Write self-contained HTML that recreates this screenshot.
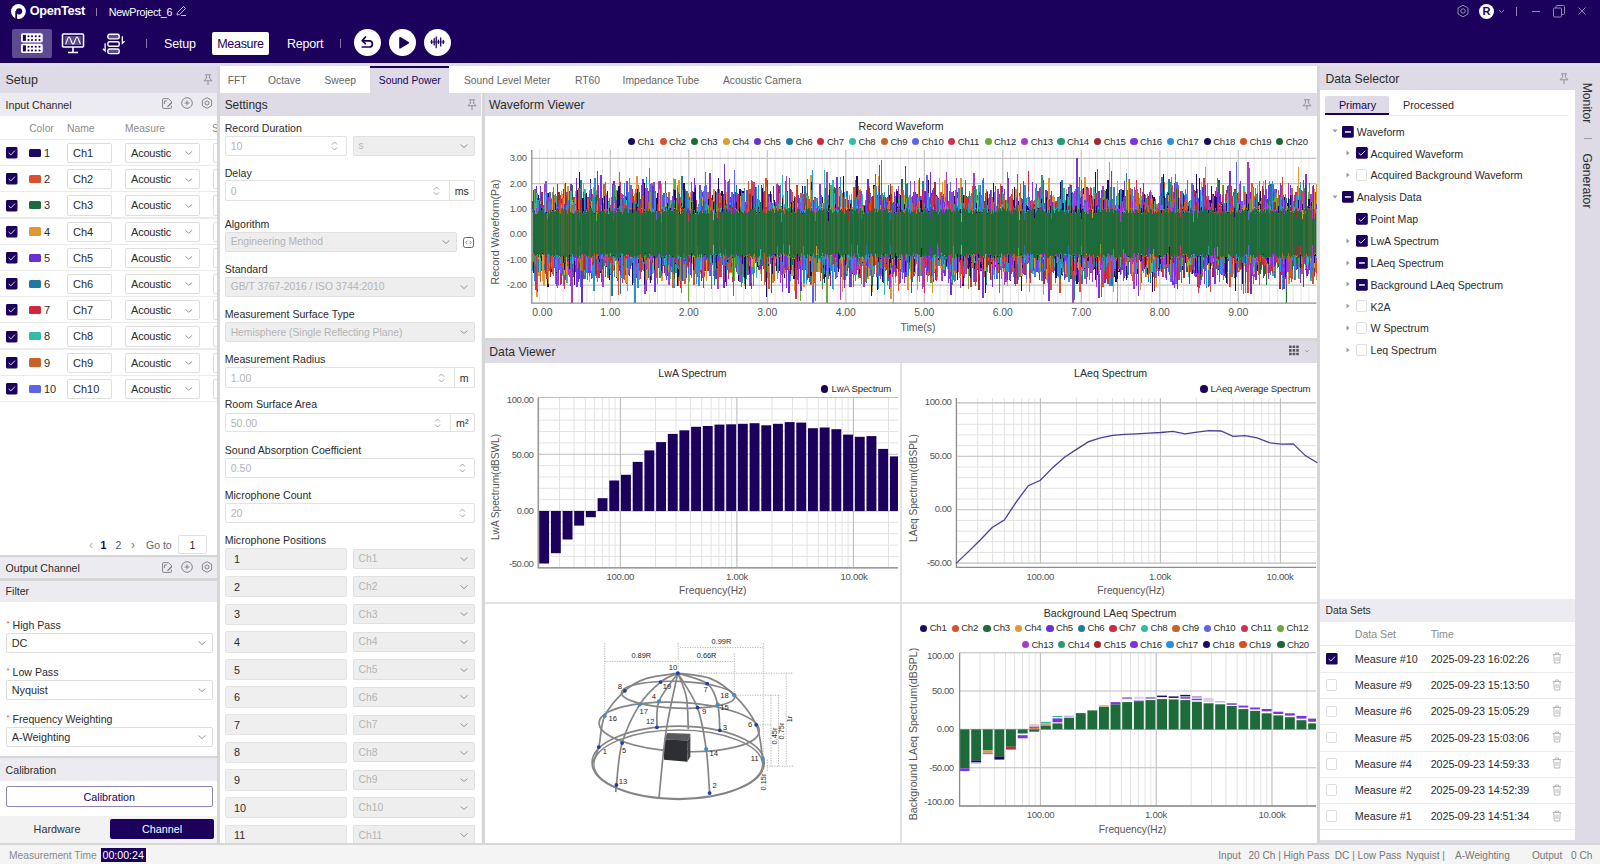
<!DOCTYPE html>
<html><head><meta charset="utf-8"><title>OpenTest</title>
<style>
html,body{margin:0;padding:0;}
body{width:1600px;height:864px;overflow:hidden;position:relative;background:#f4f4f4;font-family:"Liberation Sans",sans-serif;}
body div, body svg{position:absolute;box-sizing:border-box;white-space:nowrap;}
svg{overflow:visible;}
</style></head><body>
<div style="left:0px;top:0px;width:1600px;height:63px;background:#1b015c"></div>
<div style="left:0px;top:63px;width:1600px;height:3px;background:#e0dfdd"></div>
<svg style="left:0px;top:0px" width="30" height="24" viewBox="0 0 30 24">
<circle cx="18.4" cy="11.5" r="7.4" fill="#fff"/>
<circle cx="19.1" cy="11.3" r="3.1" fill="#1b015c"/>
<rect x="15.3" y="11" width="1.8" height="8.8" fill="#1b015c"/>
</svg>
<div style="left:29.7px;top:3.0px;font-size:12.7px;line-height:17px;color:#fff;font-weight:bold;letter-spacing:-0.3px">OpenTest</div>
<div style="left:96px;top:8px;width:1px;height:8px;background:#8f86a8"></div>
<div style="left:108.7px;top:4.8px;font-size:10.7px;line-height:14px;color:#fff;font-weight:normal;letter-spacing:-0.25px">NewProject_6</div>
<svg style="left:175px;top:5px" width="12" height="12" viewBox="0 0 12 12" fill="none" stroke="#c9c3dc" stroke-width="1">
<path d="M2 10 L2.5 7.5 L8.5 1.5 L10.5 3.5 L4.5 9.5 Z"/><path d="M6 10.5 H11"/></svg>
<div style="left:12px;top:28.5px;width:40px;height:29px;background:#5c4b90;border-radius:2px"></div>
<svg style="left:20px;top:32px" width="24" height="22" viewBox="0 0 24 22"><rect x="1" y="1.25" width="21.75" height="9.25" rx="1.8" fill="#fff"/><rect x="2.9" y="2.85" width="3" height="6.05" fill="#1b015c"/><circle cx="8.5" cy="4.25" r="1.05" fill="#1b015c"/><circle cx="8.5" cy="8.0" r="1.05" fill="#1b015c"/><circle cx="12" cy="4.25" r="1.05" fill="#1b015c"/><circle cx="12" cy="8.0" r="1.05" fill="#1b015c"/><circle cx="15.75" cy="4.25" r="1.05" fill="#1b015c"/><circle cx="15.75" cy="8.0" r="1.05" fill="#1b015c"/><circle cx="19.5" cy="4.25" r="1.05" fill="#1b015c"/><circle cx="19.5" cy="8.0" r="1.05" fill="#1b015c"/><rect x="1" y="11.75" width="21.75" height="9.25" rx="1.8" fill="#fff"/><rect x="2.9" y="13.35" width="3" height="6.05" fill="#1b015c"/><circle cx="8.5" cy="14.75" r="1.05" fill="#1b015c"/><circle cx="8.5" cy="18.5" r="1.05" fill="#1b015c"/><circle cx="12" cy="14.75" r="1.05" fill="#1b015c"/><circle cx="12" cy="18.5" r="1.05" fill="#1b015c"/><circle cx="15.75" cy="14.75" r="1.05" fill="#1b015c"/><circle cx="15.75" cy="18.5" r="1.05" fill="#1b015c"/><circle cx="19.5" cy="14.75" r="1.05" fill="#1b015c"/><circle cx="19.5" cy="18.5" r="1.05" fill="#1b015c"/></svg>
<svg style="left:61px;top:33px" width="24" height="21" viewBox="0 0 24 21" fill="none" stroke="#fff" stroke-width="1.6">
<rect x="1.5" y="1" width="21" height="13" rx="1"/><rect x="3.5" y="3" width="17" height="9" fill="#5c4b90" stroke="none"/>
<path d="M4.3 11 C5.8 11 6.3 4 8 4 C9.7 4 10.3 11 12 11 C13.7 11 14.3 4 16 4 C17.7 4 18.3 11 19.8 10.5" stroke-width="1.1"/>
<path d="M12 14 V19 M7 19.5 H17"/></svg>
<svg style="left:102px;top:32px" width="24" height="23" viewBox="0 0 24 23" fill="none" stroke="#fff" stroke-width="1.6">
<rect x="5.9" y="2.3" width="11.3" height="4.6" rx="1.6" fill="#5c4b90" stroke-width="1.4"/><rect x="5.9" y="9.7" width="11.3" height="4.6" rx="1.6" stroke-width="1.4"/><rect x="5.9" y="17" width="11.3" height="4.6" rx="1.6" fill="#5c4b90" stroke-width="1.4"/>
<path d="M20.3 4.3 V11.3 L22.6 9.3" stroke-width="1.3"/>
<path d="M3.1 11.3 V18.9 L0.9 16.8" stroke-width="1.3"/></svg>
<div style="left:146px;top:39px;width:1px;height:9px;background:#7f77a0"></div>
<div style="left:164.0px;top:35.5px;font-size:12.5px;line-height:16px;color:#fff;font-weight:normal;letter-spacing:-0.2px">Setup</div>
<div style="left:212px;top:31.5px;width:57px;height:23.5px;background:#fff;border-radius:2px"></div>
<div style="left:210.5px;top:35.5px;font-size:12.5px;line-height:16px;color:#1b015c;font-weight:normal;width:60px;text-align:center;letter-spacing:-0.3px">Measure</div>
<div style="left:287.0px;top:35.5px;font-size:12.5px;line-height:16px;color:#fff;font-weight:normal;letter-spacing:-0.2px">Report</div>
<div style="left:340px;top:39px;width:1px;height:9px;background:#7f77a0"></div>
<div style="left:353.9px;top:29px;width:26.8px;height:26.8px;border-radius:50%;background:#fff"></div>
<div style="left:389.3px;top:29px;width:26.8px;height:26.8px;border-radius:50%;background:#fff"></div>
<div style="left:424.2px;top:29px;width:26.8px;height:26.8px;border-radius:50%;background:#fff"></div>
<svg style="left:357px;top:32px" width="20" height="20" viewBox="0 0 20 20" fill="none" stroke="#1b015c" stroke-width="1.7">
<path d="M8.5 5 L5.3 8.6 L8.3 11.6" stroke-linecap="round" stroke-linejoin="round"/><path d="M5.5 8.9 H12.3 A3.05 3.05 0 0 1 12.3 15 H5.3" stroke-linecap="round"/></svg>
<svg style="left:393px;top:33px" width="20" height="20" viewBox="0 0 20 20"><path d="M7 4.8 L15.3 9.8 L7 14.8 Z" fill="#1b015c" stroke="#1b015c" stroke-width="1.6" stroke-linejoin="round"/></svg>
<svg style="left:428px;top:33px" width="20" height="20" viewBox="0 0 20 20" stroke="#1b015c" stroke-width="1.5" stroke-linecap="round">
<path d="M3.7 7.5V10.4 M6.2 5.7V11.9 M8.2 4V14.7 M10.4 7.2V10.4 M12.7 5V12.9 M15.2 7.5V10.4" stroke-width="1.3"/><path d="M2.5 9 H16.5" stroke-width="0.8"/></svg>
<svg style="left:1456px;top:4px" width="14" height="14" viewBox="0 0 14 14" fill="none" stroke="#8f89ab" stroke-width="1">
<path d="M7 1.2 L12 4 V10 L7 12.8 L2 10 V4 Z"/><circle cx="7" cy="7" r="2.2"/></svg>
<div style="left:1479px;top:4px;width:15px;height:15px;border-radius:50%;background:#fff;color:#1b015c;font-size:11px;line-height:15px;text-align:center;font-weight:bold">R</div>
<svg style="left:1498px;top:9px" width="7" height="5" viewBox="0 0 7 5" fill="none" stroke="#8f89ab" stroke-width="1"><path d="M1 1 L3.5 3.5 L6 1"/></svg>
<div style="left:1515.5px;top:7px;width:1.5px;height:9px;background:#8f89ab"></div>
<div style="left:1532px;top:11px;width:8px;height:1px;background:#8f89ab"></div>
<svg style="left:1552px;top:4px" width="14" height="14" viewBox="0 0 14 14" fill="none" stroke="#8f89ab" stroke-width="1">
<rect x="1.5" y="4" width="8" height="9" rx="1"/><path d="M4 4 V2.5 A1 1 0 0 1 5 1.5 H11.5 A1 1 0 0 1 12.5 2.5 V9.5 A1 1 0 0 1 11.5 10.5 H9.5"/></svg>
<svg style="left:1577px;top:6px" width="10" height="10" viewBox="0 0 10 10" fill="none" stroke="#8f89ab" stroke-width="1"><path d="M1.5 1.5 L8.5 8.5 M8.5 1.5 L1.5 8.5"/></svg>
<div style="left:0px;top:66px;width:217px;height:26.5px;background:#dedbe7"></div>
<div style="left:0px;top:92.5px;width:217px;height:23.5px;background:#ecebf1"></div>
<div style="left:0px;top:116px;width:217px;height:439px;background:#fff"></div>
<div style="left:0px;top:555px;width:217px;height:2.3px;background:#d6d6d6"></div>
<div style="left:0px;top:557.3px;width:217px;height:20.8px;background:#ecebf1"></div>
<div style="left:0px;top:578.1px;width:217px;height:2.6px;background:#d6d6d6"></div>
<div style="left:0px;top:580.7px;width:217px;height:21.5px;background:#ecebf1"></div>
<div style="left:0px;top:602.2px;width:217px;height:153.8px;background:#fff"></div>
<div style="left:0px;top:756px;width:217px;height:2.2px;background:#d6d6d6"></div>
<div style="left:0px;top:758.2px;width:217px;height:22.5px;background:#ecebf1"></div>
<div style="left:0px;top:780.7px;width:217px;height:35px;background:#fff"></div>
<div style="left:0px;top:815.7px;width:217px;height:27px;background:#f2f2f2"></div>
<div style="left:217px;top:66px;width:3px;height:777px;background:#d6d6d6"></div>
<div style="left:220px;top:66px;width:1097px;height:27px;background:#fff"></div>
<div style="left:370.4px;top:66px;width:78.4px;height:27px;background:#dedbe7"></div>
<div style="left:370.4px;top:66px;width:78.4px;height:2px;background:#1b015c"></div>
<div style="left:220px;top:93px;width:261px;height:23px;background:#dedbe7"></div>
<div style="left:220px;top:116px;width:261px;height:727px;background:#fff"></div>
<div style="left:481.6px;top:93px;width:3px;height:750px;background:#d6d6d6"></div>
<div style="left:484.5px;top:93px;width:832.5px;height:23px;background:#dedbe7"></div>
<div style="left:484.5px;top:116px;width:832.5px;height:222px;background:#fff"></div>
<div style="left:484.5px;top:338px;width:832.5px;height:3px;background:#d6d6d6"></div>
<div style="left:484.5px;top:341px;width:832.5px;height:22px;background:#dedbe7"></div>
<div style="left:484.5px;top:363px;width:832.5px;height:480px;background:#fff"></div>
<div style="left:900.3px;top:363px;width:1.8px;height:480px;background:#e2e2e2"></div>
<div style="left:484.5px;top:602px;width:832.5px;height:1.5px;background:#e2e2e2"></div>
<div style="left:1317px;top:66px;width:3px;height:777px;background:#d6d6d6"></div>
<div style="left:1320px;top:66px;width:280px;height:777px;background:#dedbe7"></div>
<div style="left:1320px;top:90px;width:255px;height:508.7px;background:#fff"></div>
<div style="left:1320px;top:598.7px;width:255px;height:23px;background:#ecebf1"></div>
<div style="left:1320px;top:621.7px;width:255px;height:218px;background:#fff"></div>
<div style="left:0px;top:842.5px;width:1600px;height:2.5px;background:#d6d6d6"></div>
<div style="left:0px;top:845px;width:1600px;height:19px;background:#f4f4f4"></div>
<div style="left:0px;top:66px;width:217px;height:777px;overflow:hidden"><div style="left:0px;top:-66px;width:1600px;height:864px">
<div style="left:5.6px;top:71.5px;font-size:12.5px;line-height:16px;color:#2b2b2b;font-weight:normal;letter-spacing:-0.1px">Setup</div>
<svg style="left:202.5px;top:73.5px" width="10" height="12" viewBox="0 0 10 12" fill="none" stroke="#8a8a8a" stroke-width="0.9" stroke-linejoin="round"><path d="M2.2 0.8 H7.8 M3.2 0.8 L3.6 4 L1 6.8 H9 L6.4 4 L6.8 0.8 M5 6.8 V11"/></svg>
<div style="left:5.6px;top:98.0px;font-size:10.6px;line-height:14px;color:#2b2b2b;font-weight:normal;">Input Channel</div>
<svg style="left:161.5px;top:97.5px" width="11" height="11" viewBox="0 0 11 11" fill="none" stroke="#7a7a7a" stroke-width="0.9"><path d="M6.5 0.6 H1.5 A0.9 0.9 0 0 0 0.6 1.5 V9.5 A0.9 0.9 0 0 0 1.5 10.4 H8.5 A0.9 0.9 0 0 0 9.4 9.5 V7.5"/><path d="M6.5 0.6 L9.4 3.5 V5"/><path d="M2.5 3 H5 M2.5 3 V6"/><path d="M5.5 8.8 L9.8 4.5" stroke-width="1.2"/></svg>
<svg style="left:180.6px;top:97px" width="12" height="12" viewBox="0 0 12 12" fill="none" stroke="#7a7a7a" stroke-width="0.9"><circle cx="6" cy="6" r="5.3"/><path d="M6 3.5 V8.5 M3.5 6 H8.5"/></svg>
<svg style="left:201px;top:97px" width="12" height="12" viewBox="0 0 12 12" fill="none" stroke="#7a7a7a" stroke-width="0.9"><path d="M6 0.7 L10.6 3.3 V8.7 L6 11.3 L1.4 8.7 V3.3 Z"/><circle cx="6" cy="6" r="2"/></svg>
<div style="left:29.2px;top:121.5px;font-size:10.3px;line-height:13px;color:#8c8c8c;font-weight:normal;">Color</div>
<div style="left:67.0px;top:121.5px;font-size:10.3px;line-height:13px;color:#8c8c8c;font-weight:normal;">Name</div>
<div style="left:125.0px;top:121.5px;font-size:10.3px;line-height:13px;color:#8c8c8c;font-weight:normal;">Measure</div>
<div style="left:212.0px;top:121.5px;font-size:10.3px;line-height:13px;color:#8c8c8c;font-weight:normal;">S</div>
<div style="left:0px;top:138.70000000000002px;width:217px;height:1.4px;background:#ebebeb"></div>
<div style="left:0px;top:164.9px;width:217px;height:1.4px;background:#ebebeb"></div>
<div style="left:0px;top:191.10000000000002px;width:217px;height:1.4px;background:#ebebeb"></div>
<div style="left:0px;top:217.3px;width:217px;height:1.4px;background:#ebebeb"></div>
<div style="left:0px;top:243.5px;width:217px;height:1.4px;background:#ebebeb"></div>
<div style="left:0px;top:269.7px;width:217px;height:1.4px;background:#ebebeb"></div>
<div style="left:0px;top:295.90000000000003px;width:217px;height:1.4px;background:#ebebeb"></div>
<div style="left:0px;top:322.1px;width:217px;height:1.4px;background:#ebebeb"></div>
<div style="left:0px;top:348.3px;width:217px;height:1.4px;background:#ebebeb"></div>
<div style="left:0px;top:374.5px;width:217px;height:1.4px;background:#ebebeb"></div>
<div style="left:0px;top:400.7px;width:217px;height:1.4px;background:#ebebeb"></div>
<svg style="left:6px;top:147.2px" width="11.5" height="11.5" viewBox="0 0 12 12"><rect x="0" y="0" width="12" height="12" rx="1.5" fill="#1b015c"/><path d="M2.8 6.2 L5 8.3 L9.3 3.8" fill="none" stroke="#fff" stroke-width="0.9"/></svg>
<div style="left:29.25px;top:148.8px;width:11.5px;height:8.3px;background:#1b0a60;border-radius:1.5px"></div>
<div style="left:44.0px;top:146.0px;font-size:11px;line-height:14px;color:#2b2b2b;font-weight:normal;">1</div>
<div style="left:67.3px;top:143.0px;width:45.2px;height:20.2px;border:1px solid #dedede;border-radius:2px;background:#fff"></div>
<div style="left:73.0px;top:146.0px;font-size:11px;line-height:14px;color:#2b2b2b;font-weight:normal;">Ch1</div>
<div style="left:125.2px;top:143.0px;width:74.5px;height:20.2px;border:1px solid #dedede;border-radius:2px;background:#fff"></div>
<div style="left:131.0px;top:146.0px;font-size:11px;line-height:14px;color:#2b2b2b;font-weight:normal;letter-spacing:-0.2px">Acoustic</div>
<svg style="left:185.05px;top:151.425px" width="7.5" height="3.75" viewBox="0 0 7.5 3.75" fill="none" stroke="#8a8a8a" stroke-width="0.9"><path d="M0.5 0.5 L3.75 3.25 L7.0 0.5"/></svg>
<div style="left:212.5px;top:143.0px;width:10px;height:20.2px;border:1px solid #dedede;border-radius:2px;background:#fff"></div>
<svg style="left:6px;top:173.39999999999998px" width="11.5" height="11.5" viewBox="0 0 12 12"><rect x="0" y="0" width="12" height="12" rx="1.5" fill="#1b015c"/><path d="M2.8 6.2 L5 8.3 L9.3 3.8" fill="none" stroke="#fff" stroke-width="0.9"/></svg>
<div style="left:29.25px;top:175.0px;width:11.5px;height:8.3px;background:#d8502e;border-radius:1.5px"></div>
<div style="left:44.0px;top:172.2px;font-size:11px;line-height:14px;color:#2b2b2b;font-weight:normal;">2</div>
<div style="left:67.3px;top:169.2px;width:45.2px;height:20.2px;border:1px solid #dedede;border-radius:2px;background:#fff"></div>
<div style="left:73.0px;top:172.2px;font-size:11px;line-height:14px;color:#2b2b2b;font-weight:normal;">Ch2</div>
<div style="left:125.2px;top:169.2px;width:74.5px;height:20.2px;border:1px solid #dedede;border-radius:2px;background:#fff"></div>
<div style="left:131.0px;top:172.2px;font-size:11px;line-height:14px;color:#2b2b2b;font-weight:normal;letter-spacing:-0.2px">Acoustic</div>
<svg style="left:185.05px;top:177.625px" width="7.5" height="3.75" viewBox="0 0 7.5 3.75" fill="none" stroke="#8a8a8a" stroke-width="0.9"><path d="M0.5 0.5 L3.75 3.25 L7.0 0.5"/></svg>
<div style="left:212.5px;top:169.2px;width:10px;height:20.2px;border:1px solid #dedede;border-radius:2px;background:#fff"></div>
<svg style="left:6px;top:199.6px" width="11.5" height="11.5" viewBox="0 0 12 12"><rect x="0" y="0" width="12" height="12" rx="1.5" fill="#1b015c"/><path d="M2.8 6.2 L5 8.3 L9.3 3.8" fill="none" stroke="#fff" stroke-width="0.9"/></svg>
<div style="left:29.25px;top:201.20000000000002px;width:11.5px;height:8.3px;background:#1e6b3a;border-radius:1.5px"></div>
<div style="left:44.0px;top:198.4px;font-size:11px;line-height:14px;color:#2b2b2b;font-weight:normal;">3</div>
<div style="left:67.3px;top:195.4px;width:45.2px;height:20.2px;border:1px solid #dedede;border-radius:2px;background:#fff"></div>
<div style="left:73.0px;top:198.4px;font-size:11px;line-height:14px;color:#2b2b2b;font-weight:normal;">Ch3</div>
<div style="left:125.2px;top:195.4px;width:74.5px;height:20.2px;border:1px solid #dedede;border-radius:2px;background:#fff"></div>
<div style="left:131.0px;top:198.4px;font-size:11px;line-height:14px;color:#2b2b2b;font-weight:normal;letter-spacing:-0.2px">Acoustic</div>
<svg style="left:185.05px;top:203.82500000000002px" width="7.5" height="3.75" viewBox="0 0 7.5 3.75" fill="none" stroke="#8a8a8a" stroke-width="0.9"><path d="M0.5 0.5 L3.75 3.25 L7.0 0.5"/></svg>
<div style="left:212.5px;top:195.4px;width:10px;height:20.2px;border:1px solid #dedede;border-radius:2px;background:#fff"></div>
<svg style="left:6px;top:225.79999999999998px" width="11.5" height="11.5" viewBox="0 0 12 12"><rect x="0" y="0" width="12" height="12" rx="1.5" fill="#1b015c"/><path d="M2.8 6.2 L5 8.3 L9.3 3.8" fill="none" stroke="#fff" stroke-width="0.9"/></svg>
<div style="left:29.25px;top:227.4px;width:11.5px;height:8.3px;background:#e0992e;border-radius:1.5px"></div>
<div style="left:44.0px;top:224.6px;font-size:11px;line-height:14px;color:#2b2b2b;font-weight:normal;">4</div>
<div style="left:67.3px;top:221.6px;width:45.2px;height:20.2px;border:1px solid #dedede;border-radius:2px;background:#fff"></div>
<div style="left:73.0px;top:224.6px;font-size:11px;line-height:14px;color:#2b2b2b;font-weight:normal;">Ch4</div>
<div style="left:125.2px;top:221.6px;width:74.5px;height:20.2px;border:1px solid #dedede;border-radius:2px;background:#fff"></div>
<div style="left:131.0px;top:224.6px;font-size:11px;line-height:14px;color:#2b2b2b;font-weight:normal;letter-spacing:-0.2px">Acoustic</div>
<svg style="left:185.05px;top:230.025px" width="7.5" height="3.75" viewBox="0 0 7.5 3.75" fill="none" stroke="#8a8a8a" stroke-width="0.9"><path d="M0.5 0.5 L3.75 3.25 L7.0 0.5"/></svg>
<div style="left:212.5px;top:221.6px;width:10px;height:20.2px;border:1px solid #dedede;border-radius:2px;background:#fff"></div>
<svg style="left:6px;top:252.0px" width="11.5" height="11.5" viewBox="0 0 12 12"><rect x="0" y="0" width="12" height="12" rx="1.5" fill="#1b015c"/><path d="M2.8 6.2 L5 8.3 L9.3 3.8" fill="none" stroke="#fff" stroke-width="0.9"/></svg>
<div style="left:29.25px;top:253.60000000000002px;width:11.5px;height:8.3px;background:#6b30d0;border-radius:1.5px"></div>
<div style="left:44.0px;top:250.8px;font-size:11px;line-height:14px;color:#2b2b2b;font-weight:normal;">5</div>
<div style="left:67.3px;top:247.8px;width:45.2px;height:20.2px;border:1px solid #dedede;border-radius:2px;background:#fff"></div>
<div style="left:73.0px;top:250.8px;font-size:11px;line-height:14px;color:#2b2b2b;font-weight:normal;">Ch5</div>
<div style="left:125.2px;top:247.8px;width:74.5px;height:20.2px;border:1px solid #dedede;border-radius:2px;background:#fff"></div>
<div style="left:131.0px;top:250.8px;font-size:11px;line-height:14px;color:#2b2b2b;font-weight:normal;letter-spacing:-0.2px">Acoustic</div>
<svg style="left:185.05px;top:256.225px" width="7.5" height="3.75" viewBox="0 0 7.5 3.75" fill="none" stroke="#8a8a8a" stroke-width="0.9"><path d="M0.5 0.5 L3.75 3.25 L7.0 0.5"/></svg>
<div style="left:212.5px;top:247.8px;width:10px;height:20.2px;border:1px solid #dedede;border-radius:2px;background:#fff"></div>
<svg style="left:6px;top:278.2px" width="11.5" height="11.5" viewBox="0 0 12 12"><rect x="0" y="0" width="12" height="12" rx="1.5" fill="#1b015c"/><path d="M2.8 6.2 L5 8.3 L9.3 3.8" fill="none" stroke="#fff" stroke-width="0.9"/></svg>
<div style="left:29.25px;top:279.8px;width:11.5px;height:8.3px;background:#1f7aa0;border-radius:1.5px"></div>
<div style="left:44.0px;top:277.0px;font-size:11px;line-height:14px;color:#2b2b2b;font-weight:normal;">6</div>
<div style="left:67.3px;top:274.0px;width:45.2px;height:20.2px;border:1px solid #dedede;border-radius:2px;background:#fff"></div>
<div style="left:73.0px;top:277.0px;font-size:11px;line-height:14px;color:#2b2b2b;font-weight:normal;">Ch6</div>
<div style="left:125.2px;top:274.0px;width:74.5px;height:20.2px;border:1px solid #dedede;border-radius:2px;background:#fff"></div>
<div style="left:131.0px;top:277.0px;font-size:11px;line-height:14px;color:#2b2b2b;font-weight:normal;letter-spacing:-0.2px">Acoustic</div>
<svg style="left:185.05px;top:282.425px" width="7.5" height="3.75" viewBox="0 0 7.5 3.75" fill="none" stroke="#8a8a8a" stroke-width="0.9"><path d="M0.5 0.5 L3.75 3.25 L7.0 0.5"/></svg>
<div style="left:212.5px;top:274.0px;width:10px;height:20.2px;border:1px solid #dedede;border-radius:2px;background:#fff"></div>
<svg style="left:6px;top:304.4px" width="11.5" height="11.5" viewBox="0 0 12 12"><rect x="0" y="0" width="12" height="12" rx="1.5" fill="#1b015c"/><path d="M2.8 6.2 L5 8.3 L9.3 3.8" fill="none" stroke="#fff" stroke-width="0.9"/></svg>
<div style="left:29.25px;top:306.0px;width:11.5px;height:8.3px;background:#d0283c;border-radius:1.5px"></div>
<div style="left:44.0px;top:303.2px;font-size:11px;line-height:14px;color:#2b2b2b;font-weight:normal;">7</div>
<div style="left:67.3px;top:300.2px;width:45.2px;height:20.2px;border:1px solid #dedede;border-radius:2px;background:#fff"></div>
<div style="left:73.0px;top:303.2px;font-size:11px;line-height:14px;color:#2b2b2b;font-weight:normal;">Ch7</div>
<div style="left:125.2px;top:300.2px;width:74.5px;height:20.2px;border:1px solid #dedede;border-radius:2px;background:#fff"></div>
<div style="left:131.0px;top:303.2px;font-size:11px;line-height:14px;color:#2b2b2b;font-weight:normal;letter-spacing:-0.2px">Acoustic</div>
<svg style="left:185.05px;top:308.625px" width="7.5" height="3.75" viewBox="0 0 7.5 3.75" fill="none" stroke="#8a8a8a" stroke-width="0.9"><path d="M0.5 0.5 L3.75 3.25 L7.0 0.5"/></svg>
<div style="left:212.5px;top:300.2px;width:10px;height:20.2px;border:1px solid #dedede;border-radius:2px;background:#fff"></div>
<svg style="left:6px;top:330.59999999999997px" width="11.5" height="11.5" viewBox="0 0 12 12"><rect x="0" y="0" width="12" height="12" rx="1.5" fill="#1b015c"/><path d="M2.8 6.2 L5 8.3 L9.3 3.8" fill="none" stroke="#fff" stroke-width="0.9"/></svg>
<div style="left:29.25px;top:332.2px;width:11.5px;height:8.3px;background:#30bca8;border-radius:1.5px"></div>
<div style="left:44.0px;top:329.4px;font-size:11px;line-height:14px;color:#2b2b2b;font-weight:normal;">8</div>
<div style="left:67.3px;top:326.4px;width:45.2px;height:20.2px;border:1px solid #dedede;border-radius:2px;background:#fff"></div>
<div style="left:73.0px;top:329.4px;font-size:11px;line-height:14px;color:#2b2b2b;font-weight:normal;">Ch8</div>
<div style="left:125.2px;top:326.4px;width:74.5px;height:20.2px;border:1px solid #dedede;border-radius:2px;background:#fff"></div>
<div style="left:131.0px;top:329.4px;font-size:11px;line-height:14px;color:#2b2b2b;font-weight:normal;letter-spacing:-0.2px">Acoustic</div>
<svg style="left:185.05px;top:334.825px" width="7.5" height="3.75" viewBox="0 0 7.5 3.75" fill="none" stroke="#8a8a8a" stroke-width="0.9"><path d="M0.5 0.5 L3.75 3.25 L7.0 0.5"/></svg>
<div style="left:212.5px;top:326.4px;width:10px;height:20.2px;border:1px solid #dedede;border-radius:2px;background:#fff"></div>
<svg style="left:6px;top:356.8px" width="11.5" height="11.5" viewBox="0 0 12 12"><rect x="0" y="0" width="12" height="12" rx="1.5" fill="#1b015c"/><path d="M2.8 6.2 L5 8.3 L9.3 3.8" fill="none" stroke="#fff" stroke-width="0.9"/></svg>
<div style="left:29.25px;top:358.40000000000003px;width:11.5px;height:8.3px;background:#c8622a;border-radius:1.5px"></div>
<div style="left:44.0px;top:355.6px;font-size:11px;line-height:14px;color:#2b2b2b;font-weight:normal;">9</div>
<div style="left:67.3px;top:352.6px;width:45.2px;height:20.2px;border:1px solid #dedede;border-radius:2px;background:#fff"></div>
<div style="left:73.0px;top:355.6px;font-size:11px;line-height:14px;color:#2b2b2b;font-weight:normal;">Ch9</div>
<div style="left:125.2px;top:352.6px;width:74.5px;height:20.2px;border:1px solid #dedede;border-radius:2px;background:#fff"></div>
<div style="left:131.0px;top:355.6px;font-size:11px;line-height:14px;color:#2b2b2b;font-weight:normal;letter-spacing:-0.2px">Acoustic</div>
<svg style="left:185.05px;top:361.02500000000003px" width="7.5" height="3.75" viewBox="0 0 7.5 3.75" fill="none" stroke="#8a8a8a" stroke-width="0.9"><path d="M0.5 0.5 L3.75 3.25 L7.0 0.5"/></svg>
<div style="left:212.5px;top:352.6px;width:10px;height:20.2px;border:1px solid #dedede;border-radius:2px;background:#fff"></div>
<svg style="left:6px;top:382.99999999999994px" width="11.5" height="11.5" viewBox="0 0 12 12"><rect x="0" y="0" width="12" height="12" rx="1.5" fill="#1b015c"/><path d="M2.8 6.2 L5 8.3 L9.3 3.8" fill="none" stroke="#fff" stroke-width="0.9"/></svg>
<div style="left:29.25px;top:384.59999999999997px;width:11.5px;height:8.3px;background:#5d65e6;border-radius:1.5px"></div>
<div style="left:44.0px;top:381.8px;font-size:11px;line-height:14px;color:#2b2b2b;font-weight:normal;">10</div>
<div style="left:67.3px;top:378.79999999999995px;width:45.2px;height:20.2px;border:1px solid #dedede;border-radius:2px;background:#fff"></div>
<div style="left:73.0px;top:381.8px;font-size:11px;line-height:14px;color:#2b2b2b;font-weight:normal;">Ch10</div>
<div style="left:125.2px;top:378.79999999999995px;width:74.5px;height:20.2px;border:1px solid #dedede;border-radius:2px;background:#fff"></div>
<div style="left:131.0px;top:381.8px;font-size:11px;line-height:14px;color:#2b2b2b;font-weight:normal;letter-spacing:-0.2px">Acoustic</div>
<svg style="left:185.05px;top:387.22499999999997px" width="7.5" height="3.75" viewBox="0 0 7.5 3.75" fill="none" stroke="#8a8a8a" stroke-width="0.9"><path d="M0.5 0.5 L3.75 3.25 L7.0 0.5"/></svg>
<div style="left:212.5px;top:378.79999999999995px;width:10px;height:20.2px;border:1px solid #dedede;border-radius:2px;background:#fff"></div>
<div style="left:89.0px;top:536.5px;font-size:12px;line-height:16px;color:#b5b5b5;font-weight:normal;">&lsaquo;</div>
<div style="left:100.5px;top:537.5px;font-size:10.5px;line-height:14px;color:#1b015c;font-weight:bold;">1</div>
<div style="left:115.5px;top:537.5px;font-size:10.5px;line-height:14px;color:#555;font-weight:normal;">2</div>
<div style="left:131.0px;top:536.5px;font-size:12px;line-height:16px;color:#777;font-weight:normal;">&rsaquo;</div>
<div style="left:146.0px;top:537.5px;font-size:10.5px;line-height:14px;color:#666;font-weight:normal;">Go to</div>
<div style="left:178px;top:535.3px;width:28.6px;height:18.5px;border:1px solid #e0e0e0;border-radius:2px;background:#fff"></div>
<div style="left:182.3px;top:537.5px;font-size:10.5px;line-height:14px;color:#2b2b2b;font-weight:normal;width:20px;text-align:center;">1</div>
<div style="left:5.6px;top:560.8px;font-size:10.6px;line-height:14px;color:#2b2b2b;font-weight:normal;">Output Channel</div>
<svg style="left:161.5px;top:561.5px" width="11" height="11" viewBox="0 0 11 11" fill="none" stroke="#7a7a7a" stroke-width="0.9"><path d="M6.5 0.6 H1.5 A0.9 0.9 0 0 0 0.6 1.5 V9.5 A0.9 0.9 0 0 0 1.5 10.4 H8.5 A0.9 0.9 0 0 0 9.4 9.5 V7.5"/><path d="M6.5 0.6 L9.4 3.5 V5"/><path d="M2.5 3 H5 M2.5 3 V6"/><path d="M5.5 8.8 L9.8 4.5" stroke-width="1.2"/></svg>
<svg style="left:180.6px;top:561px" width="12" height="12" viewBox="0 0 12 12" fill="none" stroke="#7a7a7a" stroke-width="0.9"><circle cx="6" cy="6" r="5.3"/><path d="M6 3.5 V8.5 M3.5 6 H8.5"/></svg>
<svg style="left:201px;top:561px" width="12" height="12" viewBox="0 0 12 12" fill="none" stroke="#7a7a7a" stroke-width="0.9"><path d="M6 0.7 L10.6 3.3 V8.7 L6 11.3 L1.4 8.7 V3.3 Z"/><circle cx="6" cy="6" r="2"/></svg>
<div style="left:5.6px;top:584.3px;font-size:10.6px;line-height:14px;color:#2b2b2b;font-weight:normal;">Filter</div>
</div></div>
<div style="left:6.5px;top:618.7px;font-size:8px;line-height:10px;color:#e05a3a;font-weight:normal;">*</div>
<div style="left:12.5px;top:618.2px;font-size:10.6px;line-height:14px;color:#2b2b2b;font-weight:normal;">High Pass</div>
<div style="left:6.4px;top:633.3px;width:206.2px;height:19.6px;border:1px solid #dedede;border-radius:2px;background:#fff"></div>
<div style="left:11.7px;top:636.1px;font-size:10.8px;line-height:14px;color:#2b2b2b;font-weight:normal;">DC</div>
<svg style="left:198.1px;top:641.3999999999999px" width="8" height="4.0" viewBox="0 0 8 4.0" fill="none" stroke="#8a8a8a" stroke-width="0.9"><path d="M0.5 0.5 L4.0 3.5 L7.5 0.5"/></svg>
<div style="left:6.5px;top:665.5px;font-size:8px;line-height:10px;color:#e05a3a;font-weight:normal;">*</div>
<div style="left:12.5px;top:665.0px;font-size:10.6px;line-height:14px;color:#2b2b2b;font-weight:normal;">Low Pass</div>
<div style="left:6.4px;top:680.3px;width:206.2px;height:19.6px;border:1px solid #dedede;border-radius:2px;background:#fff"></div>
<div style="left:11.7px;top:683.1px;font-size:10.8px;line-height:14px;color:#2b2b2b;font-weight:normal;">Nyquist</div>
<svg style="left:198.1px;top:688.3999999999999px" width="8" height="4.0" viewBox="0 0 8 4.0" fill="none" stroke="#8a8a8a" stroke-width="0.9"><path d="M0.5 0.5 L4.0 3.5 L7.5 0.5"/></svg>
<div style="left:6.5px;top:712.5px;font-size:8px;line-height:10px;color:#e05a3a;font-weight:normal;">*</div>
<div style="left:12.5px;top:712.0px;font-size:10.6px;line-height:14px;color:#2b2b2b;font-weight:normal;">Frequency Weighting</div>
<div style="left:6.4px;top:727.2px;width:206.2px;height:19.4px;border:1px solid #dedede;border-radius:2px;background:#fff"></div>
<div style="left:11.7px;top:729.9px;font-size:10.8px;line-height:14px;color:#2b2b2b;font-weight:normal;">A-Weighting</div>
<svg style="left:198.1px;top:735.2px" width="8" height="4.0" viewBox="0 0 8 4.0" fill="none" stroke="#8a8a8a" stroke-width="0.9"><path d="M0.5 0.5 L4.0 3.5 L7.5 0.5"/></svg>
<div style="left:5.6px;top:762.5px;font-size:10.6px;line-height:14px;color:#2b2b2b;font-weight:normal;">Calibration</div>
<div style="left:6px;top:786.4px;width:206.6px;height:20.5px;border:1px solid #8d84b8;border-radius:2px;background:#fff"></div>
<div style="left:49.3px;top:789.6px;font-size:10.8px;line-height:14px;color:#1b015c;font-weight:normal;width:120px;text-align:center;">Calibration</div>
<div style="left:7.0px;top:822.2px;font-size:10.8px;line-height:14px;color:#333;font-weight:normal;width:100px;text-align:center;">Hardware</div>
<div style="left:109.7px;top:819.2px;width:104.7px;height:20.2px;background:#1b015c;border-radius:2px"></div>
<div style="left:112.0px;top:822.2px;font-size:10.8px;line-height:14px;color:#fff;font-weight:normal;width:100px;text-align:center;">Channel</div>
<div style="left:9.0px;top:848.5px;font-size:10.25px;line-height:13px;color:#8a8a8a;font-weight:normal;">Measurement Time</div>
<div style="left:100.5px;top:848px;width:45.4px;height:13.8px;background:#1b015c"></div>
<div style="left:93.2px;top:848.0px;font-size:10.6px;line-height:14px;color:#fff;font-weight:normal;width:60px;text-align:center;">00:00:24</div>
<div style="left:227.7px;top:73.8px;font-size:10.3px;line-height:13px;color:#666;font-weight:normal;">FFT</div>
<div style="left:268.0px;top:73.8px;font-size:10.3px;line-height:13px;color:#666;font-weight:normal;">Octave</div>
<div style="left:324.5px;top:73.8px;font-size:10.3px;line-height:13px;color:#666;font-weight:normal;">Sweep</div>
<div style="left:464.0px;top:73.8px;font-size:10.3px;line-height:13px;color:#666;font-weight:normal;">Sound Level Meter</div>
<div style="left:575.0px;top:73.8px;font-size:10.3px;line-height:13px;color:#666;font-weight:normal;">RT60</div>
<div style="left:622.6px;top:73.8px;font-size:10.3px;line-height:13px;color:#666;font-weight:normal;">Impedance Tube</div>
<div style="left:723.0px;top:73.8px;font-size:10.3px;line-height:13px;color:#666;font-weight:normal;">Acoustic Camera</div>
<div style="left:378.8px;top:74.3px;font-size:10.3px;line-height:13px;color:#1b015c;font-weight:normal;">Sound Power</div>
<div style="left:224.7px;top:97.8px;font-size:11.9px;line-height:15px;color:#2b2b2b;font-weight:normal;">Settings</div>
<svg style="left:466.5px;top:98.5px" width="10" height="12" viewBox="0 0 10 12" fill="none" stroke="#8a8a8a" stroke-width="0.9" stroke-linejoin="round"><path d="M2.2 0.8 H7.8 M3.2 0.8 L3.6 4 L1 6.8 H9 L6.4 4 L6.8 0.8 M5 6.8 V11"/></svg>
<div style="left:220px;top:116px;width:261px;height:726.5px;overflow:hidden"><div style="left:-220px;top:-116px;width:1600px;height:864px">
<div style="left:224.7px;top:120.5px;font-size:10.6px;line-height:14px;color:#2b2b2b;font-weight:normal;">Record Duration</div>
<div style="left:224.7px;top:135.6px;width:122px;height:20.4px;border:1px solid #e2e2e2;border-radius:2px;background:#fff"></div>
<div style="left:230.7px;top:138.8px;font-size:10.6px;line-height:14px;color:#b4b4b4;font-weight:normal;">10</div>
<svg style="left:330.5px;top:140.79999999999998px" width="7" height="10" viewBox="0 0 7 10" fill="none" stroke="#9a9a9a" stroke-width="0.9"><path d="M1 3.5 L3.5 1 L6 3.5 M1 6.5 L3.5 9 L6 6.5"/></svg>
<div style="left:352.5px;top:135.6px;width:122.3px;height:20.4px;border:1px solid #e0e0e0;border-radius:2px;background:#eeeeee"></div>
<div style="left:358.5px;top:139.3px;font-size:10.3px;line-height:13px;color:#b4b4b4;font-weight:normal;">s</div>
<svg style="left:459.8px;top:144.1px" width="8" height="4.0" viewBox="0 0 8 4.0" fill="none" stroke="#8a8a8a" stroke-width="0.9"><path d="M0.5 0.5 L4.0 3.5 L7.5 0.5"/></svg>
<div style="left:224.7px;top:165.6px;font-size:10.6px;line-height:14px;color:#2b2b2b;font-weight:normal;">Delay</div>
<div style="left:224.7px;top:180.2px;width:250.1px;height:20.6px;border:1px solid #e2e2e2;border-radius:2px;background:#fff"></div>
<div style="left:230.7px;top:183.5px;font-size:10.6px;line-height:14px;color:#b4b4b4;font-weight:normal;">0</div>
<svg style="left:433.0px;top:185.5px" width="7" height="10" viewBox="0 0 7 10" fill="none" stroke="#9a9a9a" stroke-width="0.9"><path d="M1 3.5 L3.5 1 L6 3.5 M1 6.5 L3.5 9 L6 6.5"/></svg>
<div style="left:448.8px;top:180.2px;width:25.999999999999943px;height:20.6px;border:1px solid #e2e2e2;border-radius:0 2px 2px 0;background:#fff"></div>
<div style="left:441.8px;top:183.5px;font-size:10.6px;line-height:14px;color:#2b2b2b;font-weight:normal;width:40px;text-align:center;">ms</div>
<div style="left:224.7px;top:216.5px;font-size:10.6px;line-height:14px;color:#2b2b2b;font-weight:normal;">Algorithm</div>
<div style="left:224.7px;top:232px;width:232.3px;height:19.5px;border:1px solid #e0e0e0;border-radius:2px;background:#eeeeee"></div>
<div style="left:230.7px;top:235.2px;font-size:10.3px;line-height:13px;color:#b4b4b4;font-weight:normal;">Engineering Method</div>
<svg style="left:442.0px;top:240.05px" width="8" height="4.0" viewBox="0 0 8 4.0" fill="none" stroke="#8a8a8a" stroke-width="0.9"><path d="M0.5 0.5 L4.0 3.5 L7.5 0.5"/></svg>
<svg style="left:463px;top:236.5px" width="11" height="11" viewBox="0 0 11 11" fill="none" stroke="#555" stroke-width="0.9"><rect x="0.5" y="0.5" width="10" height="10" rx="2"/><path d="M4.3 3.8 L2.8 5.5 L4.3 7.2 M6.7 3.8 L8.2 5.5 L6.7 7.2" stroke-width="0.8"/></svg>
<div style="left:224.7px;top:261.9px;font-size:10.6px;line-height:14px;color:#2b2b2b;font-weight:normal;">Standard</div>
<div style="left:224.7px;top:277.1px;width:250.1px;height:19.6px;border:1px solid #e0e0e0;border-radius:2px;background:#eeeeee"></div>
<div style="left:230.7px;top:280.4px;font-size:10.3px;line-height:13px;color:#b4b4b4;font-weight:normal;">GB/T 3767-2016 / ISO 3744:2010</div>
<svg style="left:459.79999999999995px;top:285.20000000000005px" width="8" height="4.0" viewBox="0 0 8 4.0" fill="none" stroke="#8a8a8a" stroke-width="0.9"><path d="M0.5 0.5 L4.0 3.5 L7.5 0.5"/></svg>
<div style="left:224.7px;top:306.8px;font-size:10.6px;line-height:14px;color:#2b2b2b;font-weight:normal;">Measurement Surface Type</div>
<div style="left:224.7px;top:322.2px;width:250.1px;height:19.8px;border:1px solid #e0e0e0;border-radius:2px;background:#eeeeee"></div>
<div style="left:230.7px;top:325.6px;font-size:10.3px;line-height:13px;color:#b4b4b4;font-weight:normal;">Hemisphere (Single Reflecting Plane)</div>
<svg style="left:459.79999999999995px;top:330.4px" width="8" height="4.0" viewBox="0 0 8 4.0" fill="none" stroke="#8a8a8a" stroke-width="0.9"><path d="M0.5 0.5 L4.0 3.5 L7.5 0.5"/></svg>
<div style="left:224.7px;top:352.0px;font-size:10.6px;line-height:14px;color:#2b2b2b;font-weight:normal;">Measurement Radius</div>
<div style="left:224.7px;top:367.3px;width:250.1px;height:20.4px;border:1px solid #e2e2e2;border-radius:2px;background:#fff"></div>
<div style="left:230.7px;top:370.5px;font-size:10.6px;line-height:14px;color:#b4b4b4;font-weight:normal;">1.00</div>
<svg style="left:438.0px;top:372.5px" width="7" height="10" viewBox="0 0 7 10" fill="none" stroke="#9a9a9a" stroke-width="0.9"><path d="M1 3.5 L3.5 1 L6 3.5 M1 6.5 L3.5 9 L6 6.5"/></svg>
<div style="left:453.7px;top:367.3px;width:21.099999999999966px;height:20.4px;border:1px solid #e2e2e2;border-radius:0 2px 2px 0;background:#fff"></div>
<div style="left:444.2px;top:370.5px;font-size:10.6px;line-height:14px;color:#2b2b2b;font-weight:normal;width:40px;text-align:center;">m</div>
<div style="left:224.7px;top:397.2px;font-size:10.6px;line-height:14px;color:#2b2b2b;font-weight:normal;">Room Surface Area</div>
<div style="left:224.7px;top:412.6px;width:250.1px;height:19.9px;border:1px solid #e2e2e2;border-radius:2px;background:#fff"></div>
<div style="left:230.7px;top:415.6px;font-size:10.6px;line-height:14px;color:#b4b4b4;font-weight:normal;">50.00</div>
<svg style="left:434.0px;top:417.55px" width="7" height="10" viewBox="0 0 7 10" fill="none" stroke="#9a9a9a" stroke-width="0.9"><path d="M1 3.5 L3.5 1 L6 3.5 M1 6.5 L3.5 9 L6 6.5"/></svg>
<div style="left:449.8px;top:412.6px;width:24.999999999999943px;height:19.9px;border:1px solid #e2e2e2;border-radius:0 2px 2px 0;background:#fff"></div>
<div style="left:442.3px;top:415.6px;font-size:10.6px;line-height:14px;color:#2b2b2b;font-weight:normal;width:40px;text-align:center;">m&sup2;</div>
<div style="left:224.7px;top:442.6px;font-size:10.6px;line-height:14px;color:#2b2b2b;font-weight:normal;">Sound Absorption Coefficient</div>
<div style="left:224.7px;top:458px;width:250.1px;height:19.6px;border:1px solid #e2e2e2;border-radius:2px;background:#fff"></div>
<div style="left:230.7px;top:460.8px;font-size:10.6px;line-height:14px;color:#b4b4b4;font-weight:normal;">0.50</div>
<svg style="left:458.5px;top:462.8px" width="7" height="10" viewBox="0 0 7 10" fill="none" stroke="#9a9a9a" stroke-width="0.9"><path d="M1 3.5 L3.5 1 L6 3.5 M1 6.5 L3.5 9 L6 6.5"/></svg>
<div style="left:224.7px;top:487.8px;font-size:10.6px;line-height:14px;color:#2b2b2b;font-weight:normal;">Microphone Count</div>
<div style="left:224.7px;top:503.4px;width:250.1px;height:19.4px;border:1px solid #e2e2e2;border-radius:2px;background:#fff"></div>
<div style="left:230.7px;top:506.1px;font-size:10.6px;line-height:14px;color:#b4b4b4;font-weight:normal;">20</div>
<svg style="left:458.5px;top:508.1px" width="7" height="10" viewBox="0 0 7 10" fill="none" stroke="#9a9a9a" stroke-width="0.9"><path d="M1 3.5 L3.5 1 L6 3.5 M1 6.5 L3.5 9 L6 6.5"/></svg>
<div style="left:224.7px;top:533.4px;font-size:10.6px;line-height:14px;color:#2b2b2b;font-weight:normal;">Microphone Positions</div>
<div style="left:224.7px;top:548.3px;width:122px;height:21.4px;border:1px solid #e4e4e4;border-radius:2px;background:#efefef"></div>
<div style="left:234.0px;top:552.0px;font-size:10.8px;line-height:14px;color:#2b2b2b;font-weight:normal;">1</div>
<div style="left:352.5px;top:548.8px;width:122.3px;height:20.3px;border:1px solid #e0e0e0;border-radius:2px;background:#eeeeee"></div>
<div style="left:358.5px;top:552.4px;font-size:10.3px;line-height:13px;color:#b4b4b4;font-weight:normal;">Ch1</div>
<svg style="left:459.8px;top:557.2499999999999px" width="8" height="4.0" viewBox="0 0 8 4.0" fill="none" stroke="#8a8a8a" stroke-width="0.9"><path d="M0.5 0.5 L4.0 3.5 L7.5 0.5"/></svg>
<div style="left:224.7px;top:575.92px;width:122px;height:21.4px;border:1px solid #e4e4e4;border-radius:2px;background:#efefef"></div>
<div style="left:234.0px;top:579.6px;font-size:10.8px;line-height:14px;color:#2b2b2b;font-weight:normal;">2</div>
<div style="left:352.5px;top:576.42px;width:122.3px;height:20.3px;border:1px solid #e0e0e0;border-radius:2px;background:#eeeeee"></div>
<div style="left:358.5px;top:580.1px;font-size:10.3px;line-height:13px;color:#b4b4b4;font-weight:normal;">Ch2</div>
<svg style="left:459.8px;top:584.8699999999999px" width="8" height="4.0" viewBox="0 0 8 4.0" fill="none" stroke="#8a8a8a" stroke-width="0.9"><path d="M0.5 0.5 L4.0 3.5 L7.5 0.5"/></svg>
<div style="left:224.7px;top:603.54px;width:122px;height:21.4px;border:1px solid #e4e4e4;border-radius:2px;background:#efefef"></div>
<div style="left:234.0px;top:607.2px;font-size:10.8px;line-height:14px;color:#2b2b2b;font-weight:normal;">3</div>
<div style="left:352.5px;top:604.04px;width:122.3px;height:20.3px;border:1px solid #e0e0e0;border-radius:2px;background:#eeeeee"></div>
<div style="left:358.5px;top:607.7px;font-size:10.3px;line-height:13px;color:#b4b4b4;font-weight:normal;">Ch3</div>
<svg style="left:459.8px;top:612.4899999999999px" width="8" height="4.0" viewBox="0 0 8 4.0" fill="none" stroke="#8a8a8a" stroke-width="0.9"><path d="M0.5 0.5 L4.0 3.5 L7.5 0.5"/></svg>
<div style="left:224.7px;top:631.16px;width:122px;height:21.4px;border:1px solid #e4e4e4;border-radius:2px;background:#efefef"></div>
<div style="left:234.0px;top:634.9px;font-size:10.8px;line-height:14px;color:#2b2b2b;font-weight:normal;">4</div>
<div style="left:352.5px;top:631.66px;width:122.3px;height:20.3px;border:1px solid #e0e0e0;border-radius:2px;background:#eeeeee"></div>
<div style="left:358.5px;top:635.3px;font-size:10.3px;line-height:13px;color:#b4b4b4;font-weight:normal;">Ch4</div>
<svg style="left:459.8px;top:640.1099999999999px" width="8" height="4.0" viewBox="0 0 8 4.0" fill="none" stroke="#8a8a8a" stroke-width="0.9"><path d="M0.5 0.5 L4.0 3.5 L7.5 0.5"/></svg>
<div style="left:224.7px;top:658.78px;width:122px;height:21.4px;border:1px solid #e4e4e4;border-radius:2px;background:#efefef"></div>
<div style="left:234.0px;top:662.5px;font-size:10.8px;line-height:14px;color:#2b2b2b;font-weight:normal;">5</div>
<div style="left:352.5px;top:659.28px;width:122.3px;height:20.3px;border:1px solid #e0e0e0;border-radius:2px;background:#eeeeee"></div>
<div style="left:358.5px;top:662.9px;font-size:10.3px;line-height:13px;color:#b4b4b4;font-weight:normal;">Ch5</div>
<svg style="left:459.8px;top:667.7299999999999px" width="8" height="4.0" viewBox="0 0 8 4.0" fill="none" stroke="#8a8a8a" stroke-width="0.9"><path d="M0.5 0.5 L4.0 3.5 L7.5 0.5"/></svg>
<div style="left:224.7px;top:686.4px;width:122px;height:21.4px;border:1px solid #e4e4e4;border-radius:2px;background:#efefef"></div>
<div style="left:234.0px;top:690.1px;font-size:10.8px;line-height:14px;color:#2b2b2b;font-weight:normal;">6</div>
<div style="left:352.5px;top:686.9px;width:122.3px;height:20.3px;border:1px solid #e0e0e0;border-radius:2px;background:#eeeeee"></div>
<div style="left:358.5px;top:690.5px;font-size:10.3px;line-height:13px;color:#b4b4b4;font-weight:normal;">Ch6</div>
<svg style="left:459.8px;top:695.3499999999999px" width="8" height="4.0" viewBox="0 0 8 4.0" fill="none" stroke="#8a8a8a" stroke-width="0.9"><path d="M0.5 0.5 L4.0 3.5 L7.5 0.5"/></svg>
<div style="left:224.7px;top:714.02px;width:122px;height:21.4px;border:1px solid #e4e4e4;border-radius:2px;background:#efefef"></div>
<div style="left:234.0px;top:717.7px;font-size:10.8px;line-height:14px;color:#2b2b2b;font-weight:normal;">7</div>
<div style="left:352.5px;top:714.52px;width:122.3px;height:20.3px;border:1px solid #e0e0e0;border-radius:2px;background:#eeeeee"></div>
<div style="left:358.5px;top:718.2px;font-size:10.3px;line-height:13px;color:#b4b4b4;font-weight:normal;">Ch7</div>
<svg style="left:459.8px;top:722.9699999999999px" width="8" height="4.0" viewBox="0 0 8 4.0" fill="none" stroke="#8a8a8a" stroke-width="0.9"><path d="M0.5 0.5 L4.0 3.5 L7.5 0.5"/></svg>
<div style="left:224.7px;top:741.64px;width:122px;height:21.4px;border:1px solid #e4e4e4;border-radius:2px;background:#efefef"></div>
<div style="left:234.0px;top:745.3px;font-size:10.8px;line-height:14px;color:#2b2b2b;font-weight:normal;">8</div>
<div style="left:352.5px;top:742.14px;width:122.3px;height:20.3px;border:1px solid #e0e0e0;border-radius:2px;background:#eeeeee"></div>
<div style="left:358.5px;top:745.8px;font-size:10.3px;line-height:13px;color:#b4b4b4;font-weight:normal;">Ch8</div>
<svg style="left:459.8px;top:750.5899999999999px" width="8" height="4.0" viewBox="0 0 8 4.0" fill="none" stroke="#8a8a8a" stroke-width="0.9"><path d="M0.5 0.5 L4.0 3.5 L7.5 0.5"/></svg>
<div style="left:224.7px;top:769.26px;width:122px;height:21.4px;border:1px solid #e4e4e4;border-radius:2px;background:#efefef"></div>
<div style="left:234.0px;top:773.0px;font-size:10.8px;line-height:14px;color:#2b2b2b;font-weight:normal;">9</div>
<div style="left:352.5px;top:769.76px;width:122.3px;height:20.3px;border:1px solid #e0e0e0;border-radius:2px;background:#eeeeee"></div>
<div style="left:358.5px;top:773.4px;font-size:10.3px;line-height:13px;color:#b4b4b4;font-weight:normal;">Ch9</div>
<svg style="left:459.8px;top:778.2099999999999px" width="8" height="4.0" viewBox="0 0 8 4.0" fill="none" stroke="#8a8a8a" stroke-width="0.9"><path d="M0.5 0.5 L4.0 3.5 L7.5 0.5"/></svg>
<div style="left:224.7px;top:796.88px;width:122px;height:21.4px;border:1px solid #e4e4e4;border-radius:2px;background:#efefef"></div>
<div style="left:234.0px;top:800.6px;font-size:10.8px;line-height:14px;color:#2b2b2b;font-weight:normal;">10</div>
<div style="left:352.5px;top:797.38px;width:122.3px;height:20.3px;border:1px solid #e0e0e0;border-radius:2px;background:#eeeeee"></div>
<div style="left:358.5px;top:801.0px;font-size:10.3px;line-height:13px;color:#b4b4b4;font-weight:normal;">Ch10</div>
<svg style="left:459.8px;top:805.8299999999999px" width="8" height="4.0" viewBox="0 0 8 4.0" fill="none" stroke="#8a8a8a" stroke-width="0.9"><path d="M0.5 0.5 L4.0 3.5 L7.5 0.5"/></svg>
<div style="left:224.7px;top:824.5px;width:122px;height:21.4px;border:1px solid #e4e4e4;border-radius:2px;background:#efefef"></div>
<div style="left:234.0px;top:828.2px;font-size:10.8px;line-height:14px;color:#2b2b2b;font-weight:normal;">11</div>
<div style="left:352.5px;top:825.0px;width:122.3px;height:20.3px;border:1px solid #e0e0e0;border-radius:2px;background:#eeeeee"></div>
<div style="left:358.5px;top:828.6px;font-size:10.3px;line-height:13px;color:#b4b4b4;font-weight:normal;">Ch11</div>
<svg style="left:459.8px;top:833.4499999999999px" width="8" height="4.0" viewBox="0 0 8 4.0" fill="none" stroke="#8a8a8a" stroke-width="0.9"><path d="M0.5 0.5 L4.0 3.5 L7.5 0.5"/></svg>
</div></div>
<div style="left:489.0px;top:96.8px;font-size:12.2px;line-height:16px;color:#2b2b2b;font-weight:normal;">Waveform Viewer</div>
<svg style="left:1302px;top:98.5px" width="10" height="12" viewBox="0 0 10 12" fill="none" stroke="#8a8a8a" stroke-width="0.9" stroke-linejoin="round"><path d="M2.2 0.8 H7.8 M3.2 0.8 L3.6 4 L1 6.8 H9 L6.4 4 L6.8 0.8 M5 6.8 V11"/></svg>
<div style="left:801.0px;top:118.8px;font-size:10.6px;line-height:14px;color:#2b2b2b;font-weight:normal;width:200px;text-align:center;">Record Waveform</div>
<div style="left:628.0px;top:138.1px;width:7.2px;height:7.2px;border-radius:50%;background:#1b0a60"></div>
<div style="left:637.6px;top:135.8px;font-size:9.6px;line-height:12px;color:#2b2b2b;font-weight:normal;letter-spacing:-0.25px">Ch1</div>
<div style="left:659.5px;top:138.1px;width:7.2px;height:7.2px;border-radius:50%;background:#d8502e"></div>
<div style="left:669.1px;top:135.8px;font-size:9.6px;line-height:12px;color:#2b2b2b;font-weight:normal;letter-spacing:-0.25px">Ch2</div>
<div style="left:690.9px;top:138.1px;width:7.2px;height:7.2px;border-radius:50%;background:#1e6b3a"></div>
<div style="left:700.5px;top:135.8px;font-size:9.6px;line-height:12px;color:#2b2b2b;font-weight:normal;letter-spacing:-0.25px">Ch3</div>
<div style="left:722.7px;top:138.1px;width:7.2px;height:7.2px;border-radius:50%;background:#e0992e"></div>
<div style="left:732.3px;top:135.8px;font-size:9.6px;line-height:12px;color:#2b2b2b;font-weight:normal;letter-spacing:-0.25px">Ch4</div>
<div style="left:754.1px;top:138.1px;width:7.2px;height:7.2px;border-radius:50%;background:#6b30d0"></div>
<div style="left:763.7px;top:135.8px;font-size:9.6px;line-height:12px;color:#2b2b2b;font-weight:normal;letter-spacing:-0.25px">Ch5</div>
<div style="left:785.9px;top:138.1px;width:7.2px;height:7.2px;border-radius:50%;background:#1f7aa0"></div>
<div style="left:795.5px;top:135.8px;font-size:9.6px;line-height:12px;color:#2b2b2b;font-weight:normal;letter-spacing:-0.25px">Ch6</div>
<div style="left:817.3px;top:138.1px;width:7.2px;height:7.2px;border-radius:50%;background:#d0283c"></div>
<div style="left:826.9px;top:135.8px;font-size:9.6px;line-height:12px;color:#2b2b2b;font-weight:normal;letter-spacing:-0.25px">Ch7</div>
<div style="left:849.0px;top:138.1px;width:7.2px;height:7.2px;border-radius:50%;background:#30bca8"></div>
<div style="left:858.6px;top:135.8px;font-size:9.6px;line-height:12px;color:#2b2b2b;font-weight:normal;letter-spacing:-0.25px">Ch8</div>
<div style="left:880.8px;top:138.1px;width:7.2px;height:7.2px;border-radius:50%;background:#c8622a"></div>
<div style="left:890.4px;top:135.8px;font-size:9.6px;line-height:12px;color:#2b2b2b;font-weight:normal;letter-spacing:-0.25px">Ch9</div>
<div style="left:912.0px;top:138.1px;width:7.2px;height:7.2px;border-radius:50%;background:#5d65e6"></div>
<div style="left:921.6px;top:135.8px;font-size:9.6px;line-height:12px;color:#2b2b2b;font-weight:normal;letter-spacing:-0.25px">Ch10</div>
<div style="left:948.2px;top:138.1px;width:7.2px;height:7.2px;border-radius:50%;background:#cc3355"></div>
<div style="left:957.8px;top:135.8px;font-size:9.6px;line-height:12px;color:#2b2b2b;font-weight:normal;letter-spacing:-0.25px">Ch11</div>
<div style="left:984.5px;top:138.1px;width:7.2px;height:7.2px;border-radius:50%;background:#6aa838"></div>
<div style="left:994.1px;top:135.8px;font-size:9.6px;line-height:12px;color:#2b2b2b;font-weight:normal;letter-spacing:-0.25px">Ch12</div>
<div style="left:1021.2px;top:138.1px;width:7.2px;height:7.2px;border-radius:50%;background:#a83cc8"></div>
<div style="left:1030.8px;top:135.8px;font-size:9.6px;line-height:12px;color:#2b2b2b;font-weight:normal;letter-spacing:-0.25px">Ch13</div>
<div style="left:1057.4px;top:138.1px;width:7.2px;height:7.2px;border-radius:50%;background:#2a9a72"></div>
<div style="left:1067.0px;top:135.8px;font-size:9.6px;line-height:12px;color:#2b2b2b;font-weight:normal;letter-spacing:-0.25px">Ch14</div>
<div style="left:1094.1px;top:138.1px;width:7.2px;height:7.2px;border-radius:50%;background:#a8282e"></div>
<div style="left:1103.7px;top:135.8px;font-size:9.6px;line-height:12px;color:#2b2b2b;font-weight:normal;letter-spacing:-0.25px">Ch15</div>
<div style="left:1130.4px;top:138.1px;width:7.2px;height:7.2px;border-radius:50%;background:#7a34e0"></div>
<div style="left:1140.0px;top:135.8px;font-size:9.6px;line-height:12px;color:#2b2b2b;font-weight:normal;letter-spacing:-0.25px">Ch16</div>
<div style="left:1167.0px;top:138.1px;width:7.2px;height:7.2px;border-radius:50%;background:#2a90d8"></div>
<div style="left:1176.6px;top:135.8px;font-size:9.6px;line-height:12px;color:#2b2b2b;font-weight:normal;letter-spacing:-0.25px">Ch17</div>
<div style="left:1203.6px;top:138.1px;width:7.2px;height:7.2px;border-radius:50%;background:#1b0a60"></div>
<div style="left:1213.2px;top:135.8px;font-size:9.6px;line-height:12px;color:#2b2b2b;font-weight:normal;letter-spacing:-0.25px">Ch18</div>
<div style="left:1239.9px;top:138.1px;width:7.2px;height:7.2px;border-radius:50%;background:#d8501e"></div>
<div style="left:1249.5px;top:135.8px;font-size:9.6px;line-height:12px;color:#2b2b2b;font-weight:normal;letter-spacing:-0.25px">Ch19</div>
<div style="left:1276.2px;top:138.1px;width:7.2px;height:7.2px;border-radius:50%;background:#1a6a38"></div>
<div style="left:1285.8px;top:135.8px;font-size:9.6px;line-height:12px;color:#2b2b2b;font-weight:normal;letter-spacing:-0.25px">Ch20</div>
<svg style="left:0;top:0" width="1600" height="864"><path d="M539.6 150V303M547.5 150V303M555.3 150V303M563.2 150V303M571.0 150V303M578.9 150V303M586.8 150V303M594.6 150V303M602.4 150V303M618.1 150V303M626.0 150V303M633.8 150V303M641.7 150V303M649.5 150V303M657.4 150V303M665.2 150V303M673.1 150V303M680.9 150V303M696.6 150V303M704.5 150V303M712.3 150V303M720.2 150V303M728.0 150V303M735.9 150V303M743.8 150V303M751.6 150V303M759.4 150V303M775.1 150V303M783.0 150V303M790.8 150V303M798.7 150V303M806.5 150V303M814.4 150V303M822.2 150V303M830.1 150V303M837.9 150V303M853.6 150V303M861.5 150V303M869.3 150V303M877.2 150V303M885.0 150V303M892.9 150V303M900.8 150V303M908.6 150V303M916.4 150V303M932.1 150V303M940.0 150V303M947.8 150V303M955.7 150V303M963.5 150V303M971.4 150V303M979.2 150V303M987.1 150V303M994.9 150V303M1010.6 150V303M1018.5 150V303M1026.3 150V303M1034.2 150V303M1042.0 150V303M1049.9 150V303M1057.8 150V303M1065.6 150V303M1073.4 150V303M1089.2 150V303M1097.0 150V303M1104.8 150V303M1112.7 150V303M1120.5 150V303M1128.4 150V303M1136.2 150V303M1144.1 150V303M1151.9 150V303M1167.7 150V303M1175.5 150V303M1183.3 150V303M1191.2 150V303M1199.0 150V303M1206.9 150V303M1214.8 150V303M1222.6 150V303M1230.4 150V303M1246.2 150V303M1254.0 150V303M1261.8 150V303M1269.7 150V303M1277.5 150V303M1285.4 150V303M1293.2 150V303M1301.1 150V303M1308.9 150V303" stroke="#e6e6e6" stroke-width="1" fill="none"/><path d="M610.3 150V303M688.8 150V303M767.3 150V303M845.8 150V303M924.3 150V303M1002.8 150V303M1081.3 150V303M1159.8 150V303M1238.3 150V303M531.8 158.3H1316.4M531.8 183.7H1316.4M531.8 209.1H1316.4M531.8 234.4H1316.4M531.8 259.8H1316.4M531.8 285.1H1316.4" stroke="#c4c4c4" stroke-width="1.2" fill="none"/><polygon points="532.5,210.8 533.5,208.7 534.5,209.5 535.5,212.5 536.5,212.6 537.5,212.4 538.5,210.2 539.5,212.1 540.5,208.9 541.5,209.2 542.5,206.7 543.5,207.4 544.5,211.9 545.5,210.9 546.5,211.7 547.5,208.8 548.5,209.4 549.5,212.5 550.5,208.5 551.5,210.9 552.5,210.0 553.5,207.8 554.5,211.3 555.5,209.5 556.5,208.2 557.5,206.6 558.5,210.2 559.5,211.9 560.5,212.6 561.5,208.0 562.5,207.3 563.5,208.4 564.5,209.2 565.5,207.5 566.5,209.8 567.5,212.5 568.5,208.8 569.5,207.6 570.5,210.4 571.5,212.7 572.5,211.8 573.5,212.5 574.5,212.0 575.5,210.4 576.5,212.3 577.5,209.4 578.5,207.7 579.5,211.1 580.5,210.6 581.5,206.8 582.5,211.7 583.5,211.4 584.5,209.1 585.5,212.8 586.5,210.5 587.5,206.8 588.5,209.6 589.5,208.6 590.5,207.2 591.5,207.3 592.5,210.4 593.5,212.2 594.5,212.5 595.5,211.5 596.5,210.7 597.5,212.9 598.5,212.2 599.5,212.7 600.5,209.0 601.5,211.3 602.5,210.5 603.5,207.5 604.5,209.9 605.5,212.3 606.5,210.7 607.5,207.6 608.5,212.7 609.5,209.5 610.5,209.4 611.5,209.5 612.5,207.4 613.5,211.2 614.5,211.8 615.5,209.5 616.5,210.8 617.5,207.7 618.5,207.4 619.5,207.7 620.5,211.4 621.5,210.6 622.5,212.7 623.5,211.2 624.5,206.8 625.5,206.9 626.5,206.8 627.5,211.5 628.5,211.6 629.5,208.9 630.5,207.5 631.5,208.7 632.5,212.3 633.5,207.1 634.5,208.1 635.5,211.7 636.5,210.7 637.5,206.7 638.5,210.3 639.5,208.3 640.5,212.0 641.5,207.1 642.5,211.9 643.5,206.6 644.5,210.6 645.5,212.0 646.5,206.7 647.5,209.5 648.5,210.1 649.5,207.6 650.5,211.3 651.5,211.3 652.5,211.2 653.5,212.0 654.5,210.6 655.5,209.2 656.5,210.2 657.5,209.7 658.5,209.5 659.5,210.1 660.5,212.8 661.5,211.8 662.5,208.3 663.5,210.8 664.5,209.3 665.5,212.2 666.5,211.3 667.5,208.0 668.5,209.3 669.5,207.1 670.5,209.0 671.5,209.6 672.5,210.0 673.5,209.8 674.5,208.4 675.5,206.9 676.5,209.3 677.5,207.5 678.5,212.1 679.5,212.4 680.5,212.4 681.5,207.9 682.5,211.9 683.5,208.7 684.5,207.3 685.5,211.5 686.5,210.3 687.5,206.6 688.5,211.8 689.5,209.6 690.5,211.6 691.5,208.3 692.5,209.3 693.5,212.7 694.5,208.9 695.5,212.4 696.5,207.9 697.5,212.2 698.5,212.6 699.5,211.1 700.5,210.2 701.5,207.7 702.5,211.9 703.5,209.2 704.5,212.3 705.5,208.5 706.5,212.4 707.5,208.8 708.5,212.3 709.5,212.4 710.5,210.0 711.5,209.3 712.5,211.2 713.5,209.5 714.5,212.2 715.5,212.5 716.5,210.9 717.5,208.0 718.5,209.7 719.5,210.7 720.5,211.3 721.5,208.2 722.5,211.7 723.5,206.9 724.5,207.7 725.5,209.7 726.5,210.4 727.5,208.5 728.5,210.7 729.5,208.4 730.5,210.3 731.5,212.5 732.5,212.4 733.5,211.2 734.5,212.3 735.5,207.3 736.5,211.1 737.5,211.0 738.5,211.9 739.5,211.2 740.5,206.7 741.5,211.3 742.5,210.9 743.5,212.8 744.5,209.8 745.5,211.6 746.5,212.8 747.5,212.3 748.5,212.6 749.5,210.9 750.5,209.1 751.5,208.1 752.5,208.3 753.5,210.4 754.5,206.6 755.5,208.3 756.5,212.6 757.5,207.2 758.5,208.2 759.5,212.0 760.5,209.7 761.5,207.8 762.5,209.2 763.5,208.5 764.5,211.4 765.5,212.0 766.5,212.2 767.5,209.3 768.5,208.9 769.5,209.8 770.5,207.8 771.5,209.7 772.5,208.7 773.5,208.2 774.5,212.4 775.5,208.2 776.5,208.2 777.5,209.7 778.5,209.8 779.5,208.0 780.5,208.8 781.5,211.9 782.5,208.1 783.5,209.3 784.5,212.5 785.5,208.6 786.5,208.6 787.5,209.6 788.5,209.9 789.5,207.2 790.5,206.7 791.5,212.7 792.5,207.7 793.5,210.0 794.5,211.5 795.5,211.5 796.5,212.0 797.5,206.8 798.5,207.7 799.5,207.2 800.5,211.4 801.5,209.8 802.5,212.8 803.5,210.0 804.5,212.0 805.5,210.8 806.5,212.8 807.5,207.5 808.5,207.0 809.5,207.1 810.5,210.5 811.5,206.5 812.5,210.6 813.5,211.1 814.5,212.2 815.5,211.0 816.5,211.3 817.5,209.6 818.5,210.5 819.5,207.2 820.5,208.9 821.5,206.9 822.5,208.3 823.5,208.2 824.5,208.1 825.5,211.0 826.5,207.0 827.5,209.9 828.5,211.0 829.5,206.7 830.5,208.7 831.5,209.3 832.5,211.8 833.5,211.5 834.5,209.7 835.5,207.1 836.5,210.0 837.5,211.6 838.5,210.7 839.5,211.3 840.5,209.2 841.5,208.1 842.5,210.2 843.5,210.5 844.5,212.5 845.5,206.7 846.5,209.7 847.5,207.4 848.5,211.1 849.5,210.3 850.5,206.8 851.5,207.3 852.5,212.6 853.5,207.2 854.5,209.1 855.5,210.4 856.5,207.6 857.5,206.7 858.5,212.2 859.5,209.5 860.5,206.9 861.5,208.7 862.5,210.0 863.5,212.6 864.5,211.4 865.5,208.8 866.5,212.0 867.5,208.8 868.5,212.1 869.5,209.5 870.5,210.4 871.5,209.0 872.5,210.9 873.5,206.8 874.5,207.3 875.5,211.4 876.5,206.8 877.5,210.9 878.5,209.7 879.5,210.2 880.5,208.6 881.5,211.4 882.5,210.7 883.5,208.5 884.5,207.8 885.5,209.7 886.5,206.7 887.5,207.7 888.5,211.4 889.5,211.0 890.5,209.7 891.5,211.4 892.5,208.6 893.5,211.9 894.5,211.5 895.5,212.0 896.5,212.5 897.5,207.2 898.5,208.2 899.5,206.9 900.5,211.7 901.5,208.1 902.5,208.6 903.5,210.5 904.5,211.8 905.5,211.1 906.5,206.8 907.5,206.7 908.5,210.6 909.5,207.6 910.5,212.5 911.5,210.5 912.5,211.6 913.5,207.2 914.5,210.2 915.5,208.0 916.5,212.6 917.5,207.0 918.5,208.1 919.5,210.7 920.5,206.8 921.5,211.2 922.5,210.8 923.5,212.8 924.5,207.0 925.5,206.9 926.5,211.4 927.5,206.8 928.5,210.4 929.5,210.1 930.5,207.0 931.5,207.8 932.5,207.6 933.5,209.0 934.5,210.8 935.5,207.9 936.5,211.6 937.5,211.3 938.5,212.6 939.5,210.8 940.5,207.3 941.5,211.2 942.5,212.2 943.5,208.4 944.5,211.4 945.5,208.9 946.5,208.1 947.5,208.6 948.5,207.5 949.5,209.3 950.5,208.2 951.5,211.3 952.5,211.9 953.5,209.2 954.5,210.3 955.5,209.6 956.5,207.7 957.5,206.6 958.5,209.8 959.5,207.5 960.5,212.6 961.5,212.1 962.5,206.7 963.5,207.0 964.5,207.4 965.5,211.2 966.5,206.9 967.5,209.1 968.5,211.5 969.5,212.0 970.5,211.2 971.5,208.7 972.5,212.8 973.5,208.6 974.5,210.9 975.5,207.8 976.5,212.5 977.5,210.3 978.5,208.8 979.5,211.8 980.5,210.3 981.5,210.9 982.5,210.9 983.5,210.6 984.5,207.4 985.5,210.5 986.5,208.2 987.5,212.8 988.5,210.2 989.5,210.3 990.5,209.9 991.5,212.8 992.5,208.8 993.5,212.3 994.5,210.5 995.5,211.9 996.5,209.5 997.5,212.2 998.5,207.8 999.5,211.6 1000.5,206.9 1001.5,209.8 1002.5,207.0 1003.5,207.1 1004.5,207.6 1005.5,207.9 1006.5,210.3 1007.5,207.6 1008.5,211.5 1009.5,209.6 1010.5,212.1 1011.5,208.3 1012.5,212.6 1013.5,208.1 1014.5,207.5 1015.5,209.1 1016.5,208.9 1017.5,210.2 1018.5,210.2 1019.5,210.0 1020.5,212.7 1021.5,209.8 1022.5,208.0 1023.5,209.9 1024.5,209.9 1025.5,212.0 1026.5,212.3 1027.5,209.6 1028.5,208.8 1029.5,208.2 1030.5,209.6 1031.5,209.7 1032.5,206.8 1033.5,207.4 1034.5,208.2 1035.5,211.6 1036.5,209.7 1037.5,207.0 1038.5,207.9 1039.5,212.4 1040.5,208.1 1041.5,207.2 1042.5,207.7 1043.5,209.7 1044.5,211.5 1045.5,209.6 1046.5,212.6 1047.5,211.8 1048.5,208.5 1049.5,211.8 1050.5,212.1 1051.5,208.8 1052.5,207.3 1053.5,209.2 1054.5,212.2 1055.5,208.9 1056.5,207.8 1057.5,206.6 1058.5,210.6 1059.5,210.0 1060.5,208.1 1061.5,207.7 1062.5,208.8 1063.5,209.1 1064.5,210.9 1065.5,212.6 1066.5,208.9 1067.5,209.6 1068.5,212.0 1069.5,208.7 1070.5,212.8 1071.5,212.2 1072.5,211.4 1073.5,209.1 1074.5,208.9 1075.5,212.0 1076.5,211.3 1077.5,212.2 1078.5,207.3 1079.5,210.3 1080.5,212.8 1081.5,209.3 1082.5,208.8 1083.5,206.9 1084.5,211.3 1085.5,212.6 1086.5,210.3 1087.5,212.5 1088.5,212.8 1089.5,206.9 1090.5,211.6 1091.5,209.6 1092.5,207.7 1093.5,210.9 1094.5,212.5 1095.5,207.9 1096.5,212.8 1097.5,208.1 1098.5,208.2 1099.5,211.4 1100.5,211.4 1101.5,210.7 1102.5,208.4 1103.5,208.3 1104.5,209.3 1105.5,207.9 1106.5,211.2 1107.5,206.7 1108.5,207.3 1109.5,211.2 1110.5,208.1 1111.5,208.1 1112.5,207.3 1113.5,211.3 1114.5,208.9 1115.5,208.6 1116.5,209.9 1117.5,208.4 1118.5,210.1 1119.5,209.2 1120.5,211.5 1121.5,212.4 1122.5,211.9 1123.5,212.2 1124.5,210.7 1125.5,212.7 1126.5,208.5 1127.5,208.4 1128.5,212.4 1129.5,210.5 1130.5,207.7 1131.5,212.4 1132.5,207.1 1133.5,212.2 1134.5,212.1 1135.5,207.5 1136.5,208.8 1137.5,208.9 1138.5,212.2 1139.5,208.1 1140.5,210.8 1141.5,212.7 1142.5,211.1 1143.5,210.5 1144.5,206.7 1145.5,207.5 1146.5,212.7 1147.5,210.1 1148.5,210.7 1149.5,209.4 1150.5,207.4 1151.5,207.7 1152.5,212.8 1153.5,208.0 1154.5,212.8 1155.5,209.7 1156.5,211.7 1157.5,210.7 1158.5,211.2 1159.5,211.1 1160.5,208.4 1161.5,212.2 1162.5,212.3 1163.5,208.4 1164.5,208.9 1165.5,210.3 1166.5,207.2 1167.5,207.2 1168.5,211.5 1169.5,207.1 1170.5,210.4 1171.5,211.4 1172.5,209.5 1173.5,208.1 1174.5,210.6 1175.5,211.9 1176.5,208.7 1177.5,211.8 1178.5,208.0 1179.5,212.1 1180.5,207.2 1181.5,211.6 1182.5,208.4 1183.5,211.9 1184.5,211.3 1185.5,209.5 1186.5,210.8 1187.5,206.7 1188.5,212.2 1189.5,212.2 1190.5,206.6 1191.5,208.2 1192.5,211.6 1193.5,212.2 1194.5,210.4 1195.5,210.3 1196.5,208.5 1197.5,208.8 1198.5,212.0 1199.5,210.3 1200.5,207.1 1201.5,209.2 1202.5,210.2 1203.5,208.3 1204.5,207.9 1205.5,207.5 1206.5,208.8 1207.5,210.9 1208.5,212.2 1209.5,207.9 1210.5,208.9 1211.5,210.2 1212.5,208.9 1213.5,208.6 1214.5,211.7 1215.5,207.9 1216.5,209.7 1217.5,212.6 1218.5,211.8 1219.5,206.9 1220.5,212.2 1221.5,209.4 1222.5,209.6 1223.5,207.6 1224.5,210.3 1225.5,211.5 1226.5,210.4 1227.5,212.1 1228.5,210.6 1229.5,211.1 1230.5,212.8 1231.5,210.2 1232.5,210.6 1233.5,211.4 1234.5,206.9 1235.5,211.5 1236.5,210.4 1237.5,212.0 1238.5,207.7 1239.5,209.9 1240.5,211.4 1241.5,210.6 1242.5,207.7 1243.5,209.9 1244.5,209.4 1245.5,207.6 1246.5,207.5 1247.5,210.5 1248.5,210.2 1249.5,212.8 1250.5,211.1 1251.5,210.9 1252.5,210.1 1253.5,208.7 1254.5,207.0 1255.5,212.5 1256.5,207.1 1257.5,212.0 1258.5,208.8 1259.5,212.8 1260.5,208.7 1261.5,212.2 1262.5,211.4 1263.5,210.7 1264.5,207.1 1265.5,211.8 1266.5,209.0 1267.5,208.6 1268.5,207.9 1269.5,211.6 1270.5,209.5 1271.5,210.1 1272.5,209.3 1273.5,211.4 1274.5,209.7 1275.5,209.9 1276.5,209.7 1277.5,209.4 1278.5,212.8 1279.5,209.9 1280.5,208.6 1281.5,210.5 1282.5,206.8 1283.5,208.8 1284.5,212.7 1285.5,208.5 1286.5,210.8 1287.5,209.6 1288.5,207.2 1289.5,208.3 1290.5,210.7 1291.5,210.5 1292.5,209.5 1293.5,211.5 1294.5,210.2 1295.5,207.6 1296.5,207.6 1297.5,209.7 1298.5,209.6 1299.5,208.7 1300.5,210.8 1301.5,211.0 1302.5,208.8 1303.5,212.6 1304.5,207.2 1305.5,212.5 1306.5,212.8 1307.5,207.0 1308.5,208.7 1309.5,207.1 1310.5,208.9 1311.5,208.4 1312.5,208.5 1313.5,208.6 1314.5,208.0 1315.5,211.7 1316.5,207.9 1316.5,259.3 1315.5,254.4 1314.5,254.7 1313.5,256.7 1312.5,255.4 1311.5,257.5 1310.5,257.7 1309.5,257.6 1308.5,258.6 1307.5,257.6 1306.5,255.2 1305.5,255.8 1304.5,257.2 1303.5,258.2 1302.5,258.5 1301.5,257.4 1300.5,255.9 1299.5,258.6 1298.5,259.6 1297.5,255.7 1296.5,256.4 1295.5,255.8 1294.5,257.3 1293.5,256.6 1292.5,258.5 1291.5,256.8 1290.5,259.0 1289.5,257.7 1288.5,254.4 1287.5,256.9 1286.5,259.6 1285.5,259.4 1284.5,257.6 1283.5,257.7 1282.5,254.6 1281.5,256.5 1280.5,258.9 1279.5,257.3 1278.5,258.9 1277.5,259.0 1276.5,257.0 1275.5,255.0 1274.5,254.5 1273.5,255.0 1272.5,255.6 1271.5,259.1 1270.5,258.3 1269.5,258.0 1268.5,258.9 1267.5,259.2 1266.5,258.5 1265.5,259.1 1264.5,258.6 1263.5,255.0 1262.5,258.5 1261.5,255.0 1260.5,255.6 1259.5,259.5 1258.5,254.3 1257.5,258.8 1256.5,258.5 1255.5,258.8 1254.5,258.9 1253.5,256.2 1252.5,257.7 1251.5,256.8 1250.5,255.5 1249.5,258.2 1248.5,255.2 1247.5,255.6 1246.5,255.7 1245.5,256.2 1244.5,254.9 1243.5,255.8 1242.5,258.7 1241.5,257.7 1240.5,259.5 1239.5,257.3 1238.5,257.7 1237.5,258.5 1236.5,255.4 1235.5,258.6 1234.5,257.1 1233.5,258.3 1232.5,255.7 1231.5,258.1 1230.5,256.5 1229.5,256.4 1228.5,254.5 1227.5,259.7 1226.5,258.4 1225.5,258.0 1224.5,259.5 1223.5,257.1 1222.5,257.7 1221.5,258.2 1220.5,257.4 1219.5,257.1 1218.5,258.5 1217.5,257.2 1216.5,259.6 1215.5,256.3 1214.5,257.8 1213.5,259.4 1212.5,256.5 1211.5,256.7 1210.5,255.6 1209.5,258.2 1208.5,256.5 1207.5,257.7 1206.5,256.7 1205.5,258.0 1204.5,258.1 1203.5,259.1 1202.5,255.4 1201.5,258.4 1200.5,256.6 1199.5,258.3 1198.5,257.5 1197.5,256.8 1196.5,257.0 1195.5,258.6 1194.5,254.4 1193.5,255.3 1192.5,257.7 1191.5,256.6 1190.5,258.6 1189.5,256.3 1188.5,259.5 1187.5,258.2 1186.5,255.2 1185.5,255.1 1184.5,256.0 1183.5,255.0 1182.5,258.9 1181.5,255.9 1180.5,255.5 1179.5,256.7 1178.5,257.4 1177.5,256.6 1176.5,258.3 1175.5,258.9 1174.5,256.0 1173.5,257.8 1172.5,258.4 1171.5,256.7 1170.5,259.1 1169.5,257.0 1168.5,255.6 1167.5,254.3 1166.5,254.7 1165.5,256.4 1164.5,256.2 1163.5,258.6 1162.5,258.6 1161.5,257.7 1160.5,257.0 1159.5,255.4 1158.5,259.4 1157.5,258.8 1156.5,256.9 1155.5,258.6 1154.5,256.9 1153.5,259.6 1152.5,255.3 1151.5,255.1 1150.5,254.7 1149.5,255.4 1148.5,258.1 1147.5,258.5 1146.5,256.5 1145.5,257.6 1144.5,257.0 1143.5,256.0 1142.5,258.2 1141.5,255.6 1140.5,256.5 1139.5,255.3 1138.5,254.7 1137.5,255.8 1136.5,258.8 1135.5,258.7 1134.5,254.4 1133.5,255.3 1132.5,259.4 1131.5,259.0 1130.5,259.1 1129.5,258.7 1128.5,257.5 1127.5,258.3 1126.5,257.7 1125.5,254.4 1124.5,255.0 1123.5,259.4 1122.5,254.3 1121.5,259.3 1120.5,257.6 1119.5,255.9 1118.5,258.2 1117.5,259.0 1116.5,258.9 1115.5,259.6 1114.5,258.0 1113.5,259.2 1112.5,256.0 1111.5,256.0 1110.5,259.4 1109.5,255.5 1108.5,254.3 1107.5,255.4 1106.5,257.8 1105.5,257.1 1104.5,256.6 1103.5,255.7 1102.5,258.9 1101.5,258.4 1100.5,254.4 1099.5,254.8 1098.5,256.7 1097.5,256.8 1096.5,258.9 1095.5,258.2 1094.5,259.1 1093.5,255.8 1092.5,255.1 1091.5,257.8 1090.5,257.6 1089.5,255.0 1088.5,257.2 1087.5,258.5 1086.5,255.5 1085.5,257.1 1084.5,259.2 1083.5,258.3 1082.5,256.6 1081.5,256.1 1080.5,257.8 1079.5,255.6 1078.5,258.5 1077.5,257.7 1076.5,255.0 1075.5,259.4 1074.5,256.8 1073.5,255.3 1072.5,257.4 1071.5,256.2 1070.5,256.2 1069.5,254.3 1068.5,255.4 1067.5,259.2 1066.5,256.6 1065.5,255.0 1064.5,254.2 1063.5,257.9 1062.5,259.7 1061.5,255.6 1060.5,254.4 1059.5,255.2 1058.5,258.4 1057.5,257.4 1056.5,255.6 1055.5,256.4 1054.5,259.7 1053.5,259.1 1052.5,257.3 1051.5,256.2 1050.5,257.1 1049.5,258.6 1048.5,259.2 1047.5,259.4 1046.5,255.2 1045.5,256.0 1044.5,255.6 1043.5,259.3 1042.5,255.0 1041.5,255.7 1040.5,255.1 1039.5,256.1 1038.5,259.4 1037.5,255.1 1036.5,259.5 1035.5,259.6 1034.5,258.7 1033.5,259.7 1032.5,254.9 1031.5,256.3 1030.5,254.5 1029.5,258.5 1028.5,254.6 1027.5,254.4 1026.5,256.6 1025.5,256.6 1024.5,254.8 1023.5,255.2 1022.5,258.5 1021.5,255.5 1020.5,257.6 1019.5,256.6 1018.5,257.8 1017.5,257.4 1016.5,255.9 1015.5,257.2 1014.5,254.8 1013.5,254.4 1012.5,257.3 1011.5,259.2 1010.5,255.6 1009.5,256.3 1008.5,256.4 1007.5,255.2 1006.5,258.9 1005.5,255.4 1004.5,255.1 1003.5,257.6 1002.5,256.3 1001.5,254.5 1000.5,259.6 999.5,254.9 998.5,259.6 997.5,256.9 996.5,259.3 995.5,255.8 994.5,257.0 993.5,257.6 992.5,259.2 991.5,257.2 990.5,255.1 989.5,259.1 988.5,258.7 987.5,259.2 986.5,255.3 985.5,255.3 984.5,259.7 983.5,256.5 982.5,257.3 981.5,259.5 980.5,255.8 979.5,258.1 978.5,254.7 977.5,257.2 976.5,254.7 975.5,257.2 974.5,255.3 973.5,255.2 972.5,256.0 971.5,255.3 970.5,257.5 969.5,255.3 968.5,256.2 967.5,257.6 966.5,254.8 965.5,258.5 964.5,256.7 963.5,256.2 962.5,257.4 961.5,255.2 960.5,255.8 959.5,259.3 958.5,258.7 957.5,254.7 956.5,257.8 955.5,255.5 954.5,259.7 953.5,256.0 952.5,259.1 951.5,255.5 950.5,255.3 949.5,256.3 948.5,255.8 947.5,254.8 946.5,258.9 945.5,257.9 944.5,256.5 943.5,256.7 942.5,257.0 941.5,254.6 940.5,259.7 939.5,259.6 938.5,257.3 937.5,254.5 936.5,258.4 935.5,254.6 934.5,256.2 933.5,256.0 932.5,258.5 931.5,258.3 930.5,255.2 929.5,256.9 928.5,255.6 927.5,259.5 926.5,256.8 925.5,254.3 924.5,257.7 923.5,258.4 922.5,255.7 921.5,258.2 920.5,257.6 919.5,255.7 918.5,259.2 917.5,255.6 916.5,254.5 915.5,254.4 914.5,258.7 913.5,254.3 912.5,256.2 911.5,259.3 910.5,256.8 909.5,256.6 908.5,258.8 907.5,255.3 906.5,254.9 905.5,256.1 904.5,254.2 903.5,256.0 902.5,256.3 901.5,254.4 900.5,259.4 899.5,256.0 898.5,259.7 897.5,259.1 896.5,256.4 895.5,254.5 894.5,259.6 893.5,256.4 892.5,259.5 891.5,256.5 890.5,255.2 889.5,259.5 888.5,258.4 887.5,255.5 886.5,255.9 885.5,255.3 884.5,258.3 883.5,255.3 882.5,256.5 881.5,254.4 880.5,259.3 879.5,255.6 878.5,257.9 877.5,254.3 876.5,258.1 875.5,255.6 874.5,256.8 873.5,257.8 872.5,256.7 871.5,254.2 870.5,255.4 869.5,257.4 868.5,254.6 867.5,258.1 866.5,255.6 865.5,255.9 864.5,259.3 863.5,258.5 862.5,257.2 861.5,258.4 860.5,258.2 859.5,258.0 858.5,255.0 857.5,255.6 856.5,258.9 855.5,259.3 854.5,254.2 853.5,256.8 852.5,258.1 851.5,254.3 850.5,258.9 849.5,256.7 848.5,255.6 847.5,255.4 846.5,257.7 845.5,254.9 844.5,255.7 843.5,256.1 842.5,257.1 841.5,256.5 840.5,259.1 839.5,255.6 838.5,254.7 837.5,254.7 836.5,255.0 835.5,259.7 834.5,255.4 833.5,259.2 832.5,255.1 831.5,256.4 830.5,255.9 829.5,255.6 828.5,258.3 827.5,256.1 826.5,254.9 825.5,254.4 824.5,257.8 823.5,256.7 822.5,254.4 821.5,257.2 820.5,259.3 819.5,258.7 818.5,259.5 817.5,255.2 816.5,255.7 815.5,259.4 814.5,258.8 813.5,254.4 812.5,256.6 811.5,257.5 810.5,256.4 809.5,255.8 808.5,258.1 807.5,254.8 806.5,258.4 805.5,258.9 804.5,256.1 803.5,255.9 802.5,256.9 801.5,254.3 800.5,259.2 799.5,258.1 798.5,257.0 797.5,254.9 796.5,257.1 795.5,257.4 794.5,259.4 793.5,255.7 792.5,259.6 791.5,256.7 790.5,259.4 789.5,255.3 788.5,254.8 787.5,256.8 786.5,255.8 785.5,258.0 784.5,255.7 783.5,254.2 782.5,255.9 781.5,255.6 780.5,254.6 779.5,257.6 778.5,258.0 777.5,256.3 776.5,259.6 775.5,255.3 774.5,255.7 773.5,255.6 772.5,254.5 771.5,257.2 770.5,258.3 769.5,254.2 768.5,258.0 767.5,257.7 766.5,258.8 765.5,256.2 764.5,254.3 763.5,258.0 762.5,259.2 761.5,258.8 760.5,258.8 759.5,257.1 758.5,258.7 757.5,257.7 756.5,258.8 755.5,257.8 754.5,255.0 753.5,256.0 752.5,259.1 751.5,257.8 750.5,257.1 749.5,255.5 748.5,254.3 747.5,256.4 746.5,255.6 745.5,257.0 744.5,257.0 743.5,256.3 742.5,256.2 741.5,259.6 740.5,257.2 739.5,259.5 738.5,256.7 737.5,256.7 736.5,255.5 735.5,257.9 734.5,258.9 733.5,255.1 732.5,258.3 731.5,254.9 730.5,256.1 729.5,257.7 728.5,258.8 727.5,259.7 726.5,257.0 725.5,258.8 724.5,256.6 723.5,254.8 722.5,256.8 721.5,257.2 720.5,254.3 719.5,254.3 718.5,255.2 717.5,255.8 716.5,255.9 715.5,255.3 714.5,255.1 713.5,255.5 712.5,254.9 711.5,259.3 710.5,256.1 709.5,259.0 708.5,258.9 707.5,258.6 706.5,259.4 705.5,256.5 704.5,254.5 703.5,258.1 702.5,259.3 701.5,255.6 700.5,259.3 699.5,254.9 698.5,258.5 697.5,255.7 696.5,259.6 695.5,259.7 694.5,257.0 693.5,256.0 692.5,256.6 691.5,254.3 690.5,255.9 689.5,256.1 688.5,256.6 687.5,258.8 686.5,256.9 685.5,259.5 684.5,259.6 683.5,255.0 682.5,258.2 681.5,259.2 680.5,257.9 679.5,255.5 678.5,256.6 677.5,254.9 676.5,259.4 675.5,255.6 674.5,259.1 673.5,259.4 672.5,257.1 671.5,258.0 670.5,257.0 669.5,256.6 668.5,258.4 667.5,257.0 666.5,255.7 665.5,257.3 664.5,258.5 663.5,257.1 662.5,257.3 661.5,256.8 660.5,258.6 659.5,255.2 658.5,254.3 657.5,257.1 656.5,259.3 655.5,259.2 654.5,256.7 653.5,259.2 652.5,256.5 651.5,257.4 650.5,255.8 649.5,255.3 648.5,259.0 647.5,259.4 646.5,257.8 645.5,254.3 644.5,257.2 643.5,257.8 642.5,258.8 641.5,258.7 640.5,255.0 639.5,255.1 638.5,259.5 637.5,256.4 636.5,258.6 635.5,258.6 634.5,256.8 633.5,258.5 632.5,257.9 631.5,258.6 630.5,256.8 629.5,259.2 628.5,255.3 627.5,255.4 626.5,256.2 625.5,259.7 624.5,256.7 623.5,258.0 622.5,255.7 621.5,254.3 620.5,257.1 619.5,258.3 618.5,258.7 617.5,259.7 616.5,255.4 615.5,258.5 614.5,258.5 613.5,256.2 612.5,258.1 611.5,259.6 610.5,254.3 609.5,255.0 608.5,259.5 607.5,255.1 606.5,255.6 605.5,254.7 604.5,256.9 603.5,259.7 602.5,254.9 601.5,256.1 600.5,255.0 599.5,259.0 598.5,256.2 597.5,255.0 596.5,254.5 595.5,255.1 594.5,254.5 593.5,257.7 592.5,256.4 591.5,258.6 590.5,258.5 589.5,254.5 588.5,257.6 587.5,258.0 586.5,257.3 585.5,256.5 584.5,255.6 583.5,256.9 582.5,255.5 581.5,255.0 580.5,259.1 579.5,256.5 578.5,259.0 577.5,259.1 576.5,256.7 575.5,259.0 574.5,255.6 573.5,258.5 572.5,254.8 571.5,256.7 570.5,257.9 569.5,255.8 568.5,259.7 567.5,258.1 566.5,257.9 565.5,259.4 564.5,256.7 563.5,257.5 562.5,255.9 561.5,257.4 560.5,257.9 559.5,256.9 558.5,258.4 557.5,254.8 556.5,255.8 555.5,259.1 554.5,257.4 553.5,258.1 552.5,255.8 551.5,257.4 550.5,256.6 549.5,255.3 548.5,254.5 547.5,256.2 546.5,257.4 545.5,258.7 544.5,254.8 543.5,255.8 542.5,254.4 541.5,256.4 540.5,259.5 539.5,255.4 538.5,258.8 537.5,254.7 536.5,256.6 535.5,257.0 534.5,256.2 533.5,254.6 532.5,255.0" fill="#1f6a3a"/><path d="M544.5 213V254M546.5 213V256M547.5 210V255M552.5 211V255M559.5 213V256M561.5 209V256M562.5 209V255M563.5 210V256M564.5 210V255M566.5 211V257M568.5 210V258M570.5 212V257M571.5 214V255M575.5 212V258M576.5 214V255M581.5 208V254M589.5 210V253M590.5 208V257M593.5 213V256M596.5 212V253M599.5 214V258M604.5 211V256M616.5 212V254M634.5 209V256M640.5 213V254M651.5 213V256M654.5 212V255M661.5 213V256M666.5 213V254M676.5 211V258M677.5 209V254M678.5 213V255M684.5 209V258M685.5 213V258M688.5 213V255M691.5 210V253M695.5 214V258M696.5 209V258M709.5 214V258M710.5 211V255M711.5 211V258M712.5 212V254M713.5 211V254M719.5 212V253M722.5 213V256M731.5 214V254M735.5 209V257M741.5 213V258M746.5 214V254M747.5 214V255M754.5 208V254M757.5 208V256M759.5 213V256M761.5 209V258M763.5 210V257M765.5 213V255M766.5 213V258M772.5 210V253M774.5 214V254M783.5 211V253M785.5 210V257M788.5 211V254M792.5 209V258M796.5 213V256M800.5 213V258M802.5 214V256M805.5 212V258M809.5 208V255M814.5 213V258M817.5 211V254M821.5 208V256M824.5 209V256M825.5 212V253M828.5 212V257M831.5 211V255M833.5 213V258M834.5 211V254M837.5 213V253M838.5 212V253M839.5 213V254M843.5 212V255M848.5 212V254M849.5 212V255M853.5 208V256M859.5 211V257M864.5 213V258M867.5 210V257M870.5 212V254M874.5 209V256M882.5 212V255M889.5 212V258M892.5 210V258M893.5 213V255M896.5 214V255M897.5 208V258M899.5 208V255M900.5 213V258M905.5 212V255M908.5 212V257M909.5 209V255M913.5 208V253M915.5 209V253M918.5 209V258M921.5 212V257M940.5 209V258M949.5 211V255M952.5 213V258M953.5 210V255M961.5 213V254M976.5 214V253M983.5 212V255M984.5 209V258M985.5 212V254M990.5 211V254M996.5 211V258M1008.5 213V255M1018.5 211V257M1019.5 211V255M1022.5 209V257M1026.5 214V255M1030.5 211V253M1045.5 211V255M1047.5 213V258M1070.5 214V255M1072.5 213V256M1075.5 213V258M1081.5 211V255M1084.5 213V258M1085.5 214V256M1102.5 210V258M1116.5 211V258M1121.5 214V258M1128.5 214V256M1132.5 208V258M1133.5 213V254M1139.5 209V254M1144.5 208V256M1149.5 211V254M1158.5 212V258M1159.5 212V254M1161.5 213V256M1162.5 214V257M1163.5 210V257M1168.5 213V254M1169.5 208V256M1174.5 212V255M1176.5 210V257M1182.5 210V258M1189.5 213V255M1209.5 209V257M1211.5 211V255M1215.5 209V255M1219.5 208V256M1220.5 213V256M1224.5 212V258M1227.5 213V258M1230.5 214V255M1232.5 212V254M1235.5 213V257M1239.5 211V256M1244.5 211V254M1249.5 214V257M1257.5 213V258M1259.5 214V258M1269.5 213V257M1270.5 211V257M1274.5 211V253M1279.5 211V256M1282.5 208V253M1290.5 212V258M1292.5 211V257M1303.5 214V257M1304.5 209V256M1308.5 210V257M1309.5 208V256M1310.5 210V256M1311.5 210V256M1314.5 209V253" stroke="#6e6a3a" stroke-width="0.8" stroke-opacity="0.55" fill="none"/><path d="M538.5 195V210M548.5 193V210M548.5 254V287M549.5 255V257M555.5 258V261M557.5 254V263M566.5 203V210M568.5 208V210M578.5 202V209M584.5 255V270M590.5 179V207M594.5 196V214M596.5 199V212M597.5 200V213M599.5 203V213M599.5 259V270M601.5 256V273M621.5 205V211M621.5 254V266M633.5 203V208M649.5 254V257M650.5 255V283M652.5 255V268M659.5 255V263M663.5 256V263M666.5 200V212M683.5 255V267M688.5 211V212M691.5 253V260M697.5 208V213M706.5 259V261M718.5 178V210M720.5 198V212M720.5 253V268M722.5 203V212M723.5 199V208M729.5 257V259M737.5 202V212M738.5 256V281M740.5 189V207M740.5 257V257M743.5 191V214M746.5 255V260M747.5 209V213M747.5 256V263M760.5 206V210M761.5 206V208M761.5 258V263M762.5 208V210M768.5 194V210M785.5 204V209M788.5 255V261M789.5 192V208M789.5 254V261M791.5 257V274M792.5 259V264M794.5 259V267M797.5 255V266M802.5 256V269M807.5 255V256M822.5 202V209M822.5 254V270M826.5 254V277M831.5 255V263M832.5 255V263M834.5 255V257M837.5 211V213M839.5 187V211M844.5 256V261M845.5 255V268M848.5 209V221M851.5 204V208M851.5 253V257M855.5 204V211M856.5 176V208M860.5 206V208M872.5 205V211M877.5 198V212M877.5 253V275M878.5 198V211M880.5 258V268M884.5 201V209M887.5 255V262M897.5 205V208M898.5 259V264M900.5 201V212M912.5 205V212M913.5 254V272M923.5 208V214M927.5 180V207M930.5 255V259M932.5 258V266M935.5 204V208M936.5 195V212M950.5 206V209M956.5 258V264M960.5 256V262M964.5 195V207M982.5 209V212M983.5 209V211M986.5 255V266M994.5 199V211M999.5 254V262M1000.5 259V262M1023.5 254V258M1024.5 254V258M1025.5 256V263M1029.5 258V259M1033.5 259V268M1037.5 255V265M1050.5 256V272M1054.5 197V213M1061.5 255V275M1066.5 256V261M1070.5 196V213M1070.5 256V264M1077.5 257V284M1078.5 258V264M1079.5 255V260M1082.5 197V210M1086.5 255V259M1092.5 254V268M1095.5 172V209M1095.5 257V269M1096.5 258V262M1101.5 258V264M1106.5 209V212M1113.5 259V277M1115.5 259V282M1117.5 193V208M1118.5 258V272M1120.5 190V212M1120.5 257V261M1123.5 190V213M1123.5 259V267M1124.5 195V211M1132.5 190V208M1135.5 258V270M1139.5 255V259M1154.5 197V214M1161.5 206V213M1161.5 257V261M1162.5 206V213M1165.5 256V258M1172.5 204V210M1178.5 201V209M1180.5 255V260M1188.5 203V212M1189.5 203V212M1192.5 257V274M1201.5 258V261M1203.5 259V264M1204.5 258V260M1205.5 257V260M1206.5 256V261M1209.5 200V208M1210.5 200V209M1210.5 255V263M1212.5 201V210M1213.5 194V209M1218.5 257V270M1221.5 206V211M1221.5 257V259M1230.5 202V213M1230.5 256V258M1231.5 202V211M1233.5 202V212M1235.5 258V291M1237.5 203V212M1239.5 200V210M1239.5 257V260M1243.5 205V211M1248.5 254V262M1252.5 207V211M1252.5 257V263M1253.5 255V270M1261.5 208V213M1261.5 254V257M1262.5 206V212M1269.5 258V267M1276.5 256V262M1278.5 208V213M1291.5 195V211M1299.5 192V210M1306.5 255V259M1307.5 257V259M1310.5 202V209M1315.5 254V267" stroke="#1b0a60" stroke-width="1" fill="none"/><path d="M532.5 254V271M537.5 205V213M540.5 203V210M542.5 253V276M546.5 196V212M546.5 257V267M549.5 210V213M551.5 256V263M557.5 185V208M557.5 254V259M565.5 259V265M572.5 254V259M576.5 256V266M580.5 200V212M582.5 203V212M582.5 255V259M592.5 256V258M597.5 205V213M608.5 258V264M615.5 196V210M620.5 200V212M620.5 256V271M624.5 257V275M626.5 256V261M636.5 258V261M638.5 185V211M638.5 258V275M645.5 254V261M648.5 259V263M663.5 193V212M664.5 258V259M666.5 255V261M667.5 256V260M677.5 206V208M678.5 209V213M678.5 256V286M679.5 210V213M681.5 197V209M682.5 257V268M693.5 255V259M694.5 256V259M697.5 212V212M703.5 257V259M705.5 172V209M710.5 204V210M710.5 256V258M715.5 255V266M720.5 193V212M720.5 253V277M725.5 194V211M726.5 193V211M726.5 256V259M737.5 193V212M738.5 194V212M738.5 256V267M753.5 203V211M753.5 255V285M754.5 203V208M771.5 205V211M776.5 203V209M783.5 244V266M784.5 207V214M784.5 255V265M789.5 255V260M797.5 200V207M800.5 258V261M802.5 257V265M813.5 254V278M818.5 207V211M818.5 259V261M819.5 207V209M823.5 256V266M828.5 258V264M833.5 206V212M845.5 254V258M851.5 253V255M852.5 212V213M862.5 199V211M862.5 257V258M863.5 211V214M866.5 255V264M874.5 189V207M894.5 196V212M898.5 259V291M900.5 259V271M905.5 256V257M910.5 256V263M931.5 258V279M940.5 192V208M950.5 254V268M952.5 258V285M953.5 255V279M960.5 256V274M977.5 197V211M977.5 256V258M978.5 197V209M982.5 207V211M983.5 210V211M983.5 256V270M993.5 257V260M996.5 259V260M998.5 259V273M1012.5 257V272M1013.5 204V208M1013.5 254V262M1017.5 204V211M1017.5 257V284M1022.5 202V208M1022.5 258V275M1024.5 255V262M1028.5 206V209M1036.5 258V268M1040.5 200V209M1040.5 255V259M1049.5 258V259M1052.5 256V272M1054.5 202V213M1061.5 254V260M1068.5 200V213M1069.5 253V260M1077.5 208V213M1080.5 257V292M1085.5 210V213M1088.5 188V214M1099.5 254V267M1108.5 180V208M1122.5 202V212M1122.5 254V256M1129.5 188V211M1132.5 259V281M1136.5 208V209M1140.5 256V258M1151.5 199V209M1154.5 256V260M1161.5 207V213M1165.5 255V264M1167.5 254V262M1168.5 255V262M1169.5 256V270M1170.5 258V277M1176.5 204V209M1179.5 256V259M1183.5 254V275M1187.5 257V263M1191.5 256V269M1192.5 257V269M1194.5 205V211M1194.5 253V266M1199.5 258V262M1217.5 257V275M1219.5 256V260M1223.5 257V280M1229.5 255V287M1230.5 256V287M1236.5 194V212M1236.5 254V260M1243.5 192V211M1245.5 198V208M1249.5 211V214M1251.5 183V212M1254.5 196V207M1261.5 254V270M1293.5 204V213M1307.5 256V259M1313.5 256V284M1315.5 208V212" stroke="#d8502e" stroke-width="1" fill="none"/><path d="M535.5 203V213M535.5 256V261M536.5 256V259M551.5 256V260M553.5 206V209M567.5 208V213M567.5 258V270M573.5 258V261M575.5 201V211M579.5 256V261M580.5 259V274M587.5 199V208M595.5 254V266M613.5 207V212M627.5 201V212M640.5 212V213M640.5 254V277M643.5 257V262M649.5 255V256M654.5 196V212M658.5 254V266M665.5 256V274M667.5 256V258M682.5 185V212M689.5 209V210M691.5 254V263M692.5 196V210M694.5 256V274M696.5 208V209M701.5 255V281M702.5 259V269M706.5 191V213M710.5 256V258M712.5 204V212M713.5 204V210M713.5 255V259M726.5 203V211M726.5 257V259M732.5 210V213M738.5 208V212M743.5 212V213M743.5 256V259M765.5 255V272M767.5 208V210M781.5 209V213M796.5 212V213M796.5 256V261M798.5 256V270M802.5 207V213M802.5 257V263M803.5 206V210M807.5 255V276M808.5 258V276M810.5 256V272M829.5 254V256M830.5 255V257M831.5 256V260M834.5 187V211M836.5 254V257M837.5 195V213M850.5 200V208M850.5 258V261M864.5 259V265M868.5 254V270M875.5 255V260M902.5 179V209M903.5 200V211M903.5 255V258M904.5 200V213M911.5 200V211M913.5 253V255M922.5 255V257M923.5 212V213M924.5 192V208M931.5 206V208M935.5 254V280M954.5 210V211M957.5 192V207M970.5 257V264M972.5 208V213M979.5 212V212M982.5 256V263M986.5 255V258M988.5 258V265M989.5 258V265M991.5 207V214M992.5 201V210M997.5 211V212M1003.5 257V261M1006.5 258V267M1017.5 257V267M1021.5 206V210M1021.5 255V260M1031.5 206V210M1031.5 256V267M1038.5 195V208M1039.5 256V280M1043.5 259V267M1059.5 254V258M1062.5 199V210M1072.5 257V259M1073.5 255V261M1076.5 206V212M1078.5 204V207M1082.5 255V264M1101.5 258V259M1107.5 255V265M1110.5 259V282M1112.5 255V259M1116.5 207V210M1116.5 258V268M1118.5 203V211M1133.5 208V212M1134.5 199V213M1159.5 202V212M1160.5 196V210M1165.5 256V258M1174.5 256V258M1178.5 257V270M1182.5 258V263M1184.5 255V261M1187.5 258V272M1189.5 255V284M1193.5 208V212M1201.5 258V263M1207.5 256V265M1208.5 256V265M1214.5 203V213M1214.5 257V269M1218.5 180V213M1222.5 257V265M1237.5 258V260M1241.5 209V212M1244.5 200V210M1244.5 254V265M1247.5 204V211M1251.5 206V211M1251.5 256V264M1254.5 258V269M1261.5 199V212M1278.5 259V267M1286.5 259V303M1290.5 199V212M1297.5 255V269M1298.5 260V271M1300.5 203V211M1303.5 211V213M1303.5 258V264M1316.5 258V263" stroke="#1e6b3a" stroke-width="1" fill="none"/><path d="M534.5 207V210M537.5 254V297M546.5 192V212M556.5 199V209M556.5 255V268M560.5 205V214M560.5 257V263M561.5 191V209M561.5 256V263M562.5 194V208M563.5 198V209M568.5 186V210M579.5 202V212M582.5 202V212M582.5 255V257M586.5 202V212M596.5 190V211M596.5 254V261M599.5 259V260M600.5 254V272M601.5 204V212M601.5 255V274M606.5 193V211M615.5 203V210M619.5 190V208M619.5 258V261M625.5 260V283M632.5 197V212M634.5 194V208M637.5 176V208M638.5 205V211M639.5 205V208M640.5 254V267M641.5 258V267M643.5 194V207M645.5 212V213M645.5 254V259M654.5 195V212M654.5 256V273M655.5 200V209M656.5 258V261M664.5 193V211M664.5 257V263M672.5 256V269M675.5 255V256M678.5 180V213M678.5 256V262M679.5 180V213M679.5 255V281M686.5 256V268M689.5 256V282M693.5 213V214M693.5 255V272M694.5 192V210M697.5 255V258M699.5 254V267M703.5 258V259M704.5 254V259M712.5 205V212M712.5 254V261M715.5 255V255M716.5 255V270M724.5 256V262M725.5 205V210M730.5 256V273M731.5 255V273M743.5 255V266M747.5 256V262M761.5 259V274M763.5 184V209M763.5 258V265M765.5 188V212M771.5 198V210M774.5 201V213M779.5 257V261M782.5 195V208M782.5 256V283M785.5 194V210M785.5 257V273M786.5 255V273M787.5 208V210M795.5 201V212M795.5 257V282M796.5 210V213M796.5 256V259M799.5 202V207M799.5 258V264M801.5 199V210M801.5 254V258M802.5 199V214M802.5 256V268M803.5 203V211M803.5 255V287M807.5 254V271M815.5 258V272M816.5 246V263M820.5 206V210M828.5 207V212M828.5 258V262M831.5 255V257M838.5 188V211M843.5 201V211M843.5 256V262M844.5 256V274M848.5 204V212M848.5 255V262M850.5 259V269M851.5 207V208M851.5 254V269M853.5 256V261M858.5 254V279M862.5 197V211M862.5 257V258M864.5 211V212M871.5 254V292M872.5 256V292M884.5 258V294M889.5 201V212M889.5 258V261M890.5 208V211M890.5 254V299M895.5 254V283M902.5 256V278M904.5 195V213M904.5 253V257M905.5 195V212M908.5 258V290M912.5 256V269M917.5 255V290M918.5 180V208M923.5 202V213M923.5 258V279M927.5 195V207M927.5 259V278M937.5 254V280M939.5 178V211M939.5 259V263M945.5 180V210M948.5 255V260M949.5 208V210M961.5 178V222M961.5 245V258M967.5 257V269M971.5 255V260M986.5 189V209M986.5 255V266M992.5 258V275M998.5 259V261M999.5 254V261M1003.5 257V261M1006.5 259V270M1007.5 255V286M1008.5 197V212M1010.5 212V213M1016.5 189V209M1022.5 258V276M1030.5 254V259M1035.5 259V275M1041.5 255V258M1052.5 196V208M1055.5 255V259M1057.5 256V261M1063.5 201V210M1063.5 257V265M1064.5 253V274M1066.5 189V210M1067.5 203V210M1069.5 184V209M1074.5 209V209M1076.5 255V259M1077.5 257V259M1080.5 191V214M1103.5 255V278M1105.5 257V262M1106.5 211V212M1106.5 257V262M1107.5 255V265M1109.5 162V211M1113.5 259V292M1118.5 258V271M1122.5 190V212M1123.5 202V213M1129.5 201V211M1130.5 206V208M1132.5 259V275M1134.5 205V213M1134.5 254V272M1137.5 209V209M1137.5 256V256M1138.5 254V269M1139.5 201V208M1141.5 256V262M1143.5 256V267M1152.5 255V258M1153.5 259V260M1162.5 195V212M1162.5 259V276M1164.5 255V258M1167.5 254V255M1172.5 206V211M1174.5 255V278M1181.5 255V268M1193.5 254V270M1197.5 206V210M1198.5 206V212M1201.5 182V210M1201.5 257V277M1205.5 167V207M1205.5 258V266M1206.5 257V266M1210.5 255V257M1215.5 200V209M1216.5 205V210M1224.5 259V267M1232.5 255V259M1234.5 206V207M1237.5 203V213M1237.5 258V273M1239.5 192V210M1243.5 205V211M1243.5 255V284M1245.5 256V262M1247.5 255V260M1251.5 200V212M1255.5 204V213M1255.5 259V270M1256.5 204V208M1263.5 181V212M1263.5 254V264M1266.5 258V273M1268.5 258V267M1270.5 258V260M1273.5 255V266M1289.5 257V284M1291.5 256V267M1294.5 257V258M1298.5 167V210M1298.5 260V279M1306.5 208V213M1306.5 255V278M1309.5 257V261M1311.5 205V208" stroke="#e0992e" stroke-width="1" fill="none"/><path d="M536.5 186V214M536.5 256V292M544.5 194V213M546.5 201V212M547.5 201V209M549.5 194V213M553.5 204V209M555.5 259V268M560.5 258V285M561.5 256V259M563.5 189V210M565.5 204V208M565.5 259V262M570.5 184V211M570.5 257V286M596.5 254V259M601.5 199V212M601.5 256V282M607.5 254V256M609.5 254V264M610.5 253V275M611.5 259V275M614.5 181V213M615.5 208V210M615.5 258V260M618.5 257V260M624.5 188V207M624.5 256V258M627.5 200V212M627.5 255V284M628.5 255V256M629.5 259V276M633.5 204V208M633.5 258V264M640.5 199V213M642.5 204V212M642.5 259V264M655.5 203V210M655.5 258V262M664.5 257V271M666.5 254V280M669.5 198V208M680.5 210V212M683.5 193V210M684.5 259V262M689.5 197V210M691.5 254V256M697.5 255V275M703.5 206V210M704.5 254V268M709.5 206V213M710.5 256V257M711.5 258V262M716.5 208V212M716.5 255V279M724.5 164V208M724.5 256V288M726.5 256V286M730.5 203V211M731.5 254V259M739.5 211V212M739.5 259V270M740.5 257V266M747.5 255V271M748.5 254V263M751.5 257V289M755.5 257V263M759.5 247V262M764.5 192V212M764.5 253V267M767.5 180V210M769.5 194V210M772.5 253V260M774.5 203V213M779.5 186V208M780.5 186V210M781.5 206V213M781.5 255V262M782.5 255V262M792.5 205V208M799.5 204V208M801.5 203V211M801.5 253V291M802.5 203V214M811.5 256V284M812.5 201V211M814.5 209V213M814.5 258V262M819.5 205V208M820.5 202V210M823.5 256V279M826.5 255V262M828.5 204V211M828.5 258V273M830.5 255V276M834.5 200V210M838.5 207V211M843.5 256V275M851.5 254V265M853.5 256V263M854.5 253V260M858.5 206V213M860.5 258V258M862.5 257V262M873.5 185V207M874.5 205V208M889.5 259V289M890.5 194V211M890.5 254V277M892.5 258V277M905.5 166V212M907.5 199V207M909.5 256V260M913.5 206V208M917.5 194V208M925.5 191V207M929.5 256V259M931.5 258V261M934.5 204V211M936.5 200V212M936.5 258V272M941.5 254V270M950.5 192V209M950.5 255V295M955.5 255V257M965.5 257V260M967.5 257V268M975.5 256V275M977.5 257V270M984.5 259V272M985.5 255V285M991.5 256V276M993.5 204V212M993.5 258V260M995.5 203V212M997.5 193V213M998.5 206V208M1001.5 186V210M1001.5 254V265M1002.5 186V208M1012.5 257V265M1016.5 255V270M1017.5 257V284M1029.5 205V209M1034.5 258V271M1037.5 198V208M1037.5 254V259M1048.5 258V277M1052.5 202V208M1056.5 255V258M1058.5 209V211M1061.5 197V209M1062.5 188V210M1063.5 258V261M1065.5 255V268M1075.5 198V213M1075.5 259V275M1078.5 258V282M1079.5 203V210M1084.5 185V212M1088.5 209V213M1095.5 258V261M1108.5 207V207M1108.5 254V266M1109.5 254V258M1118.5 258V269M1119.5 255V259M1121.5 212V213M1124.5 211V211M1124.5 255V269M1126.5 257V261M1127.5 257V271M1128.5 211V213M1128.5 257V267M1131.5 249V266M1133.5 254V262M1136.5 206V209M1137.5 205V209M1139.5 205V209M1140.5 201V212M1143.5 203V211M1143.5 256V259M1148.5 248V271M1150.5 199V208M1153.5 260V262M1156.5 257V259M1158.5 258V276M1159.5 205V211M1163.5 196V209M1167.5 253V258M1174.5 183V211M1174.5 256V264M1186.5 203V212M1189.5 256V270M1195.5 206V211M1198.5 198V213M1198.5 257V267M1202.5 187V211M1202.5 255V277M1207.5 205V212M1208.5 255V287M1209.5 257V265M1215.5 256V263M1227.5 186V212M1230.5 171V213M1230.5 256V261M1232.5 255V271M1233.5 258V274M1234.5 257V274M1236.5 255V277M1244.5 205V210M1244.5 254V258M1247.5 193V211M1253.5 203V209M1258.5 254V273M1263.5 195V212M1263.5 254V257M1268.5 258V263M1276.5 189V211M1276.5 256V257M1278.5 212V213M1285.5 203V209M1289.5 257V265M1290.5 185V212M1290.5 258V261M1294.5 257V264M1304.5 257V260M1310.5 257V262M1313.5 256V262M1314.5 201V209M1316.5 258V265" stroke="#6b30d0" stroke-width="1" fill="none"/><path d="M533.5 202V210M536.5 256V257M541.5 192V209M549.5 255V258M552.5 198V211M556.5 199V209M563.5 257V260M580.5 180V211M581.5 180V208M581.5 254V259M584.5 255V279M594.5 254V264M602.5 255V281M606.5 255V262M611.5 258V296M618.5 206V208M620.5 257V294M628.5 255V268M629.5 258V268M639.5 254V272M640.5 254V272M652.5 256V257M654.5 256V263M655.5 258V260M661.5 256V271M664.5 193V210M666.5 255V268M669.5 255V274M671.5 257V272M673.5 201V211M675.5 255V269M683.5 254V277M695.5 185V213M708.5 193V213M715.5 255V263M719.5 254V258M732.5 203V213M733.5 254V257M742.5 256V259M746.5 190V213M746.5 255V266M747.5 190V213M747.5 256V260M751.5 257V267M766.5 194V212M766.5 259V264M769.5 254V258M770.5 257V264M772.5 255V257M778.5 206V211M778.5 257V273M793.5 201V211M793.5 255V256M800.5 198V212M801.5 253V258M816.5 255V268M822.5 253V262M827.5 255V268M828.5 196V212M833.5 202V212M833.5 259V274M840.5 202V210M841.5 255V257M845.5 254V270M846.5 191V210M846.5 257V267M847.5 191V208M847.5 255V263M856.5 258V260M866.5 245V258M872.5 197V211M874.5 257V258M880.5 205V210M890.5 206V220M890.5 245V282M891.5 203V213M891.5 255V265M896.5 209V213M897.5 259V269M901.5 254V258M906.5 184V208M909.5 200V208M912.5 255V282M913.5 254V267M919.5 192V211M919.5 255V271M922.5 181V212M925.5 254V268M927.5 189V207M932.5 195V208M937.5 199V212M937.5 254V269M942.5 256V257M951.5 201V212M951.5 255V262M954.5 204V211M965.5 180V212M966.5 207V208M970.5 207V212M976.5 195V213M979.5 193V212M989.5 259V268M991.5 194V213M1000.5 194V207M1007.5 203V208M1009.5 201V210M1013.5 253V255M1015.5 256V268M1016.5 255V264M1020.5 194V213M1021.5 254V257M1022.5 201V209M1023.5 186V211M1025.5 195V213M1030.5 254V278M1032.5 202V208M1033.5 203V208M1041.5 197V208M1044.5 203V212M1048.5 199V209M1055.5 255V259M1057.5 197V207M1057.5 257V258M1060.5 198V208M1069.5 253V261M1072.5 256V264M1074.5 257V300M1092.5 255V270M1097.5 257V260M1098.5 256V260M1099.5 197V212M1107.5 205V208M1108.5 253V260M1115.5 259V264M1119.5 201V209M1120.5 201V212M1122.5 211V212M1124.5 254V260M1125.5 200V213M1125.5 254V260M1126.5 173V209M1129.5 207V211M1134.5 206V213M1141.5 208V213M1144.5 257V265M1148.5 200V211M1148.5 258V282M1150.5 255V283M1155.5 258V261M1156.5 211V212M1156.5 257V261M1161.5 177V212M1163.5 190V209M1168.5 179V213M1181.5 205V212M1183.5 254V258M1187.5 258V268M1189.5 212V213M1196.5 257V262M1198.5 207V212M1201.5 258V264M1202.5 208V210M1202.5 255V264M1207.5 257V261M1208.5 256V285M1211.5 256V261M1235.5 192V212M1236.5 200V211M1238.5 257V272M1243.5 255V265M1245.5 256V260M1248.5 254V268M1251.5 256V276M1256.5 195V208M1260.5 255V265M1261.5 254V260M1264.5 196V208M1264.5 257V260M1266.5 258V266M1269.5 211V212M1269.5 258V260M1271.5 184V210M1272.5 206V210M1276.5 198V210M1278.5 195V213M1278.5 259V263M1286.5 198V211M1290.5 199V211M1294.5 205V211M1294.5 257V271M1295.5 256V271M1298.5 201V211M1304.5 206V208M1306.5 254V256M1308.5 257V271M1310.5 257V260M1316.5 194V208M1316.5 259V263" stroke="#1f7aa0" stroke-width="1" fill="none"/><path d="M533.5 254V260M547.5 197V209M550.5 255V258M553.5 258V270M556.5 201V209M560.5 208V213M560.5 257V284M563.5 204V209M564.5 256V262M575.5 201V211M582.5 255V279M584.5 206V210M591.5 258V261M592.5 206V211M595.5 255V268M607.5 254V261M611.5 208V211M615.5 205V210M616.5 255V264M618.5 205V208M618.5 258V281M620.5 200V212M622.5 255V258M625.5 196V207M632.5 189V213M632.5 257V262M635.5 208V212M637.5 255V263M641.5 185V207M641.5 259V272M650.5 185V212M657.5 257V268M670.5 256V258M688.5 256V262M690.5 193V212M694.5 257V274M696.5 200V209M698.5 258V262M703.5 258V288M706.5 206V213M708.5 258V271M712.5 207V212M718.5 205V211M718.5 254V259M722.5 198V213M726.5 256V264M730.5 255V270M731.5 194V213M731.5 255V269M732.5 194V213M736.5 207V212M736.5 255V256M747.5 207V212M752.5 258V262M753.5 255V262M757.5 204V208M757.5 257V264M758.5 258V270M800.5 211V213M800.5 258V282M805.5 258V268M806.5 257V268M808.5 197V208M811.5 257V270M813.5 210V212M813.5 254V257M814.5 258V268M836.5 206V211M842.5 257V270M843.5 255V272M844.5 212V214M845.5 254V268M846.5 208V211M846.5 257V269M854.5 253V257M875.5 194V212M880.5 199V210M882.5 256V257M886.5 255V270M887.5 197V208M887.5 255V270M891.5 207V213M893.5 255V259M895.5 254V261M899.5 256V268M905.5 255V277M906.5 254V277M935.5 254V259M937.5 207V212M941.5 207V212M941.5 253V274M944.5 197V212M949.5 255V264M953.5 255V262M961.5 207V212M961.5 255V265M978.5 254V265M986.5 193V209M996.5 258V265M1005.5 254V262M1014.5 254V263M1020.5 206V214M1025.5 255V260M1028.5 171V210M1029.5 257V283M1031.5 256V262M1046.5 208V213M1048.5 202V209M1049.5 207V213M1055.5 256V259M1056.5 255V259M1058.5 209V212M1068.5 195V213M1070.5 208V213M1071.5 210V213M1071.5 255V278M1073.5 207V209M1074.5 256V258M1076.5 205V212M1078.5 258V262M1083.5 257V261M1088.5 256V268M1089.5 198V207M1089.5 254V256M1095.5 193V209M1097.5 256V259M1106.5 191V212M1108.5 254V284M1112.5 205V209M1122.5 253V264M1123.5 197V213M1124.5 254V268M1135.5 199V208M1136.5 180V210M1136.5 258V272M1139.5 254V256M1140.5 188V211M1141.5 211V214M1145.5 199V208M1145.5 257V264M1159.5 209V212M1159.5 254V271M1160.5 256V264M1161.5 183V213M1161.5 257V261M1173.5 257V268M1176.5 200V210M1176.5 257V259M1177.5 255V259M1183.5 254V278M1184.5 255V278M1185.5 254V256M1194.5 190V211M1196.5 257V259M1200.5 202V208M1201.5 202V209M1201.5 258V280M1204.5 257V268M1211.5 256V260M1217.5 256V265M1226.5 190V211M1234.5 189V207M1238.5 206V209M1239.5 206V210M1258.5 253V262M1260.5 255V256M1265.5 258V272M1268.5 202V209M1274.5 253V268M1275.5 254V262M1278.5 195V214M1280.5 258V262M1282.5 254V268M1285.5 206V209M1285.5 259V267M1290.5 211V211M1293.5 256V266M1302.5 195V209M1308.5 258V263M1311.5 204V209M1311.5 257V266M1314.5 192V209" stroke="#d0283c" stroke-width="1" fill="none"/><path d="M533.5 254V260M539.5 255V256M541.5 205V210M546.5 257V261M547.5 203V210M557.5 196V207M557.5 254V267M567.5 257V283M576.5 207V214M584.5 189V210M585.5 189V213M593.5 187V213M595.5 255V261M602.5 255V278M611.5 206V210M621.5 209V211M622.5 209V214M622.5 254V262M623.5 208V211M625.5 259V273M637.5 256V279M638.5 259V280M642.5 202V213M652.5 255V274M663.5 203V212M665.5 257V276M666.5 198V211M669.5 255V279M670.5 200V210M670.5 256V279M672.5 257V259M677.5 185V208M680.5 257V286M681.5 190V209M683.5 207V209M696.5 259V269M697.5 207V212M703.5 257V272M722.5 203V212M723.5 254V255M729.5 257V261M753.5 209V211M753.5 255V257M760.5 249V265M762.5 209V210M764.5 204V212M773.5 200V209M780.5 254V258M781.5 207V212M782.5 175V209M784.5 204V213M785.5 196V209M788.5 254V271M795.5 209V212M795.5 256V267M803.5 255V256M824.5 170V208M827.5 201V210M827.5 256V258M836.5 255V271M837.5 254V265M844.5 193V213M844.5 255V263M850.5 200V207M850.5 258V267M851.5 194V208M851.5 254V263M855.5 200V211M857.5 185V207M859.5 257V266M862.5 194V211M864.5 205V212M873.5 258V266M882.5 193V212M885.5 209V211M885.5 254V256M894.5 210V213M899.5 256V259M900.5 259V269M901.5 254V269M907.5 199V207M923.5 257V264M937.5 203V212M938.5 203V213M941.5 205V212M941.5 254V259M951.5 255V264M963.5 202V208M969.5 206V213M973.5 204V209M975.5 257V271M976.5 254V271M979.5 185V213M991.5 257V280M997.5 212V213M999.5 254V257M1001.5 204V210M1003.5 257V258M1006.5 258V271M1009.5 256V272M1013.5 202V209M1014.5 202V209M1014.5 254V264M1023.5 208V211M1028.5 254V260M1041.5 255V264M1051.5 205V209M1058.5 206V212M1058.5 257V272M1060.5 254V263M1061.5 255V268M1062.5 259V268M1063.5 188V210M1063.5 257V272M1066.5 256V269M1072.5 257V272M1080.5 196V214M1080.5 257V259M1083.5 204V208M1085.5 256V270M1088.5 209V214M1092.5 254V258M1093.5 187V212M1099.5 205V212M1099.5 254V261M1109.5 199V212M1119.5 255V268M1134.5 196V213M1134.5 254V257M1137.5 255V266M1138.5 254V260M1139.5 198V209M1144.5 256V258M1146.5 203V213M1160.5 257V271M1162.5 192V212M1179.5 256V265M1188.5 260V277M1189.5 256V265M1193.5 211V213M1194.5 254V260M1195.5 258V260M1206.5 256V266M1217.5 247V259M1225.5 207V212M1233.5 258V261M1239.5 198V210M1239.5 257V272M1244.5 186V209M1244.5 255V265M1251.5 203V212M1255.5 207V213M1255.5 259V272M1257.5 258V268M1271.5 206V211M1272.5 255V276M1274.5 254V273M1289.5 205V209M1291.5 207V212M1291.5 256V268M1293.5 255V257M1296.5 255V260M1300.5 255V261M1305.5 255V268M1306.5 255V266M1310.5 257V281M1311.5 257V281" stroke="#30bca8" stroke-width="1" fill="none"/><path d="M538.5 203V210M542.5 254V255M550.5 203V209M556.5 255V267M559.5 256V262M576.5 201V213M580.5 201V211M590.5 196V208M590.5 258V265M594.5 254V258M602.5 254V264M604.5 184V211M606.5 206V211M607.5 255V278M609.5 209V210M609.5 254V260M615.5 204V210M616.5 190V212M616.5 255V257M631.5 258V263M641.5 201V208M645.5 190V212M649.5 201V208M654.5 205V211M655.5 205V210M655.5 259V272M659.5 254V264M665.5 207V213M668.5 192V210M668.5 258V264M671.5 201V210M673.5 259V288M675.5 255V269M678.5 256V263M681.5 259V266M685.5 259V284M686.5 257V261M688.5 193V213M691.5 254V269M693.5 255V263M694.5 256V263M695.5 260V271M702.5 259V263M703.5 258V277M704.5 208V213M704.5 254V277M707.5 258V259M716.5 204V212M722.5 209V212M722.5 256V265M725.5 209V210M734.5 203V213M738.5 207V213M738.5 256V260M739.5 207V211M744.5 257V273M747.5 255V259M753.5 255V264M756.5 212V214M765.5 256V263M770.5 203V208M787.5 203V210M787.5 256V266M797.5 203V208M797.5 254V266M802.5 209V213M809.5 201V207M811.5 257V285M824.5 202V208M831.5 209V210M831.5 256V270M832.5 209V212M834.5 255V272M845.5 202V208M845.5 254V256M848.5 255V258M870.5 255V261M876.5 258V258M879.5 209V211M882.5 255V272M883.5 255V264M902.5 200V210M903.5 207V211M909.5 256V269M917.5 198V208M922.5 206V212M927.5 259V282M928.5 255V276M929.5 206V211M936.5 258V277M938.5 212V213M940.5 199V207M950.5 255V272M957.5 202V207M958.5 258V265M960.5 255V262M961.5 254V262M969.5 205V212M978.5 254V282M979.5 258V282M980.5 255V268M981.5 195V211M981.5 259V268M982.5 195V211M986.5 255V264M990.5 254V262M993.5 210V213M1001.5 209V210M1021.5 206V210M1021.5 255V268M1045.5 255V260M1049.5 258V259M1059.5 254V259M1060.5 187V208M1067.5 258V277M1069.5 253V256M1070.5 213V214M1076.5 254V268M1083.5 258V266M1086.5 254V273M1112.5 256V276M1118.5 257V260M1120.5 204V212M1122.5 254V256M1124.5 254V258M1126.5 257V268M1128.5 211V213M1133.5 201V213M1133.5 254V264M1136.5 189V210M1136.5 258V264M1141.5 206V213M1141.5 255V259M1142.5 206V212M1147.5 207V211M1149.5 254V265M1156.5 256V267M1159.5 254V256M1163.5 203V209M1163.5 258V259M1170.5 259V262M1171.5 197V212M1174.5 200V211M1183.5 193V212M1189.5 256V261M1190.5 258V271M1195.5 209V211M1198.5 207V212M1198.5 257V268M1199.5 257V268M1202.5 254V273M1210.5 255V264M1220.5 256V270M1222.5 193V210M1227.5 193V213M1228.5 193V211M1238.5 192V208M1239.5 184V210M1242.5 207V208M1244.5 192V210M1246.5 201V209M1259.5 195V213M1260.5 195V210M1262.5 210V212M1262.5 258V265M1263.5 198V212M1263.5 254V265M1278.5 190V213M1284.5 207V214M1295.5 204V209M1302.5 258V265M1304.5 205V208M1309.5 183V208M1311.5 256V262M1312.5 198V209M1316.5 199V208" stroke="#c8622a" stroke-width="1" fill="none"/><path d="M537.5 254V259M539.5 201V213M539.5 254V271M540.5 259V260M541.5 207V209M541.5 256V260M544.5 210V213M546.5 181V213M549.5 192V214M554.5 257V266M555.5 258V284M557.5 254V263M558.5 258V270M562.5 256V273M565.5 259V262M567.5 258V262M570.5 257V260M571.5 202V213M576.5 256V260M589.5 202V209M589.5 254V257M590.5 183V208M592.5 256V258M596.5 203V211M599.5 209V214M601.5 256V265M608.5 212V214M608.5 259V266M610.5 205V210M612.5 257V268M615.5 208V210M616.5 208V211M621.5 201V211M622.5 196V213M622.5 256V279M623.5 208V212M623.5 257V279M634.5 200V209M638.5 198V211M650.5 184V212M653.5 182V213M655.5 197V210M656.5 205V220M657.5 207V210M657.5 256V261M661.5 195V222M662.5 195V209M680.5 258V260M681.5 259V268M683.5 195V209M683.5 254V269M684.5 259V268M690.5 255V261M702.5 258V260M711.5 201V210M711.5 258V289M713.5 254V257M722.5 197V210M723.5 197V208M730.5 202V211M738.5 210V212M745.5 257V259M747.5 256V262M749.5 201V211M749.5 255V268M750.5 197V210M750.5 257V268M752.5 259V263M753.5 256V286M754.5 195V207M754.5 254V273M756.5 200V213M761.5 258V281M763.5 204V209M766.5 259V261M773.5 255V266M774.5 255V259M775.5 202V209M776.5 202V209M777.5 246V261M778.5 207V211M780.5 185V209M788.5 255V263M795.5 256V263M796.5 210V213M796.5 256V260M797.5 255V260M801.5 209V211M801.5 253V256M809.5 255V256M811.5 257V280M812.5 256V303M815.5 201V212M817.5 202V211M819.5 203V208M821.5 195V208M830.5 208V210M832.5 199V213M832.5 254V274M841.5 200V209M841.5 256V263M843.5 255V257M844.5 255V273M849.5 203V211M852.5 211V213M869.5 201V210M869.5 257V271M871.5 254V275M879.5 208V211M882.5 210V212M894.5 199V213M899.5 255V284M900.5 258V264M906.5 200V208M908.5 258V262M909.5 255V258M913.5 253V272M915.5 254V269M919.5 201V212M921.5 196V212M921.5 257V276M923.5 210V214M923.5 257V265M929.5 207V210M929.5 257V259M930.5 254V257M932.5 204V209M941.5 210V212M945.5 257V268M949.5 197V210M949.5 255V257M953.5 205V210M954.5 259V282M956.5 205V209M958.5 258V268M965.5 258V261M969.5 191V213M970.5 202V212M975.5 257V262M978.5 205V209M978.5 254V274M983.5 194V211M993.5 210V213M1004.5 194V208M1004.5 254V269M1006.5 206V211M1014.5 255V258M1017.5 174V211M1023.5 254V268M1054.5 259V271M1055.5 256V262M1066.5 256V272M1087.5 193V213M1087.5 258V269M1088.5 193V213M1089.5 254V274M1098.5 208V209M1106.5 257V259M1121.5 259V262M1124.5 208V211M1124.5 254V258M1127.5 206V209M1134.5 254V269M1135.5 190V208M1138.5 254V260M1139.5 254V256M1142.5 200V211M1147.5 204V210M1150.5 254V270M1151.5 203V208M1155.5 208V210M1155.5 258V278M1159.5 196V212M1169.5 256V272M1175.5 206V213M1175.5 258V284M1178.5 185V208M1178.5 257V258M1179.5 204V213M1188.5 259V260M1190.5 202V208M1197.5 256V257M1202.5 254V271M1204.5 191V208M1214.5 257V271M1216.5 201V211M1226.5 258V269M1229.5 186V212M1229.5 256V261M1232.5 255V262M1233.5 258V259M1236.5 162V211M1240.5 209V212M1240.5 259V265M1245.5 255V261M1248.5 209V220M1248.5 245V256M1263.5 254V262M1264.5 258V268M1265.5 258V268M1266.5 258V269M1269.5 181V212M1275.5 189V210M1276.5 194V210M1278.5 208V214M1282.5 254V259M1284.5 203V213M1285.5 259V261M1291.5 257V257M1306.5 212V213M1309.5 257V260M1310.5 257V276M1314.5 190V209" stroke="#5d65e6" stroke-width="1" fill="none"/><path d="M535.5 257V290M541.5 256V262M549.5 208V213M552.5 207V211M555.5 202V210M555.5 258V265M559.5 195V213M561.5 256V266M564.5 257V289M577.5 259V262M605.5 254V277M609.5 204V210M616.5 254V256M622.5 255V283M627.5 209V212M627.5 255V259M628.5 201V212M628.5 255V272M633.5 199V207M634.5 256V257M643.5 206V207M643.5 257V264M645.5 253V260M648.5 210V211M653.5 204V213M654.5 204V211M659.5 181V210M664.5 207V210M673.5 198V210M673.5 259V264M678.5 256V259M680.5 206V214M688.5 205V222M714.5 200V213M725.5 249V269M727.5 259V266M732.5 258V282M733.5 254V282M742.5 256V266M745.5 256V276M761.5 258V267M763.5 257V262M764.5 254V262M767.5 257V264M770.5 191V208M777.5 256V263M782.5 255V269M787.5 207V210M789.5 193V208M789.5 254V267M790.5 193V207M793.5 209V210M794.5 209V212M808.5 201V207M810.5 177V211M811.5 257V263M812.5 210V211M824.5 257V266M829.5 203V207M829.5 255V276M836.5 254V258M838.5 210V212M838.5 254V260M842.5 256V258M843.5 209V211M843.5 256V258M849.5 256V263M850.5 258V263M852.5 257V274M854.5 253V254M859.5 257V278M868.5 254V266M879.5 255V276M880.5 259V276M891.5 256V263M893.5 256V283M895.5 211V212M895.5 254V276M896.5 255V276M898.5 259V263M906.5 254V261M925.5 254V266M930.5 254V283M931.5 258V283M933.5 255V264M938.5 257V263M944.5 255V264M947.5 201V209M947.5 254V255M949.5 198V209M951.5 254V266M961.5 255V271M962.5 257V271M965.5 205V212M971.5 254V287M977.5 209V212M979.5 198V212M984.5 259V277M986.5 255V256M989.5 198V211M991.5 203V214M995.5 200V213M1001.5 254V257M1004.5 203V209M1007.5 200V208M1010.5 199V213M1011.5 200V209M1017.5 200V211M1017.5 257V263M1019.5 193V210M1019.5 256V274M1022.5 258V259M1028.5 202V209M1028.5 254V260M1029.5 197V209M1029.5 258V260M1037.5 191V208M1038.5 191V208M1041.5 202V208M1041.5 255V264M1044.5 255V278M1049.5 259V261M1055.5 256V263M1066.5 255V260M1067.5 207V210M1088.5 190V213M1089.5 255V269M1091.5 188V211M1105.5 257V279M1106.5 200V212M1106.5 257V279M1109.5 200V212M1111.5 256V264M1116.5 206V211M1144.5 197V207M1158.5 208V211M1158.5 259V263M1159.5 254V266M1163.5 258V277M1175.5 259V259M1179.5 210V212M1179.5 257V280M1183.5 202V213M1193.5 195V213M1196.5 201V210M1196.5 256V268M1197.5 256V259M1198.5 258V293M1203.5 178V209M1204.5 178V208M1204.5 258V277M1208.5 212V212M1212.5 194V210M1216.5 198V211M1226.5 206V211M1227.5 203V213M1230.5 184V214M1234.5 256V261M1250.5 209V211M1255.5 258V274M1256.5 257V274M1258.5 254V263M1260.5 255V256M1262.5 209V212M1263.5 209V211M1263.5 255V262M1273.5 184V212M1284.5 257V262M1285.5 259V279M1288.5 253V254M1295.5 192V208M1295.5 255V275M1300.5 184V211M1302.5 201V210M1305.5 208V213M1305.5 255V260" stroke="#cc3355" stroke-width="1" fill="none"/><path d="M533.5 190V209M536.5 206V213M536.5 256V274M544.5 254V265M546.5 257V269M555.5 207V210M565.5 259V264M569.5 201V209M573.5 198V213M575.5 210V211M583.5 257V275M589.5 190V209M589.5 254V255M591.5 259V262M596.5 191V221M599.5 199V214M602.5 210V211M603.5 259V264M608.5 259V270M614.5 185V212M627.5 255V285M629.5 259V269M630.5 205V208M630.5 256V269M638.5 209V211M657.5 202V211M669.5 204V208M674.5 179V209M675.5 179V207M679.5 255V281M688.5 256V301M689.5 206V211M707.5 258V262M709.5 206V213M727.5 199V209M729.5 257V259M731.5 209V213M735.5 257V260M737.5 211V211M737.5 256V274M742.5 255V264M746.5 212V214M763.5 208V210M763.5 257V264M766.5 189V213M766.5 258V273M767.5 257V273M771.5 257V270M778.5 193V210M784.5 256V270M785.5 257V270M795.5 205V212M795.5 257V270M796.5 257V268M800.5 258V301M801.5 254V259M803.5 255V258M810.5 256V260M813.5 254V260M815.5 204V212M816.5 204V212M829.5 255V270M835.5 259V273M841.5 255V257M843.5 205V211M843.5 255V260M848.5 255V265M849.5 256V266M853.5 256V259M854.5 254V259M855.5 258V274M856.5 206V209M856.5 258V274M867.5 258V261M868.5 254V257M871.5 205V210M886.5 255V262M887.5 206V208M887.5 255V262M899.5 255V273M905.5 256V270M914.5 184V211M914.5 258V270M916.5 254V258M922.5 202V212M924.5 257V275M928.5 200V212M934.5 207V212M934.5 255V262M936.5 258V269M938.5 205V214M947.5 206V209M947.5 254V260M948.5 206V208M948.5 255V268M955.5 255V273M960.5 187V213M968.5 256V289M974.5 254V263M975.5 189V208M976.5 189V213M976.5 254V258M977.5 208V211M978.5 254V256M982.5 257V269M991.5 211V214M999.5 254V269M1000.5 259V267M1002.5 256V262M1005.5 255V258M1010.5 211V213M1012.5 212V213M1016.5 255V270M1017.5 256V270M1023.5 254V261M1024.5 195V211M1024.5 254V261M1030.5 254V265M1031.5 204V210M1031.5 256V269M1034.5 259V273M1042.5 202V208M1070.5 256V260M1078.5 197V209M1080.5 210V213M1094.5 203V213M1105.5 204V208M1106.5 257V263M1108.5 205V208M1108.5 254V263M1109.5 202V211M1110.5 202V209M1116.5 258V259M1119.5 255V270M1120.5 197V213M1122.5 253V268M1125.5 210V213M1133.5 205V212M1136.5 205V210M1136.5 258V261M1141.5 203V214M1142.5 257V261M1146.5 207V213M1149.5 254V274M1156.5 204V213M1159.5 255V259M1160.5 201V210M1160.5 256V264M1162.5 257V261M1166.5 202V207M1168.5 255V262M1171.5 208V212M1171.5 256V277M1172.5 258V277M1177.5 200V212M1177.5 256V260M1178.5 206V209M1179.5 210V213M1184.5 200V213M1184.5 255V270M1189.5 204V213M1192.5 196V213M1193.5 196V222M1194.5 203V211M1199.5 257V266M1207.5 183V212M1217.5 256V266M1220.5 209V213M1222.5 185V210M1223.5 185V208M1225.5 211V213M1236.5 209V211M1239.5 257V262M1249.5 206V213M1253.5 256V257M1257.5 210V212M1266.5 257V262M1268.5 258V263M1276.5 193V210M1282.5 206V208M1282.5 254V271M1284.5 256V258M1292.5 188V210M1293.5 211V212M1293.5 256V265M1297.5 198V211M1298.5 205V210M1305.5 212V213M1306.5 198V214M1308.5 192V209M1308.5 258V260M1310.5 258V268M1311.5 257V273M1313.5 202V210M1316.5 259V262" stroke="#6aa838" stroke-width="1" fill="none"/><path d="M534.5 189V210M541.5 256V256M545.5 184V211M553.5 257V271M555.5 194V211M558.5 206V211M560.5 209V213M562.5 256V257M564.5 256V258M570.5 257V284M574.5 204V213M574.5 255V263M576.5 208V212M579.5 256V277M584.5 254V276M586.5 257V260M587.5 199V208M587.5 257V260M588.5 202V210M593.5 208V213M593.5 257V263M596.5 196V212M596.5 253V278M597.5 196V214M597.5 254V267M599.5 198V213M600.5 198V210M600.5 254V260M602.5 255V287M603.5 259V287M605.5 195V213M605.5 254V261M618.5 203V208M621.5 205V211M624.5 256V269M625.5 199V208M642.5 258V270M644.5 207V212M644.5 256V294M649.5 187V208M653.5 204V213M657.5 256V273M660.5 258V262M661.5 256V265M668.5 258V285M682.5 209V212M685.5 208V212M685.5 259V261M690.5 255V257M691.5 182V210M693.5 195V213M703.5 191V210M703.5 257V267M704.5 208V213M704.5 254V267M707.5 258V271M710.5 195V207M712.5 255V257M713.5 255V257M714.5 207V212M715.5 208V213M718.5 255V289M720.5 211V212M720.5 254V269M725.5 180V210M725.5 259V276M726.5 257V276M727.5 203V209M727.5 259V270M731.5 255V258M743.5 255V265M745.5 202V212M746.5 202V213M746.5 255V266M747.5 256V275M748.5 254V275M749.5 203V211M749.5 255V286M752.5 196V209M761.5 207V208M763.5 205V209M765.5 255V275M766.5 259V269M767.5 257V260M772.5 208V209M772.5 254V276M775.5 255V266M781.5 209V213M783.5 203V210M786.5 176V209M797.5 194V207M797.5 254V280M799.5 258V269M800.5 259V269M801.5 254V258M804.5 194V212M806.5 208V213M806.5 258V262M807.5 254V280M814.5 203V213M819.5 258V272M827.5 172V211M836.5 203V211M836.5 254V257M837.5 204V213M838.5 254V261M842.5 257V282M849.5 255V260M853.5 256V262M861.5 191V210M861.5 257V284M865.5 255V266M868.5 196V212M868.5 254V265M870.5 203V211M870.5 255V260M874.5 194V208M874.5 256V271M875.5 174V212M876.5 200V207M880.5 259V279M890.5 254V287M891.5 202V212M892.5 258V265M903.5 209V211M903.5 256V273M907.5 255V259M923.5 258V287M925.5 194V207M927.5 205V207M928.5 207V211M928.5 255V256M931.5 258V270M932.5 258V260M939.5 204V211M941.5 254V281M948.5 256V279M960.5 201V213M960.5 256V288M962.5 206V207M964.5 256V278M968.5 206V211M968.5 256V263M972.5 198V214M972.5 255V262M990.5 255V258M991.5 256V258M994.5 208V211M997.5 189V213M998.5 189V208M1001.5 254V268M1002.5 256V268M1006.5 258V282M1008.5 256V260M1012.5 194V213M1017.5 191V211M1020.5 208V213M1020.5 257V265M1024.5 254V261M1026.5 256V259M1031.5 202V210M1040.5 187V208M1041.5 204V207M1041.5 256V265M1055.5 256V283M1056.5 254V265M1058.5 205V212M1059.5 255V264M1062.5 259V265M1071.5 195V213M1071.5 256V269M1072.5 206V212M1072.5 257V303M1078.5 258V260M1079.5 254V260M1081.5 195V210M1085.5 189V213M1097.5 257V269M1101.5 202V212M1101.5 257V297M1103.5 186V209M1105.5 257V259M1133.5 205V213M1133.5 254V289M1136.5 258V260M1147.5 199V210M1147.5 258V275M1150.5 190V208M1150.5 254V273M1151.5 254V273M1152.5 210V213M1152.5 255V262M1162.5 258V260M1163.5 201V209M1165.5 255V267M1167.5 204V208M1169.5 194V208M1169.5 256V259M1183.5 254V271M1184.5 255V271M1188.5 259V265M1191.5 256V269M1195.5 258V276M1199.5 189V210M1204.5 188V208M1204.5 258V271M1206.5 256V288M1209.5 257V286M1215.5 206V208M1215.5 256V275M1219.5 256V267M1220.5 194V213M1220.5 257V269M1227.5 259V264M1229.5 200V211M1229.5 256V264M1234.5 257V260M1238.5 199V209M1242.5 205V208M1242.5 258V267M1243.5 205V211M1243.5 255V294M1244.5 200V210M1245.5 256V287M1248.5 162V211M1248.5 254V259M1255.5 258V260M1256.5 207V208M1256.5 258V260M1259.5 181V214M1263.5 208V211M1280.5 259V282M1281.5 185V211M1283.5 257V274M1284.5 257V274M1286.5 210V211M1286.5 260V284M1290.5 193V212M1291.5 209V211M1291.5 256V282M1293.5 201V212M1294.5 257V262M1299.5 258V268M1301.5 257V271M1302.5 258V271M1305.5 256V260M1307.5 257V274M1308.5 258V274M1311.5 194V210" stroke="#a83cc8" stroke-width="1" fill="none"/><path d="M536.5 208V213M537.5 198V213M540.5 259V260M542.5 254V256M560.5 210V213M561.5 257V264M566.5 258V264M571.5 256V265M572.5 204V212M572.5 254V265M573.5 199V213M585.5 206V214M585.5 255V260M587.5 257V262M589.5 254V260M594.5 254V255M597.5 194V214M601.5 256V265M610.5 254V259M614.5 185V212M623.5 204V211M632.5 205V213M633.5 201V208M636.5 258V267M637.5 256V259M642.5 258V266M645.5 253V263M652.5 198V211M652.5 256V258M653.5 192V212M655.5 259V263M659.5 254V278M660.5 258V278M661.5 208V212M666.5 201V212M666.5 255V269M667.5 256V269M669.5 206V208M669.5 256V282M690.5 207V212M697.5 255V266M698.5 204V213M710.5 255V262M711.5 259V262M712.5 205V212M715.5 255V265M718.5 201V210M721.5 256V260M722.5 197V212M722.5 256V260M723.5 197V208M725.5 259V276M737.5 256V265M742.5 256V283M743.5 195V213M743.5 256V258M747.5 209V213M762.5 198V210M768.5 257V259M773.5 201V208M777.5 210V210M784.5 255V260M795.5 257V267M797.5 201V207M804.5 197V212M810.5 256V269M812.5 190V211M812.5 256V263M815.5 258V272M820.5 195V209M820.5 259V264M821.5 205V208M821.5 256V264M825.5 197V212M835.5 259V264M840.5 208V210M848.5 254V268M855.5 197V211M855.5 259V263M856.5 197V209M868.5 254V256M875.5 201V212M885.5 255V264M886.5 255V258M887.5 201V209M887.5 254V257M893.5 208V213M893.5 255V266M896.5 256V268M897.5 259V268M900.5 212V212M905.5 206V212M926.5 186V212M928.5 255V257M929.5 256V264M930.5 254V283M933.5 255V257M937.5 254V257M939.5 259V260M941.5 254V273M942.5 256V261M952.5 259V283M958.5 259V259M960.5 207V213M966.5 205V208M967.5 200V210M967.5 257V265M974.5 255V282M976.5 211V213M984.5 203V209M985.5 255V256M1008.5 256V261M1010.5 211V212M1010.5 255V258M1014.5 254V256M1033.5 259V263M1054.5 197V213M1055.5 255V262M1065.5 210V213M1072.5 257V259M1075.5 189V213M1075.5 258V268M1076.5 183V212M1084.5 258V279M1092.5 255V257M1101.5 207V211M1107.5 254V258M1109.5 210V212M1112.5 199V208M1121.5 258V264M1125.5 202V213M1125.5 254V271M1131.5 207V213M1131.5 258V262M1142.5 258V260M1150.5 203V208M1153.5 259V260M1155.5 199V210M1157.5 210V211M1161.5 257V260M1163.5 197V210M1169.5 199V208M1169.5 256V262M1174.5 256V266M1181.5 256V258M1183.5 209V213M1186.5 254V258M1191.5 256V274M1192.5 203V212M1193.5 210V213M1203.5 207V209M1203.5 259V269M1208.5 246V257M1209.5 206V208M1210.5 255V267M1214.5 211V213M1220.5 201V213M1222.5 257V259M1243.5 194V211M1248.5 255V258M1251.5 198V212M1259.5 259V272M1262.5 207V212M1266.5 198V209M1270.5 258V264M1276.5 256V258M1277.5 207V210M1283.5 209V209M1284.5 212V214M1284.5 256V263M1287.5 206V210M1289.5 203V209M1300.5 256V261M1304.5 188V208M1305.5 204V213M1305.5 255V264M1308.5 201V209" stroke="#2a9a72" stroke-width="1" fill="none"/><path d="M540.5 208V209M541.5 192V210M541.5 256V263M546.5 201V213M546.5 256V273M557.5 184V207M559.5 192V213M559.5 256V263M561.5 199V208M561.5 257V265M568.5 259V264M571.5 206V213M576.5 200V213M582.5 204V213M582.5 254V268M583.5 257V268M603.5 260V273M612.5 202V208M613.5 196V211M621.5 254V259M632.5 207V212M632.5 258V266M645.5 212V212M649.5 254V257M655.5 258V267M663.5 209V211M679.5 255V265M690.5 255V269M691.5 198V208M696.5 204V208M697.5 255V263M699.5 254V280M703.5 257V262M706.5 259V277M715.5 255V257M716.5 205V212M716.5 255V261M717.5 205V209M739.5 258V278M751.5 258V273M754.5 254V261M758.5 258V260M773.5 186V208M780.5 202V209M791.5 198V213M791.5 257V275M803.5 198V211M803.5 255V257M805.5 204V211M807.5 254V278M813.5 200V211M813.5 254V256M814.5 199V213M830.5 255V286M831.5 207V210M836.5 255V277M837.5 255V277M840.5 197V210M842.5 197V211M842.5 256V259M847.5 203V207M847.5 255V259M851.5 254V264M854.5 197V210M867.5 185V210M870.5 193V212M880.5 201V209M884.5 197V208M884.5 258V283M885.5 197V211M895.5 253V265M918.5 258V274M922.5 190V211M935.5 182V209M938.5 257V261M944.5 256V260M956.5 207V208M958.5 206V210M960.5 255V262M982.5 209V211M982.5 257V279M985.5 206V212M989.5 259V270M991.5 256V260M992.5 206V210M995.5 255V267M997.5 201V213M997.5 256V260M1008.5 207V212M1009.5 207V210M1011.5 258V260M1022.5 259V259M1025.5 255V261M1026.5 211V212M1026.5 257V261M1030.5 254V261M1031.5 256V265M1034.5 258V269M1035.5 259V274M1042.5 255V256M1047.5 259V260M1050.5 256V273M1053.5 203V210M1054.5 203V212M1060.5 254V257M1064.5 194V212M1071.5 204V212M1072.5 195V211M1075.5 210V212M1076.5 208V212M1077.5 212V213M1079.5 201V211M1080.5 211V213M1084.5 209V212M1087.5 206V213M1088.5 256V258M1093.5 256V264M1095.5 257V259M1104.5 209V210M1104.5 256V257M1107.5 207V207M1107.5 255V260M1110.5 259V262M1111.5 256V256M1120.5 207V212M1121.5 207V213M1125.5 254V255M1129.5 210V211M1131.5 259V264M1137.5 255V257M1142.5 258V260M1149.5 196V210M1152.5 254V258M1154.5 206V214M1154.5 256V291M1157.5 259V266M1161.5 257V272M1164.5 198V210M1164.5 255V263M1165.5 256V267M1167.5 192V208M1187.5 204V207M1189.5 201V213M1189.5 256V258M1197.5 202V209M1202.5 255V258M1205.5 185V208M1205.5 257V262M1206.5 198V209M1206.5 256V264M1229.5 206V212M1230.5 256V264M1237.5 193V213M1239.5 206V211M1242.5 258V261M1249.5 257V279M1256.5 197V207M1256.5 258V260M1257.5 258V261M1260.5 195V210M1260.5 255V268M1263.5 207V212M1263.5 254V278M1265.5 258V266M1267.5 258V261M1279.5 257V289M1289.5 207V208M1296.5 196V218M1296.5 246V270M1299.5 258V259M1303.5 258V287" stroke="#a8282e" stroke-width="1" fill="none"/><path d="M536.5 198V214M540.5 186V209M546.5 206V212M546.5 257V279M550.5 256V268M553.5 258V268M559.5 207V213M561.5 257V272M563.5 204V210M563.5 256V274M567.5 200V213M567.5 257V264M569.5 255V265M578.5 194V209M578.5 258V259M579.5 205V211M579.5 256V277M587.5 258V260M591.5 206V208M599.5 258V278M601.5 175V211M601.5 256V268M602.5 254V267M626.5 181V208M628.5 254V268M630.5 256V269M632.5 257V271M637.5 256V272M640.5 254V265M641.5 200V208M641.5 258V265M643.5 179V208M645.5 199V213M646.5 257V291M647.5 258V266M650.5 204V212M650.5 255V276M653.5 259V260M654.5 256V292M659.5 255V272M665.5 181V213M666.5 207V212M672.5 196V210M673.5 200V210M678.5 256V275M686.5 257V278M689.5 200V210M693.5 211V213M700.5 185V211M702.5 192V213M706.5 201V213M707.5 194V209M707.5 259V264M710.5 173V210M719.5 195V212M719.5 253V255M720.5 207V212M720.5 253V255M723.5 254V255M732.5 210V212M732.5 258V261M735.5 258V258M738.5 209V212M738.5 256V261M746.5 204V213M752.5 258V260M764.5 254V282M774.5 255V259M783.5 254V262M785.5 209V210M790.5 190V208M795.5 206V213M797.5 185V207M799.5 257V264M809.5 200V208M809.5 255V267M811.5 177V207M811.5 257V272M814.5 197V212M815.5 197V212M819.5 184V208M827.5 200V211M827.5 255V257M830.5 255V261M833.5 209V212M833.5 258V275M844.5 198V213M844.5 255V280M846.5 204V211M846.5 256V259M847.5 204V208M847.5 255V271M848.5 211V212M849.5 208V211M849.5 256V287M852.5 257V273M862.5 205V211M875.5 201V213M880.5 195V210M888.5 258V270M891.5 203V212M910.5 256V265M912.5 255V260M914.5 187V211M914.5 258V276M919.5 255V276M921.5 201V211M922.5 255V259M924.5 257V268M927.5 258V260M929.5 257V275M932.5 258V262M934.5 209V212M938.5 247V261M943.5 194V210M944.5 197V213M944.5 255V264M947.5 206V209M951.5 255V274M958.5 258V263M960.5 204V213M962.5 256V261M963.5 256V261M965.5 197V211M966.5 254V258M972.5 190V214M976.5 254V269M979.5 207V212M980.5 207V211M980.5 255V271M981.5 258V271M983.5 205V211M983.5 256V298M984.5 259V269M987.5 258V266M991.5 257V259M995.5 186V212M998.5 200V208M1000.5 194V207M1005.5 206V209M1005.5 255V258M1006.5 200V211M1008.5 255V267M1012.5 206V214M1015.5 257V286M1016.5 255V263M1019.5 193V210M1019.5 256V264M1022.5 199V209M1022.5 258V273M1024.5 187V210M1024.5 254V275M1025.5 212V213M1025.5 256V275M1027.5 205V210M1027.5 254V264M1032.5 182V208M1038.5 259V268M1046.5 190V213M1048.5 259V301M1049.5 209V213M1049.5 257V301M1054.5 210V213M1058.5 201V211M1058.5 258V260M1062.5 259V276M1068.5 254V260M1076.5 158V212M1076.5 255V261M1084.5 259V269M1090.5 211V212M1093.5 255V258M1094.5 207V214M1097.5 169V209M1097.5 256V261M1099.5 210V213M1099.5 254V298M1100.5 207V212M1100.5 254V270M1106.5 257V264M1113.5 195V212M1113.5 258V265M1117.5 203V209M1120.5 194V212M1122.5 209V213M1122.5 253V270M1128.5 199V214M1129.5 200V211M1130.5 200V208M1138.5 254V296M1139.5 254V259M1141.5 201V213M1141.5 255V262M1146.5 199V213M1146.5 256V261M1152.5 201V213M1152.5 255V269M1153.5 201V208M1154.5 213V214M1155.5 259V263M1156.5 211V212M1156.5 256V279M1160.5 183V209M1163.5 258V259M1165.5 199V211M1165.5 255V259M1166.5 254V257M1167.5 253V260M1168.5 201V212M1168.5 255V271M1169.5 256V275M1173.5 257V285M1175.5 202V213M1175.5 258V277M1181.5 256V283M1182.5 208V209M1183.5 254V271M1188.5 258V260M1200.5 192V208M1200.5 256V285M1211.5 207V211M1212.5 199V210M1217.5 256V269M1221.5 209V210M1222.5 206V211M1227.5 199V213M1227.5 259V284M1232.5 255V263M1266.5 189V210M1266.5 257V268M1268.5 185V208M1268.5 259V279M1292.5 258V265M1297.5 255V259M1306.5 174V214M1312.5 194V209M1313.5 204V209M1313.5 256V262" stroke="#7a34e0" stroke-width="1" fill="none"/><path d="M534.5 256V281M536.5 208V213M536.5 256V267M545.5 198V212M545.5 258V274M546.5 257V274M553.5 257V261M562.5 203V208M564.5 256V259M567.5 210V213M576.5 256V280M581.5 254V256M588.5 199V211M589.5 253V259M591.5 207V207M591.5 258V278M596.5 254V264M597.5 205V213M597.5 254V282M601.5 255V259M603.5 260V260M608.5 202V213M609.5 198V211M610.5 253V263M612.5 258V261M614.5 258V277M620.5 209V212M620.5 257V278M625.5 259V271M632.5 206V213M644.5 256V279M658.5 199V210M658.5 254V255M667.5 256V269M669.5 257V259M673.5 258V288M674.5 258V288M675.5 254V273M677.5 255V259M679.5 255V263M681.5 259V293M687.5 197V207M688.5 197V212M690.5 202V212M701.5 190V208M701.5 256V268M702.5 210V212M702.5 259V268M703.5 257V267M708.5 192V213M720.5 206V212M731.5 255V268M732.5 257V261M737.5 256V259M740.5 201V208M740.5 256V257M744.5 199V210M749.5 189V211M749.5 255V256M752.5 202V209M752.5 258V274M758.5 185V208M763.5 258V262M766.5 258V264M771.5 203V210M781.5 210V222M787.5 256V266M788.5 255V263M789.5 255V263M790.5 259V281M791.5 211V214M791.5 256V266M792.5 259V265M793.5 203V210M793.5 255V265M803.5 255V283M808.5 202V208M815.5 259V301M816.5 198V212M817.5 198V211M821.5 203V208M829.5 255V273M832.5 254V289M835.5 207V208M839.5 255V262M845.5 254V272M851.5 199V207M853.5 257V271M854.5 254V256M860.5 198V208M863.5 258V265M869.5 256V260M870.5 255V276M872.5 257V257M874.5 256V257M877.5 254V256M882.5 205V211M883.5 204V209M892.5 258V262M893.5 212V213M898.5 195V209M898.5 259V267M900.5 209V213M912.5 256V257M923.5 207V214M927.5 193V208M927.5 259V263M931.5 258V259M939.5 259V266M941.5 254V266M945.5 197V210M948.5 207V209M949.5 201V210M950.5 255V269M952.5 258V259M954.5 259V280M957.5 254V270M960.5 255V257M961.5 255V257M962.5 200V207M963.5 255V268M964.5 256V268M966.5 254V268M970.5 196V212M971.5 193V210M971.5 254V260M973.5 206V209M973.5 255V262M976.5 254V267M978.5 207V209M978.5 255V261M990.5 254V260M994.5 256V279M995.5 206V212M999.5 254V270M1009.5 256V265M1014.5 192V209M1034.5 258V277M1042.5 254V276M1047.5 259V265M1054.5 210V213M1057.5 256V273M1066.5 256V257M1073.5 209V209M1075.5 207V212M1075.5 259V261M1079.5 202V211M1085.5 194V213M1086.5 207V211M1086.5 255V267M1088.5 257V267M1090.5 187V212M1104.5 256V267M1105.5 257V267M1110.5 258V286M1118.5 257V259M1120.5 189V212M1120.5 258V261M1124.5 254V264M1130.5 259V270M1132.5 189V207M1132.5 259V264M1133.5 255V258M1135.5 207V208M1135.5 258V274M1142.5 203V212M1165.5 256V257M1168.5 254V269M1171.5 177V212M1172.5 206V211M1175.5 258V263M1177.5 204V213M1177.5 256V267M1180.5 197V208M1180.5 255V265M1181.5 191V212M1181.5 255V265M1183.5 255V269M1184.5 195V213M1184.5 255V267M1185.5 254V257M1190.5 258V264M1191.5 201V209M1191.5 256V260M1206.5 255V287M1208.5 197V213M1209.5 258V271M1210.5 255V271M1211.5 256V263M1213.5 258V267M1214.5 196V212M1214.5 258V267M1215.5 206V209M1217.5 178V213M1217.5 257V261M1226.5 201V211M1234.5 199V208M1247.5 255V267M1259.5 206V213M1261.5 254V259M1262.5 258V259M1278.5 205V214M1282.5 254V290M1285.5 197V210M1290.5 196V211M1305.5 203V214M1311.5 257V278M1314.5 254V277" stroke="#2a90d8" stroke-width="1" fill="none"/><path d="M532.5 205V211M534.5 201V210M535.5 211V213M543.5 255V264M547.5 255V268M549.5 204V213M550.5 204V209M550.5 256V265M551.5 257V272M556.5 201V209M564.5 256V257M569.5 198V208M570.5 198V211M570.5 257V260M576.5 190V213M576.5 256V263M586.5 193V211M599.5 259V262M602.5 255V261M603.5 259V263M604.5 256V263M606.5 255V256M609.5 254V280M612.5 201V208M616.5 198V211M616.5 255V278M620.5 204V212M620.5 256V258M621.5 253V258M627.5 211V212M627.5 255V257M631.5 258V263M637.5 204V208M637.5 256V262M639.5 255V269M643.5 206V208M648.5 259V264M652.5 210V212M653.5 210V213M663.5 256V259M665.5 202V212M669.5 256V259M674.5 190V210M678.5 256V260M688.5 208V212M697.5 256V273M715.5 255V267M718.5 202V210M721.5 191V209M725.5 258V282M728.5 200V211M729.5 200V209M737.5 256V257M758.5 207V209M759.5 204V213M771.5 257V268M780.5 254V255M783.5 199V210M783.5 254V256M784.5 255V258M785.5 205V209M785.5 258V263M793.5 210V211M793.5 255V279M795.5 198V212M803.5 255V256M804.5 188V212M804.5 256V263M805.5 258V263M808.5 258V260M812.5 182V211M834.5 204V210M834.5 255V262M851.5 254V258M852.5 258V258M857.5 255V261M863.5 206V213M863.5 258V263M866.5 255V257M868.5 211V213M870.5 254V259M871.5 253V258M875.5 204V212M875.5 255V259M881.5 207V212M894.5 259V265M898.5 203V209M899.5 200V207M901.5 195V209M905.5 204V212M906.5 204V208M906.5 254V264M908.5 197V212M908.5 258V262M914.5 208V211M927.5 259V260M934.5 195V212M942.5 256V261M943.5 256V266M949.5 205V210M954.5 259V275M961.5 197V212M974.5 254V256M976.5 203V213M980.5 204V211M980.5 255V268M981.5 259V268M1000.5 259V264M1012.5 200V214M1013.5 200V209M1013.5 253V261M1022.5 203V209M1022.5 257V262M1023.5 255V271M1035.5 259V263M1047.5 259V261M1065.5 254V259M1067.5 194V210M1067.5 259V266M1068.5 255V276M1072.5 257V271M1082.5 256V257M1086.5 210V211M1100.5 205V212M1102.5 259V266M1119.5 255V263M1122.5 211V213M1125.5 211V213M1128.5 207V213M1128.5 256V270M1134.5 196V213M1134.5 254V256M1137.5 255V274M1142.5 205V212M1144.5 194V208M1153.5 208V209M1157.5 259V266M1162.5 211V213M1162.5 258V261M1167.5 254V263M1172.5 258V281M1182.5 194V210M1182.5 258V270M1184.5 255V276M1196.5 174V209M1196.5 256V273M1198.5 257V273M1209.5 205V208M1211.5 202V211M1212.5 202V209M1212.5 256V267M1220.5 202V213M1233.5 257V269M1234.5 207V217M1240.5 207V211M1242.5 206V208M1242.5 258V265M1250.5 255V261M1253.5 256V256M1256.5 206V208M1258.5 208V210M1258.5 253V264M1261.5 208V212M1271.5 209V210M1273.5 254V268M1274.5 254V259M1291.5 203V211M1295.5 198V209M1295.5 255V270M1296.5 198V208M1305.5 255V268M1306.5 255V255M1309.5 257V258M1311.5 202V209M1312.5 198V209" stroke="#1b0a60" stroke-width="1" fill="none"/><path d="M538.5 258V262M542.5 253V262M553.5 257V274M559.5 205V212M559.5 256V259M561.5 203V209M566.5 199V211M566.5 257V272M572.5 254V259M576.5 256V268M583.5 204V212M585.5 210V214M602.5 255V264M621.5 254V276M623.5 203V212M627.5 195V212M634.5 256V283M636.5 199V211M636.5 258V262M643.5 257V267M650.5 200V212M651.5 200V212M659.5 208V211M665.5 205V213M670.5 206V210M674.5 258V262M675.5 204V208M675.5 255V262M678.5 192V213M679.5 202V213M679.5 255V256M685.5 259V266M693.5 256V285M694.5 256V285M699.5 255V267M700.5 193V211M701.5 193V209M701.5 255V268M702.5 259V268M714.5 201V213M714.5 254V256M716.5 208V211M720.5 204V211M720.5 254V256M729.5 179V209M731.5 212V214M731.5 254V272M732.5 211V213M736.5 254V267M739.5 259V267M743.5 200V213M743.5 256V261M747.5 256V264M753.5 255V268M763.5 257V265M766.5 178V212M776.5 259V267M779.5 195V209M779.5 257V265M782.5 256V275M786.5 255V267M792.5 192V208M800.5 193V211M801.5 193V210M801.5 254V259M804.5 211V213M804.5 255V261M818.5 207V211M821.5 256V258M826.5 254V261M836.5 200V211M839.5 203V212M843.5 255V270M866.5 207V213M866.5 255V263M867.5 258V262M868.5 187V212M872.5 211V212M877.5 254V273M881.5 200V212M881.5 254V261M884.5 257V259M886.5 198V208M889.5 258V261M900.5 205V213M900.5 258V271M902.5 190V210M905.5 256V268M909.5 207V208M914.5 207V210M919.5 201V211M923.5 201V213M941.5 210V211M941.5 254V257M945.5 200V210M945.5 257V261M957.5 254V260M966.5 254V274M973.5 194V209M974.5 210V211M981.5 203V212M981.5 259V262M986.5 191V208M987.5 191V213M993.5 200V213M995.5 209V213M1001.5 253V268M1007.5 197V208M1007.5 255V255M1013.5 253V261M1020.5 202V213M1020.5 258V263M1025.5 210V213M1025.5 255V260M1026.5 256V260M1043.5 259V263M1047.5 200V213M1050.5 257V263M1053.5 258V264M1055.5 256V259M1057.5 203V208M1057.5 256V276M1060.5 198V209M1060.5 254V293M1065.5 213V213M1065.5 255V256M1066.5 200V209M1067.5 259V260M1075.5 259V271M1091.5 194V210M1092.5 255V265M1096.5 259V260M1097.5 193V209M1098.5 256V264M1103.5 203V209M1107.5 254V263M1108.5 254V255M1111.5 255V277M1114.5 257V271M1120.5 210V212M1120.5 257V258M1127.5 257V265M1131.5 204V212M1133.5 202V212M1137.5 208V210M1140.5 256V262M1141.5 255V264M1146.5 256V265M1149.5 255V269M1151.5 254V260M1158.5 205V212M1159.5 211V212M1164.5 182V210M1165.5 207V212M1165.5 255V278M1170.5 206V211M1174.5 199V211M1203.5 259V268M1207.5 210V212M1207.5 256V264M1210.5 255V292M1213.5 205V210M1217.5 211V214M1219.5 256V262M1224.5 209V211M1225.5 209V212M1227.5 199V213M1232.5 255V262M1233.5 258V262M1255.5 259V277M1258.5 253V268M1259.5 209V214M1259.5 259V285M1262.5 198V211M1274.5 193V210M1274.5 254V278M1275.5 193V211M1282.5 177V207M1282.5 254V271M1289.5 257V264M1292.5 257V279M1294.5 256V262M1296.5 202V208M1296.5 256V262M1300.5 256V264M1301.5 204V212M1301.5 257V274M1303.5 257V264M1310.5 257V261" stroke="#d8501e" stroke-width="1" fill="none"/><path d="M532.5 201V212M532.5 254V262M537.5 195V213M539.5 203V213M543.5 255V267M544.5 254V262M547.5 195V209M547.5 256V287M550.5 203V209M559.5 257V264M561.5 257V264M563.5 257V270M567.5 203V213M572.5 254V262M574.5 256V271M579.5 172V212M585.5 256V270M593.5 196V213M606.5 255V267M610.5 208V210M610.5 253V257M611.5 198V211M612.5 198V207M618.5 189V208M618.5 258V260M625.5 207V208M625.5 259V274M626.5 197V207M626.5 256V257M629.5 208V209M634.5 204V209M645.5 253V285M646.5 193V207M653.5 259V261M658.5 193V210M660.5 258V263M661.5 204V213M665.5 200V213M671.5 209V210M671.5 258V268M673.5 200V211M673.5 258V260M680.5 257V261M682.5 203V212M682.5 258V273M701.5 204V208M702.5 204V213M702.5 259V275M705.5 256V267M710.5 204V211M710.5 255V258M714.5 205V213M731.5 254V264M732.5 257V264M734.5 209V213M744.5 257V281M745.5 206V212M748.5 254V267M753.5 255V258M757.5 257V267M758.5 258V267M766.5 211V213M766.5 258V297M770.5 192V209M774.5 254V260M779.5 198V208M782.5 255V270M783.5 254V270M810.5 188V211M812.5 257V264M821.5 256V270M823.5 256V268M825.5 254V277M828.5 202V221M833.5 258V261M838.5 253V257M840.5 187V210M840.5 258V261M841.5 204V209M841.5 256V261M842.5 204V211M842.5 256V262M852.5 211V213M852.5 257V274M857.5 176V207M859.5 257V274M861.5 258V269M863.5 258V266M864.5 258V262M875.5 211V212M882.5 256V282M889.5 195V212M891.5 256V265M899.5 255V262M905.5 255V272M906.5 206V207M906.5 255V272M910.5 197V214M915.5 254V258M916.5 200V214M924.5 257V291M934.5 255V262M937.5 254V255M939.5 259V262M949.5 255V267M963.5 195V208M963.5 256V286M969.5 255V269M978.5 198V210M978.5 254V255M979.5 195V213M979.5 257V265M980.5 255V265M985.5 254V293M989.5 202V211M990.5 254V264M1017.5 209V210M1018.5 201V210M1022.5 257V268M1030.5 254V274M1032.5 254V268M1034.5 208V218M1039.5 255V258M1046.5 255V260M1049.5 258V259M1059.5 254V259M1060.5 182V209M1068.5 255V257M1084.5 188V212M1084.5 259V269M1091.5 195V211M1091.5 257V269M1093.5 256V268M1094.5 197V213M1094.5 258V269M1097.5 256V262M1099.5 254V267M1107.5 180V207M1110.5 259V267M1111.5 205V209M1114.5 257V277M1116.5 258V282M1122.5 190V213M1122.5 253V256M1125.5 254V263M1126.5 193V209M1126.5 257V263M1127.5 193V209M1127.5 257V267M1128.5 203V213M1131.5 199V213M1133.5 197V213M1133.5 255V266M1137.5 255V262M1143.5 255V260M1147.5 258V274M1157.5 259V259M1158.5 259V269M1159.5 254V269M1163.5 174V209M1164.5 208V210M1167.5 206V208M1167.5 253V259M1168.5 209V212M1168.5 255V263M1170.5 258V264M1179.5 256V266M1183.5 254V264M1191.5 257V261M1194.5 253V255M1195.5 208V211M1198.5 257V265M1200.5 256V261M1211.5 186V211M1224.5 204V211M1234.5 202V207M1241.5 209V211M1241.5 257V284M1242.5 258V284M1249.5 257V258M1258.5 202V209M1259.5 191V213M1259.5 259V260M1260.5 191V209M1260.5 255V257M1270.5 258V270M1275.5 255V274M1280.5 259V269M1283.5 197V210M1285.5 259V264M1286.5 203V211M1290.5 195V211M1293.5 256V257M1300.5 201V211M1314.5 255V264" stroke="#1b0a60" stroke-width="1" fill="none"/><path d="M543.5 255V276M544.5 212V213M544.5 254V276M547.5 196V219M574.5 212V213M583.5 203V212M593.5 257V258M596.5 205V211M596.5 254V276M602.5 254V272M604.5 197V211M604.5 256V264M609.5 254V264M610.5 254V260M616.5 196V211M617.5 201V208M617.5 259V268M619.5 258V271M622.5 194V213M622.5 255V257M625.5 259V275M628.5 255V265M630.5 201V209M635.5 200V213M639.5 202V209M639.5 255V275M650.5 255V263M652.5 183V211M652.5 256V260M655.5 258V278M657.5 256V271M659.5 255V259M665.5 212V213M669.5 256V276M676.5 209V210M683.5 201V210M683.5 254V268M686.5 199V211M690.5 209V213M699.5 254V267M704.5 253V259M706.5 202V213M708.5 192V213M711.5 205V210M717.5 255V272M721.5 201V209M721.5 256V277M727.5 182V209M733.5 254V261M734.5 212V213M734.5 258V261M739.5 203V212M751.5 189V209M756.5 198V213M767.5 257V278M768.5 257V271M772.5 204V209M774.5 255V265M780.5 205V209M786.5 255V269M799.5 257V265M806.5 211V214M810.5 195V211M815.5 259V260M821.5 257V263M822.5 254V289M826.5 255V259M827.5 256V259M835.5 259V264M836.5 254V264M837.5 204V212M837.5 254V255M838.5 254V269M846.5 204V210M858.5 254V267M864.5 211V212M865.5 255V264M872.5 202V211M872.5 257V285M885.5 255V258M892.5 259V263M899.5 256V271M903.5 208V211M904.5 208V212M912.5 256V259M913.5 207V208M914.5 207V211M917.5 199V208M917.5 254V281M922.5 255V262M924.5 257V263M926.5 256V272M930.5 254V279M933.5 255V264M934.5 256V264M943.5 256V270M948.5 255V257M955.5 190V210M955.5 255V270M962.5 257V260M963.5 255V260M970.5 204V212M972.5 212V214M976.5 254V256M997.5 209V213M999.5 254V290M1004.5 201V209M1004.5 254V257M1006.5 258V262M1007.5 255V262M1009.5 197V210M1011.5 258V272M1037.5 200V208M1044.5 255V258M1055.5 201V210M1063.5 257V262M1064.5 253V261M1065.5 200V213M1066.5 200V210M1071.5 209V212M1075.5 259V281M1081.5 246V257M1082.5 256V269M1086.5 209V211M1086.5 255V258M1087.5 197V213M1092.5 254V256M1101.5 205V211M1102.5 195V209M1102.5 258V287M1107.5 255V257M1126.5 207V209M1126.5 257V272M1127.5 257V272M1133.5 211V213M1133.5 255V281M1135.5 258V267M1141.5 204V213M1143.5 209V211M1143.5 256V273M1152.5 202V213M1159.5 255V258M1164.5 194V209M1181.5 209V213M1181.5 255V277M1186.5 254V263M1193.5 212V213M1200.5 255V262M1201.5 257V260M1202.5 255V260M1210.5 255V257M1211.5 203V211M1212.5 203V210M1214.5 206V213M1215.5 256V260M1220.5 257V260M1224.5 205V210M1226.5 258V259M1231.5 257V277M1246.5 198V208M1248.5 254V293M1250.5 208V212M1255.5 202V213M1257.5 211V213M1258.5 206V209M1259.5 186V214M1262.5 258V262M1266.5 258V264M1267.5 203V209M1267.5 259V264M1268.5 201V208M1290.5 258V270M1294.5 257V270M1299.5 200V209M1299.5 258V262M1312.5 255V284" stroke="#d8502e" stroke-width="1" fill="none"/><path d="M547.5 198V209M549.5 205V214M550.5 205V209M561.5 206V208M570.5 257V266M571.5 256V266M572.5 185V213M572.5 254V261M576.5 212V214M578.5 259V261M583.5 256V262M586.5 256V259M591.5 189V208M592.5 209V211M598.5 255V261M599.5 204V214M605.5 212V213M609.5 255V258M614.5 207V213M614.5 258V270M616.5 255V273M618.5 207V208M619.5 199V208M619.5 258V270M620.5 257V270M621.5 254V259M625.5 259V275M630.5 256V260M636.5 202V211M639.5 192V209M650.5 255V256M655.5 202V210M656.5 202V211M668.5 258V258M671.5 257V264M672.5 256V264M675.5 203V208M679.5 255V267M680.5 257V267M686.5 257V261M690.5 256V263M695.5 259V274M704.5 203V212M707.5 208V210M711.5 259V259M717.5 207V208M719.5 207V211M721.5 197V208M724.5 257V269M725.5 194V210M728.5 258V265M731.5 206V213M731.5 255V267M747.5 256V257M748.5 254V258M751.5 257V264M760.5 202V211M764.5 253V262M766.5 258V272M774.5 256V281M775.5 204V209M775.5 255V263M776.5 204V208M780.5 254V255M784.5 255V268M793.5 209V210M801.5 203V210M805.5 198V211M822.5 202V209M822.5 254V257M825.5 254V262M828.5 258V275M832.5 209V213M833.5 187V213M833.5 258V266M844.5 212V213M846.5 257V276M849.5 256V261M858.5 254V277M865.5 205V210M866.5 255V283M877.5 253V263M887.5 205V208M888.5 257V279M889.5 259V265M890.5 254V265M892.5 203V210M896.5 255V268M908.5 259V268M910.5 200V213M914.5 205V210M915.5 192V208M915.5 254V258M920.5 202V207M920.5 257V267M926.5 257V267M932.5 206V208M937.5 202V211M940.5 260V264M945.5 206V209M945.5 258V259M946.5 207V209M946.5 258V262M953.5 199V210M962.5 195V207M962.5 257V266M967.5 256V260M969.5 255V268M971.5 254V264M973.5 201V209M974.5 255V275M978.5 254V256M980.5 206V211M985.5 254V268M998.5 206V208M1004.5 200V208M1005.5 200V209M1005.5 255V257M1007.5 254V280M1010.5 211V213M1010.5 255V261M1037.5 254V255M1044.5 255V267M1055.5 256V270M1060.5 205V209M1060.5 253V279M1061.5 201V208M1069.5 208V210M1069.5 253V266M1074.5 208V210M1083.5 257V262M1086.5 187V211M1086.5 255V277M1090.5 195V213M1091.5 257V272M1095.5 258V274M1096.5 258V274M1097.5 205V209M1097.5 256V257M1100.5 254V257M1109.5 254V282M1115.5 259V276M1117.5 259V268M1129.5 258V262M1130.5 258V262M1137.5 195V210M1145.5 257V268M1146.5 206V213M1146.5 256V268M1148.5 209V211M1150.5 206V208M1151.5 254V270M1152.5 205V214M1163.5 200V209M1164.5 200V209M1166.5 254V257M1170.5 207V211M1177.5 188V213M1179.5 256V257M1181.5 205V213M1185.5 207V210M1185.5 254V263M1188.5 259V263M1192.5 208V213M1199.5 257V277M1200.5 192V208M1200.5 256V277M1202.5 206V211M1209.5 257V263M1215.5 191V209M1215.5 255V269M1219.5 180V207M1219.5 257V261M1229.5 255V269M1264.5 258V276M1265.5 258V274M1266.5 258V285M1267.5 199V209M1269.5 200V212M1269.5 257V260M1270.5 208V211M1270.5 257V260M1273.5 192V212M1277.5 259V267M1299.5 197V209M1299.5 258V271M1314.5 197V208M1315.5 253V263" stroke="#1e6b3a" stroke-width="1" fill="none"/><path d="M532.5 255V258M533.5 207V209M536.5 197V213M536.5 256V297M544.5 254V286M547.5 203V209M548.5 253V284M551.5 198V212M551.5 257V264M553.5 258V259M555.5 200V211M555.5 258V268M564.5 184V210M564.5 256V275M565.5 259V275M569.5 204V209M571.5 257V260M573.5 200V214M573.5 257V266M575.5 191V211M585.5 256V257M589.5 254V282M593.5 258V258M595.5 255V259M597.5 255V261M602.5 254V274M611.5 207V210M613.5 204V212M614.5 203V213M616.5 208V211M616.5 255V277M618.5 190V208M618.5 258V278M622.5 200V213M630.5 189V209M631.5 257V266M635.5 201V213M636.5 176V211M642.5 198V213M642.5 258V260M646.5 257V280M648.5 210V210M650.5 255V262M652.5 203V212M652.5 255V262M660.5 258V263M661.5 256V281M662.5 256V281M663.5 257V263M667.5 257V266M668.5 258V272M669.5 256V277M670.5 206V210M673.5 178V211M682.5 185V213M683.5 185V209M683.5 255V263M687.5 258V268M695.5 210V214M700.5 192V211M700.5 258V274M702.5 197V213M711.5 203V210M713.5 189V220M713.5 245V274M726.5 192V211M726.5 256V259M729.5 257V273M733.5 205V211M734.5 205V213M737.5 203V212M738.5 203V213M738.5 256V262M739.5 196V211M739.5 259V262M744.5 193V210M744.5 257V286M750.5 256V270M760.5 259V274M772.5 254V283M775.5 255V263M776.5 259V263M780.5 253V263M792.5 258V276M810.5 175V211M811.5 175V207M813.5 208V212M813.5 254V281M814.5 258V266M817.5 255V257M819.5 259V272M824.5 257V261M826.5 255V263M827.5 207V211M829.5 255V262M833.5 259V290M834.5 255V256M836.5 199V210M839.5 188V212M852.5 207V213M852.5 258V261M856.5 258V274M860.5 189V208M867.5 184V210M867.5 257V279M869.5 186V210M876.5 257V260M878.5 176V210M879.5 191V211M879.5 255V258M899.5 255V265M914.5 258V274M915.5 254V274M920.5 258V260M921.5 211V212M924.5 200V207M925.5 200V208M928.5 195V211M936.5 258V263M943.5 256V269M944.5 180V212M944.5 255V262M947.5 254V269M953.5 255V275M957.5 198V207M960.5 178V213M960.5 256V278M963.5 207V208M965.5 258V270M968.5 255V257M969.5 210V212M969.5 255V257M974.5 204V212M974.5 255V263M976.5 209V213M976.5 254V270M982.5 209V211M982.5 257V274M983.5 256V266M984.5 259V271M991.5 211V213M991.5 257V275M995.5 255V265M1014.5 254V278M1019.5 196V220M1020.5 196V213M1024.5 207V210M1025.5 207V213M1026.5 256V283M1027.5 197V211M1028.5 197V209M1032.5 254V274M1044.5 209V212M1048.5 178V210M1049.5 178V212M1049.5 258V264M1051.5 196V209M1051.5 256V267M1054.5 197V213M1056.5 256V257M1061.5 199V208M1061.5 256V260M1062.5 201V209M1084.5 177V211M1085.5 177V213M1085.5 257V262M1092.5 196V218M1094.5 259V264M1098.5 207V209M1098.5 256V274M1099.5 254V274M1114.5 197V209M1116.5 258V259M1125.5 253V272M1127.5 206V209M1140.5 255V290M1142.5 257V262M1146.5 255V277M1148.5 208V212M1154.5 211V214M1154.5 256V260M1156.5 256V287M1161.5 257V259M1166.5 206V208M1169.5 195V207M1170.5 259V266M1173.5 257V281M1175.5 204V213M1178.5 197V209M1179.5 198V212M1183.5 194V212M1185.5 206V211M1185.5 254V261M1191.5 256V257M1192.5 208V212M1202.5 209V211M1202.5 255V277M1203.5 259V263M1208.5 210V212M1208.5 256V270M1213.5 259V269M1214.5 200V212M1214.5 257V269M1219.5 256V260M1223.5 257V270M1225.5 206V212M1225.5 258V267M1226.5 257V264M1236.5 203V211M1238.5 257V271M1240.5 192V213M1242.5 203V209M1248.5 255V260M1250.5 256V277M1257.5 185V213M1260.5 255V262M1271.5 206V210M1274.5 254V265M1283.5 207V209M1288.5 254V284M1301.5 208V211M1301.5 257V266M1312.5 199V209M1312.5 255V268M1315.5 253V268" stroke="#e0992e" stroke-width="1" fill="none"/><path d="M533.5 198V209M537.5 199V214M537.5 254V292M538.5 207V211M538.5 258V263M542.5 254V260M543.5 255V267M551.5 200V211M552.5 200V211M562.5 256V259M571.5 184V213M575.5 204V211M575.5 259V272M576.5 178V214M577.5 202V210M578.5 258V282M579.5 255V279M582.5 255V303M585.5 194V214M587.5 257V272M590.5 258V267M591.5 206V208M591.5 258V267M592.5 206V211M593.5 257V284M600.5 199V210M613.5 181V212M626.5 256V284M630.5 190V208M632.5 209V213M634.5 256V261M637.5 204V207M644.5 203V211M652.5 186V212M656.5 203V211M658.5 208V210M658.5 253V268M670.5 257V258M673.5 189V210M676.5 259V263M686.5 200V210M687.5 200V208M687.5 258V263M690.5 256V263M692.5 256V264M695.5 259V261M696.5 258V261M701.5 256V258M705.5 255V258M706.5 200V213M712.5 198V212M713.5 254V260M714.5 195V213M715.5 254V279M729.5 201V209M732.5 194V213M732.5 258V267M736.5 255V265M743.5 256V265M749.5 205V212M749.5 254V263M752.5 195V209M754.5 207V208M754.5 254V263M765.5 255V267M768.5 194V210M770.5 257V262M771.5 256V293M773.5 203V208M773.5 255V260M788.5 254V293M789.5 255V293M790.5 189V208M813.5 209V211M817.5 208V211M827.5 255V259M829.5 183V208M836.5 196V210M844.5 256V288M848.5 200V212M849.5 207V211M849.5 256V272M850.5 259V272M857.5 254V260M863.5 258V284M864.5 258V271M868.5 179V212M872.5 208V212M875.5 205V212M880.5 200V209M880.5 259V274M881.5 206V222M881.5 244V266M882.5 256V259M885.5 255V257M887.5 202V209M887.5 255V257M893.5 255V259M894.5 198V212M910.5 200V213M912.5 196V212M919.5 178V211M919.5 255V258M924.5 191V208M926.5 256V275M933.5 190V210M933.5 255V266M937.5 253V258M940.5 200V207M943.5 198V209M943.5 256V258M944.5 202V212M944.5 256V276M947.5 205V210M947.5 254V259M949.5 209V210M949.5 256V270M951.5 255V295M962.5 200V208M972.5 256V267M978.5 202V210M1004.5 189V208M1007.5 178V208M1009.5 207V210M1011.5 259V265M1013.5 254V266M1021.5 210V210M1023.5 181V211M1023.5 254V265M1035.5 259V261M1042.5 254V266M1043.5 207V210M1044.5 254V256M1047.5 191V212M1049.5 199V213M1050.5 199V213M1064.5 253V280M1068.5 187V212M1080.5 198V213M1083.5 190V207M1083.5 258V265M1086.5 208V211M1089.5 254V262M1090.5 257V273M1091.5 257V270M1096.5 209V213M1099.5 191V212M1103.5 207V209M1103.5 255V263M1104.5 256V283M1116.5 259V261M1117.5 201V209M1122.5 254V261M1130.5 259V266M1135.5 258V262M1144.5 203V208M1144.5 256V267M1145.5 257V258M1149.5 255V271M1155.5 257V259M1162.5 212V213M1164.5 256V257M1166.5 254V280M1173.5 257V260M1176.5 257V259M1177.5 256V289M1182.5 258V264M1184.5 196V211M1185.5 203V211M1190.5 258V272M1194.5 206V212M1196.5 201V210M1197.5 201V210M1197.5 256V267M1199.5 193V211M1199.5 257V263M1200.5 255V261M1201.5 257V277M1204.5 206V209M1210.5 207V210M1214.5 257V263M1220.5 194V213M1221.5 205V210M1224.5 259V276M1225.5 258V262M1226.5 203V211M1238.5 207V208M1238.5 257V267M1246.5 198V208M1249.5 199V214M1250.5 192V212M1250.5 255V294M1279.5 257V262M1286.5 209V211M1287.5 209V210M1288.5 253V265M1296.5 201V209M1298.5 201V210M1298.5 259V261M1299.5 199V209M1300.5 255V258M1301.5 257V267M1302.5 257V267M1303.5 180V213M1307.5 257V276M1315.5 254V265" stroke="#6b30d0" stroke-width="1" fill="none"/><path d="M532.5 254V271M534.5 205V211M534.5 255V274M542.5 253V258M544.5 205V213M544.5 254V270M548.5 209V210M551.5 199V211M565.5 259V280M567.5 210V213M567.5 258V264M572.5 255V278M587.5 258V260M588.5 257V260M589.5 254V270M592.5 256V274M595.5 181V212M595.5 255V264M596.5 253V259M616.5 254V260M619.5 206V208M621.5 254V262M630.5 256V265M631.5 258V262M635.5 211V213M644.5 204V212M645.5 254V262M646.5 202V208M646.5 257V262M648.5 258V278M651.5 206V212M668.5 258V265M674.5 258V269M678.5 199V213M680.5 212V213M681.5 176V209M682.5 176V212M693.5 255V259M694.5 207V209M701.5 255V264M703.5 204V210M711.5 207V210M711.5 258V266M713.5 201V210M718.5 254V258M722.5 256V265M727.5 200V210M728.5 200V212M736.5 185V211M738.5 204V213M739.5 204V212M739.5 259V262M748.5 253V260M749.5 201V212M750.5 257V267M753.5 204V211M753.5 255V267M777.5 206V210M783.5 202V210M784.5 255V259M785.5 257V265M794.5 198V213M799.5 198V208M804.5 186V213M815.5 259V266M831.5 201V210M834.5 254V272M838.5 254V257M842.5 256V281M844.5 202V213M851.5 244V287M857.5 195V207M860.5 258V264M862.5 206V211M870.5 255V262M876.5 257V277M881.5 254V273M883.5 199V209M885.5 207V210M888.5 185V213M888.5 257V281M894.5 201V212M903.5 210V211M924.5 203V207M924.5 258V261M933.5 188V210M936.5 257V269M943.5 256V273M947.5 254V262M952.5 258V262M957.5 206V207M957.5 254V266M958.5 258V266M962.5 187V207M968.5 201V212M977.5 195V211M982.5 257V258M983.5 178V211M986.5 199V209M988.5 200V211M993.5 257V265M1012.5 211V214M1014.5 255V255M1017.5 210V211M1031.5 256V266M1051.5 255V268M1052.5 257V259M1056.5 255V259M1059.5 254V266M1065.5 254V278M1067.5 196V210M1070.5 256V257M1073.5 255V300M1080.5 257V263M1081.5 255V284M1085.5 200V213M1085.5 257V264M1086.5 255V264M1088.5 257V262M1089.5 254V255M1091.5 257V266M1105.5 257V262M1106.5 205V212M1110.5 202V208M1113.5 198V212M1113.5 258V266M1121.5 212V213M1130.5 259V266M1137.5 204V210M1137.5 255V258M1138.5 202V212M1138.5 255V260M1142.5 207V211M1146.5 198V213M1147.5 200V211M1151.5 255V256M1152.5 255V262M1159.5 202V212M1162.5 177V213M1164.5 190V209M1164.5 256V261M1165.5 256V271M1170.5 259V281M1173.5 192V209M1180.5 255V272M1194.5 209V211M1194.5 253V257M1197.5 207V210M1197.5 256V287M1206.5 257V261M1215.5 256V265M1219.5 256V267M1234.5 192V208M1234.5 256V278M1237.5 200V213M1237.5 258V272M1242.5 258V263M1254.5 258V276M1255.5 258V276M1258.5 254V257M1262.5 258V260M1268.5 258V260M1270.5 184V210M1274.5 203V210M1274.5 254V278M1279.5 197V211M1285.5 194V209M1293.5 205V212M1301.5 209V212M1305.5 189V214M1309.5 256V258M1311.5 257V271M1312.5 254V271" stroke="#1f7aa0" stroke-width="1" fill="none"/><path d="M538.5 208V211M538.5 258V259M539.5 208V213M539.5 254V260M540.5 259V260M548.5 197V210M551.5 257V262M559.5 207V212M559.5 257V257M565.5 259V264M566.5 209V211M569.5 255V260M572.5 254V277M573.5 197V214M573.5 257V277M574.5 197V212M574.5 255V277M577.5 206V210M579.5 204V221M579.5 246V258M601.5 208V211M602.5 254V258M605.5 254V256M606.5 255V263M610.5 208V210M610.5 254V258M617.5 259V281M621.5 207V211M624.5 196V208M628.5 254V270M634.5 208V209M638.5 259V263M642.5 184V213M644.5 201V211M645.5 201V213M653.5 258V262M660.5 258V264M663.5 206V212M676.5 198V210M680.5 257V288M683.5 255V257M686.5 202V211M686.5 256V266M687.5 197V207M687.5 259V266M695.5 200V213M695.5 259V274M699.5 204V211M699.5 255V260M704.5 254V276M711.5 259V265M715.5 212V213M717.5 205V209M723.5 198V208M723.5 254V261M728.5 194V211M728.5 259V279M729.5 208V209M729.5 257V272M743.5 212V214M744.5 256V267M746.5 207V214M746.5 255V268M769.5 254V265M772.5 254V263M776.5 196V209M788.5 254V260M789.5 178V208M790.5 259V266M794.5 259V263M795.5 202V212M795.5 256V289M804.5 256V270M820.5 258V261M834.5 254V264M835.5 206V207M837.5 207V212M858.5 212V212M867.5 258V277M868.5 197V213M868.5 254V263M870.5 254V268M877.5 195V212M877.5 253V288M878.5 195V211M878.5 257V260M885.5 203V210M894.5 206V213M897.5 205V208M898.5 259V268M901.5 201V209M910.5 208V214M914.5 209V211M920.5 207V207M923.5 192V213M926.5 256V258M931.5 193V209M934.5 255V259M965.5 202V212M967.5 200V210M971.5 255V266M974.5 209V212M974.5 254V264M979.5 257V265M980.5 255V261M982.5 256V258M984.5 204V208M997.5 197V213M997.5 256V259M998.5 203V209M999.5 254V259M1001.5 209V211M1001.5 253V273M1009.5 256V265M1010.5 255V269M1030.5 201V210M1030.5 254V283M1034.5 258V264M1047.5 259V269M1054.5 206V212M1061.5 255V258M1069.5 206V210M1072.5 207V212M1072.5 257V266M1077.5 206V213M1081.5 200V210M1084.5 259V261M1093.5 255V264M1103.5 204V209M1105.5 191V208M1105.5 257V271M1107.5 255V284M1125.5 210V214M1130.5 258V266M1131.5 258V266M1137.5 209V210M1137.5 255V259M1138.5 255V256M1148.5 202V211M1149.5 255V261M1150.5 254V262M1152.5 254V260M1153.5 259V261M1154.5 212V214M1162.5 212V213M1162.5 258V261M1165.5 198V211M1188.5 209V213M1188.5 258V260M1189.5 256V258M1192.5 208V212M1199.5 258V261M1202.5 210V210M1215.5 205V209M1216.5 205V210M1216.5 259V265M1221.5 202V211M1223.5 257V272M1233.5 258V264M1235.5 189V212M1235.5 258V263M1250.5 207V211M1264.5 259V266M1273.5 254V268M1279.5 195V210M1279.5 257V261M1287.5 256V262M1303.5 204V214" stroke="#d0283c" stroke-width="1" fill="none"/><path d="M532.5 255V260M537.5 193V212M537.5 255V256M552.5 255V264M555.5 198V210M555.5 258V264M561.5 205V208M562.5 255V276M566.5 258V283M571.5 191V213M575.5 205V211M581.5 254V274M598.5 255V259M609.5 255V259M610.5 254V274M613.5 200V211M613.5 256V265M614.5 258V265M624.5 256V273M630.5 256V258M632.5 211V213M639.5 254V280M644.5 256V268M653.5 204V212M653.5 259V262M659.5 255V271M661.5 184V213M671.5 200V210M671.5 257V259M673.5 258V284M674.5 208V209M675.5 206V208M678.5 256V262M682.5 190V213M685.5 189V212M686.5 201V211M686.5 256V258M688.5 211V213M691.5 201V209M691.5 254V256M692.5 198V210M702.5 259V265M709.5 258V263M716.5 209V212M716.5 255V265M750.5 209V210M756.5 258V278M769.5 197V211M769.5 253V256M774.5 200V213M794.5 209V212M794.5 259V260M796.5 257V267M806.5 193V214M820.5 259V263M821.5 256V263M826.5 255V258M830.5 255V261M834.5 193V211M843.5 255V263M845.5 203V207M846.5 206V210M846.5 258V274M847.5 255V276M858.5 195V213M858.5 254V261M869.5 257V276M870.5 255V276M877.5 201V212M889.5 201V212M895.5 197V213M895.5 254V255M896.5 197V213M914.5 258V264M918.5 201V208M920.5 197V208M924.5 257V264M939.5 259V262M942.5 204V213M943.5 257V270M944.5 256V270M945.5 202V209M955.5 254V258M966.5 255V262M970.5 257V261M971.5 255V261M982.5 257V260M990.5 203V210M990.5 255V258M992.5 259V280M1007.5 255V256M1026.5 256V259M1030.5 254V256M1050.5 203V213M1053.5 208V209M1065.5 203V213M1069.5 207V209M1070.5 202V213M1071.5 255V272M1076.5 255V266M1081.5 196V210M1081.5 255V275M1084.5 258V268M1100.5 254V261M1108.5 254V255M1114.5 205V210M1114.5 257V262M1133.5 196V213M1141.5 196V214M1141.5 254V258M1151.5 192V208M1151.5 255V272M1156.5 256V271M1163.5 258V270M1178.5 256V265M1185.5 255V256M1187.5 206V207M1221.5 207V210M1226.5 207V211M1228.5 254V261M1232.5 204V211M1245.5 197V208M1245.5 256V265M1256.5 198V207M1256.5 258V268M1261.5 207V212M1265.5 190V213M1280.5 202V209M1280.5 259V264M1287.5 256V259M1297.5 209V210M1298.5 196V211M1303.5 210V213" stroke="#30bca8" stroke-width="1" fill="none"/><path d="M536.5 206V213M540.5 259V282M551.5 203V212M552.5 256V259M555.5 195V210M555.5 258V260M565.5 259V261M566.5 258V265M567.5 207V213M569.5 200V208M570.5 210V212M571.5 205V213M571.5 256V267M579.5 201V211M589.5 253V265M597.5 212V214M601.5 256V258M603.5 184V208M603.5 259V264M608.5 259V278M611.5 197V211M619.5 172V208M621.5 207V211M621.5 254V262M622.5 255V266M624.5 257V259M629.5 207V209M636.5 258V263M643.5 257V271M652.5 209V211M657.5 257V259M670.5 201V210M672.5 256V288M676.5 259V269M677.5 254V267M682.5 208V212M684.5 260V284M705.5 208V209M706.5 205V213M708.5 258V267M710.5 201V211M710.5 255V267M714.5 211V213M715.5 211V214M732.5 207V213M735.5 205V208M736.5 205V211M750.5 257V267M751.5 258V283M764.5 254V285M768.5 258V289M769.5 254V289M774.5 255V281M775.5 254V259M782.5 256V274M783.5 254V274M786.5 255V256M791.5 195V214M796.5 201V212M799.5 258V263M810.5 204V211M810.5 256V285M819.5 258V260M823.5 256V259M827.5 204V210M833.5 259V263M836.5 254V271M843.5 203V211M844.5 255V260M852.5 257V261M857.5 245V257M863.5 208V214M863.5 257V262M865.5 200V209M866.5 200V213M871.5 254V276M881.5 254V264M895.5 209V213M896.5 202V213M897.5 202V208M898.5 194V209M899.5 194V208M899.5 255V256M904.5 254V256M908.5 202V212M919.5 256V282M930.5 206V207M937.5 254V277M941.5 255V269M944.5 207V212M949.5 206V210M953.5 255V257M956.5 200V208M956.5 257V273M959.5 259V276M973.5 254V267M994.5 210V211M997.5 257V259M999.5 200V212M1002.5 255V260M1003.5 196V208M1003.5 257V272M1006.5 203V211M1012.5 189V213M1017.5 256V269M1028.5 197V209M1033.5 201V209M1034.5 200V209M1039.5 255V270M1041.5 255V257M1044.5 255V256M1054.5 202V212M1055.5 202V209M1063.5 257V269M1065.5 211V214M1068.5 209V213M1068.5 255V271M1071.5 205V213M1072.5 205V212M1075.5 211V212M1077.5 210V213M1077.5 257V268M1093.5 209V211M1094.5 202V213M1095.5 258V272M1096.5 207V213M1105.5 199V209M1119.5 204V210M1134.5 254V272M1137.5 189V209M1138.5 253V262M1144.5 256V258M1155.5 257V263M1164.5 255V259M1166.5 254V255M1172.5 257V262M1182.5 193V209M1192.5 257V261M1196.5 203V209M1206.5 196V210M1208.5 255V259M1211.5 210V211M1217.5 257V265M1219.5 203V208M1231.5 258V267M1236.5 207V211M1237.5 207V213M1245.5 192V208M1245.5 256V263M1247.5 201V211M1250.5 207V212M1255.5 188V214M1267.5 259V265M1268.5 201V208M1271.5 209V211M1272.5 205V210M1272.5 255V257M1285.5 259V259M1290.5 259V278M1291.5 256V265M1292.5 188V211M1294.5 210V211M1298.5 259V261M1305.5 256V257M1310.5 256V264" stroke="#c8622a" stroke-width="1" fill="none"/><path d="M532.5 209V211M536.5 255V269M538.5 201V211M545.5 181V212M548.5 254V256M552.5 256V269M560.5 257V273M564.5 255V257M566.5 209V210M566.5 258V271M569.5 255V267M573.5 212V213M574.5 203V212M578.5 199V209M579.5 256V261M581.5 206V207M581.5 255V262M586.5 257V273M588.5 208V210M594.5 210V213M594.5 254V259M595.5 203V212M598.5 197V213M605.5 254V255M606.5 206V211M611.5 205V210M611.5 259V268M620.5 257V265M631.5 185V209M631.5 258V263M633.5 200V208M642.5 196V213M645.5 254V271M647.5 188V210M647.5 259V259M649.5 184V209M649.5 254V256M652.5 208V212M654.5 182V211M654.5 256V260M658.5 207V210M663.5 197V212M666.5 193V211M666.5 256V276M670.5 256V271M671.5 257V263M674.5 200V209M675.5 200V207M675.5 255V257M679.5 208V213M679.5 255V260M682.5 208V212M682.5 258V262M694.5 256V263M698.5 212V213M703.5 207V209M703.5 258V260M704.5 186V213M704.5 254V261M705.5 205V209M705.5 256V269M706.5 185V214M706.5 258V269M707.5 205V209M710.5 204V210M710.5 256V276M712.5 201V212M715.5 209V213M715.5 255V258M717.5 189V208M717.5 256V266M720.5 254V259M729.5 202V209M731.5 192V213M734.5 170V213M734.5 259V281M741.5 259V287M742.5 256V260M743.5 256V277M744.5 188V211M744.5 256V277M751.5 197V209M757.5 199V208M768.5 205V209M783.5 205V211M783.5 253V272M784.5 255V272M789.5 255V263M794.5 258V270M803.5 246V277M805.5 206V212M810.5 255V280M829.5 255V265M833.5 199V212M836.5 254V278M842.5 200V210M842.5 257V263M856.5 259V264M858.5 190V213M872.5 206V212M877.5 254V267M883.5 255V279M884.5 192V208M884.5 258V268M886.5 200V208M889.5 259V265M890.5 255V266M892.5 259V261M898.5 190V208M903.5 195V211M907.5 200V207M907.5 255V262M910.5 181V213M911.5 259V265M912.5 256V265M914.5 209V210M918.5 258V263M922.5 196V212M927.5 175V207M927.5 259V273M933.5 204V210M933.5 255V261M942.5 199V213M944.5 256V260M947.5 195V210M948.5 255V264M951.5 255V261M952.5 205V212M962.5 257V276M963.5 203V208M963.5 255V276M971.5 254V267M974.5 254V272M981.5 259V262M982.5 257V260M989.5 258V263M990.5 201V210M994.5 192V211M995.5 192V213M999.5 255V293M1000.5 259V270M1001.5 254V279M1002.5 256V257M1009.5 256V265M1020.5 206V214M1024.5 254V268M1027.5 253V262M1029.5 203V209M1033.5 259V267M1035.5 259V270M1036.5 259V270M1039.5 191V213M1039.5 255V273M1040.5 191V209M1041.5 254V281M1042.5 254V281M1067.5 203V210M1071.5 256V276M1078.5 207V208M1078.5 258V262M1079.5 177V211M1079.5 255V262M1080.5 257V260M1081.5 180V210M1086.5 255V261M1095.5 258V272M1096.5 206V214M1096.5 258V265M1097.5 208V208M1097.5 257V265M1104.5 255V261M1105.5 257V261M1108.5 254V257M1116.5 199V211M1117.5 199V209M1123.5 208V212M1123.5 259V281M1126.5 258V267M1128.5 209V213M1129.5 207V211M1133.5 255V269M1136.5 206V210M1137.5 256V269M1149.5 254V270M1156.5 256V278M1160.5 196V209M1166.5 206V208M1176.5 182V210M1176.5 257V284M1184.5 206V212M1184.5 255V262M1185.5 189V210M1191.5 183V209M1196.5 193V209M1196.5 256V265M1199.5 210V211M1201.5 258V271M1218.5 210V213M1224.5 208V211M1238.5 207V208M1239.5 204V210M1244.5 255V261M1250.5 202V212M1250.5 255V265M1255.5 202V213M1274.5 189V210M1277.5 208V210M1281.5 256V258M1283.5 195V210M1289.5 256V280M1300.5 196V212M1302.5 200V210M1302.5 258V273M1311.5 257V276M1316.5 205V208" stroke="#5d65e6" stroke-width="1" fill="none"/><path d="M536.5 256V290M537.5 254V262M545.5 202V211M547.5 255V257M548.5 203V211M560.5 195V214M562.5 256V266M567.5 257V266M569.5 201V208M570.5 257V258M574.5 255V261M578.5 203V208M579.5 204V212M592.5 194V211M598.5 208V213M598.5 255V278M599.5 201V213M612.5 258V259M615.5 200V210M617.5 208V208M617.5 259V266M620.5 182V212M620.5 257V265M637.5 207V207M646.5 257V260M650.5 208V212M650.5 255V256M651.5 211V212M652.5 211V211M656.5 204V211M671.5 204V211M672.5 206V211M674.5 258V264M682.5 257V261M684.5 196V208M685.5 196V212M685.5 259V270M689.5 205V211M700.5 202V211M701.5 254V264M703.5 258V259M716.5 255V260M717.5 255V260M720.5 254V277M722.5 207V213M724.5 205V208M731.5 254V263M734.5 203V213M734.5 258V275M746.5 256V276M748.5 209V213M750.5 189V210M751.5 258V263M752.5 197V209M768.5 257V262M771.5 194V210M774.5 212V213M788.5 210V211M795.5 257V299M798.5 257V269M799.5 257V266M814.5 258V266M821.5 257V270M825.5 254V260M831.5 256V265M832.5 254V265M851.5 202V208M851.5 253V274M858.5 255V273M861.5 207V219M863.5 257V282M867.5 200V209M873.5 189V207M884.5 206V208M885.5 206V210M885.5 255V261M892.5 259V277M904.5 254V255M918.5 207V209M919.5 195V211M922.5 255V268M927.5 258V268M934.5 211V211M934.5 256V273M939.5 259V263M940.5 260V266M945.5 257V260M950.5 198V209M970.5 257V287M972.5 255V268M973.5 255V268M974.5 186V212M974.5 254V258M976.5 255V282M988.5 198V211M1003.5 203V208M1012.5 205V213M1012.5 257V258M1018.5 257V274M1024.5 254V272M1031.5 209V210M1043.5 202V210M1043.5 259V260M1045.5 256V258M1048.5 258V262M1056.5 201V208M1056.5 255V268M1059.5 254V257M1061.5 255V263M1068.5 208V212M1071.5 208V213M1073.5 207V209M1073.5 255V258M1075.5 204V213M1076.5 254V268M1083.5 257V268M1085.5 205V214M1092.5 199V208M1099.5 254V257M1100.5 254V262M1102.5 205V209M1103.5 190V209M1107.5 204V208M1107.5 255V273M1108.5 200V208M1112.5 255V264M1122.5 253V260M1128.5 257V273M1135.5 199V208M1142.5 258V261M1146.5 207V213M1147.5 207V211M1150.5 254V257M1154.5 256V258M1160.5 257V271M1164.5 256V269M1170.5 210V211M1171.5 207V212M1174.5 255V268M1180.5 191V217M1180.5 245V258M1187.5 257V262M1188.5 212V212M1192.5 257V261M1195.5 257V268M1202.5 255V267M1206.5 256V267M1219.5 256V282M1222.5 257V262M1228.5 253V255M1265.5 180V212M1267.5 258V261M1268.5 200V208M1278.5 208V214M1280.5 208V210M1293.5 211V212M1294.5 195V211M1296.5 192V209M1297.5 255V262M1299.5 195V209M1301.5 190V212M1306.5 254V256M1310.5 204V209M1312.5 199V209M1313.5 194V209M1313.5 256V279" stroke="#cc3355" stroke-width="1" fill="none"/><path d="M552.5 192V211M552.5 255V258M562.5 198V208M571.5 212V213M574.5 199V213M579.5 197V211M584.5 209V210M584.5 255V275M585.5 209V213M586.5 256V272M588.5 207V211M588.5 257V259M593.5 257V263M595.5 191V212M597.5 209V213M598.5 199V213M607.5 254V270M617.5 190V208M620.5 257V264M633.5 197V207M639.5 255V256M647.5 207V210M650.5 192V211M651.5 192V211M658.5 253V257M659.5 255V256M661.5 256V258M665.5 200V213M666.5 204V212M670.5 201V209M671.5 258V271M677.5 254V259M682.5 257V281M683.5 254V281M687.5 196V208M690.5 193V212M696.5 258V271M700.5 193V210M702.5 207V212M704.5 254V261M722.5 207V212M724.5 256V267M750.5 199V209M751.5 200V209M752.5 259V262M754.5 254V269M758.5 258V266M759.5 256V260M765.5 189V213M765.5 255V276M772.5 254V270M777.5 183V211M777.5 255V269M781.5 255V273M783.5 253V265M789.5 202V208M790.5 204V207M794.5 258V270M808.5 196V207M808.5 258V261M811.5 257V265M819.5 205V208M820.5 259V280M823.5 256V264M824.5 199V209M824.5 257V264M831.5 185V210M831.5 256V258M836.5 203V210M837.5 254V256M842.5 197V210M846.5 257V271M859.5 257V269M860.5 258V269M863.5 207V214M866.5 255V261M874.5 197V208M878.5 258V265M879.5 200V210M881.5 254V261M882.5 195V211M883.5 195V210M883.5 254V259M890.5 206V210M895.5 254V255M902.5 209V210M903.5 199V212M912.5 256V259M925.5 253V261M926.5 201V212M935.5 254V269M943.5 256V257M946.5 258V265M950.5 255V256M954.5 259V273M964.5 256V257M966.5 254V259M992.5 259V268M997.5 256V266M1003.5 195V207M1003.5 257V262M1004.5 195V208M1008.5 256V264M1020.5 256V268M1026.5 207V213M1028.5 204V210M1039.5 255V268M1054.5 206V212M1055.5 206V210M1056.5 255V265M1058.5 258V266M1060.5 254V274M1069.5 254V271M1071.5 256V260M1093.5 203V212M1097.5 256V261M1104.5 190V210M1107.5 205V207M1107.5 255V263M1112.5 256V258M1113.5 209V212M1118.5 193V211M1126.5 182V209M1127.5 257V261M1135.5 205V209M1152.5 209V214M1157.5 204V212M1161.5 201V213M1161.5 257V259M1163.5 258V261M1164.5 255V269M1173.5 257V272M1176.5 258V260M1187.5 258V266M1188.5 204V213M1190.5 201V208M1191.5 255V263M1196.5 256V259M1212.5 207V209M1216.5 259V266M1224.5 258V263M1240.5 258V262M1252.5 201V211M1256.5 203V208M1256.5 257V265M1260.5 201V209M1269.5 208V212M1274.5 197V210M1274.5 254V271M1275.5 197V211M1281.5 195V211M1283.5 257V258M1291.5 188V212M1291.5 256V258M1307.5 257V260M1309.5 192V208" stroke="#6aa838" stroke-width="1" fill="none"/><path d="M535.5 189V213M546.5 257V262M547.5 256V262M548.5 198V210M551.5 202V211M554.5 257V262M557.5 255V269M563.5 204V209M563.5 257V267M566.5 192V210M568.5 259V275M569.5 256V277M572.5 254V303M577.5 208V210M580.5 259V277M582.5 205V213M582.5 254V260M583.5 205V213M583.5 256V276M592.5 255V270M595.5 254V257M608.5 208V214M615.5 258V261M628.5 255V268M630.5 206V208M632.5 207V213M632.5 257V261M638.5 259V260M640.5 255V256M647.5 209V210M648.5 205V211M669.5 257V285M684.5 259V261M694.5 204V210M699.5 254V278M705.5 208V209M705.5 256V257M716.5 255V259M717.5 255V289M721.5 256V269M728.5 259V270M729.5 258V272M732.5 205V213M742.5 192V211M744.5 257V265M753.5 182V211M754.5 182V207M764.5 205V212M770.5 202V209M771.5 205V210M773.5 255V265M776.5 184V209M784.5 210V213M784.5 255V260M785.5 181V209M795.5 206V213M795.5 256V270M802.5 256V260M805.5 194V212M810.5 206V211M815.5 208V211M817.5 255V260M818.5 207V211M826.5 172V208M828.5 257V272M829.5 255V259M830.5 255V260M835.5 203V208M835.5 259V275M839.5 204V212M839.5 255V261M840.5 204V210M840.5 258V300M841.5 255V277M843.5 198V211M846.5 257V264M847.5 206V208M851.5 254V260M856.5 200V208M859.5 203V210M859.5 258V264M863.5 210V213M863.5 258V287M864.5 259V287M866.5 255V259M877.5 254V288M881.5 254V255M889.5 259V287M893.5 256V272M898.5 186V209M898.5 259V271M901.5 202V209M905.5 255V260M906.5 254V262M910.5 199V213M910.5 257V257M911.5 259V263M913.5 204V208M913.5 254V257M914.5 181V210M919.5 204V211M929.5 207V211M930.5 207V207M934.5 187V211M934.5 256V270M935.5 196V208M935.5 255V266M936.5 196V212M937.5 244V257M942.5 256V281M944.5 210V212M953.5 255V271M955.5 207V210M955.5 255V271M958.5 258V272M959.5 259V269M961.5 254V268M963.5 256V257M966.5 254V260M973.5 173V209M974.5 173V212M976.5 254V264M980.5 206V210M1004.5 197V208M1004.5 255V285M1005.5 202V209M1005.5 254V282M1007.5 172V208M1010.5 198V213M1010.5 255V267M1013.5 254V258M1016.5 197V209M1016.5 255V257M1030.5 253V258M1032.5 198V208M1035.5 259V277M1046.5 208V214M1048.5 203V210M1050.5 195V213M1051.5 207V219M1060.5 254V264M1063.5 257V267M1065.5 254V257M1069.5 254V255M1074.5 191V209M1080.5 211V213M1083.5 257V269M1084.5 209V212M1086.5 189V211M1086.5 255V284M1089.5 254V272M1091.5 198V210M1091.5 258V266M1093.5 255V256M1096.5 258V287M1100.5 208V212M1109.5 202V211M1111.5 192V209M1111.5 255V259M1113.5 259V260M1114.5 202V210M1114.5 257V264M1115.5 205V209M1115.5 259V264M1116.5 208V211M1119.5 206V210M1119.5 255V258M1121.5 201V213M1122.5 201V212M1122.5 254V255M1124.5 197V211M1124.5 254V273M1130.5 258V274M1131.5 258V274M1141.5 255V283M1142.5 192V212M1143.5 192V211M1145.5 201V208M1148.5 257V275M1158.5 203V212M1161.5 257V264M1171.5 199V212M1171.5 256V260M1178.5 257V266M1179.5 209V212M1179.5 257V266M1180.5 206V208M1181.5 208V213M1186.5 205V211M1187.5 180V207M1192.5 210V213M1194.5 197V211M1194.5 253V276M1198.5 202V213M1202.5 255V276M1205.5 257V271M1207.5 208V211M1210.5 207V210M1210.5 255V286M1213.5 196V209M1216.5 187V210M1216.5 260V260M1222.5 203V210M1222.5 257V275M1231.5 190V210M1232.5 255V261M1235.5 209V211M1235.5 259V260M1239.5 209V211M1240.5 209V212M1246.5 255V272M1250.5 255V262M1253.5 256V284M1254.5 259V277M1266.5 206V209M1272.5 208V211M1272.5 254V260M1273.5 202V212M1274.5 209V211M1275.5 254V257M1279.5 257V282M1282.5 254V270M1288.5 183V208M1288.5 254V272M1298.5 259V268M1303.5 210V213M1303.5 258V266M1306.5 255V267M1312.5 186V219M1312.5 245V264M1313.5 186V210M1314.5 254V263" stroke="#a83cc8" stroke-width="1" fill="none"/><path d="M538.5 210V210M543.5 255V264M550.5 201V209M550.5 256V262M551.5 257V262M562.5 205V208M567.5 204V213M567.5 257V264M579.5 198V212M586.5 257V260M593.5 198V213M606.5 255V257M608.5 259V261M609.5 259V269M621.5 200V212M624.5 204V208M626.5 201V208M626.5 255V257M628.5 207V212M635.5 189V213M638.5 192V210M651.5 198V212M654.5 192V211M654.5 257V263M663.5 208V211M665.5 256V275M671.5 205V211M678.5 194V213M682.5 208V213M688.5 255V263M691.5 204V209M706.5 204V213M713.5 205V210M717.5 201V218M719.5 190V211M727.5 203V209M733.5 209V212M733.5 254V263M734.5 259V265M739.5 259V271M744.5 257V258M748.5 208V213M749.5 254V258M751.5 258V260M755.5 204V209M755.5 258V262M757.5 257V262M761.5 199V208M764.5 254V257M769.5 253V261M778.5 207V210M786.5 255V258M788.5 208V211M800.5 198V213M803.5 197V210M809.5 255V269M813.5 254V263M817.5 254V257M818.5 249V269M832.5 207V212M836.5 255V263M839.5 255V256M846.5 257V258M847.5 255V268M850.5 204V207M851.5 204V207M866.5 194V213M866.5 254V282M872.5 256V257M876.5 258V259M878.5 202V210M880.5 259V268M881.5 210V212M881.5 254V276M883.5 255V256M884.5 200V208M889.5 259V270M894.5 208V212M899.5 198V208M899.5 255V268M901.5 192V209M903.5 255V258M904.5 206V212M904.5 254V267M908.5 197V211M908.5 258V266M909.5 256V266M914.5 258V263M923.5 203V214M931.5 257V283M938.5 257V260M943.5 256V261M946.5 258V267M949.5 256V258M951.5 255V283M953.5 204V209M955.5 204V211M968.5 196V213M973.5 254V282M977.5 256V260M980.5 255V257M982.5 203V211M993.5 257V265M994.5 256V268M996.5 208V210M1006.5 210V211M1015.5 257V267M1023.5 204V210M1023.5 255V260M1025.5 198V212M1026.5 198V213M1027.5 254V264M1030.5 254V269M1032.5 254V263M1038.5 199V209M1038.5 258V270M1041.5 175V208M1041.5 255V257M1046.5 208V213M1048.5 207V209M1056.5 255V262M1063.5 203V210M1077.5 183V213M1089.5 196V207M1098.5 191V209M1106.5 208V212M1108.5 254V257M1111.5 187V208M1116.5 208V211M1117.5 258V263M1118.5 257V259M1130.5 197V208M1146.5 208V213M1154.5 257V260M1166.5 254V255M1170.5 182V211M1171.5 182V211M1175.5 258V263M1180.5 255V257M1185.5 255V258M1187.5 257V259M1201.5 203V210M1205.5 258V262M1206.5 206V209M1206.5 256V267M1207.5 206V212M1215.5 255V261M1216.5 259V269M1229.5 205V212M1230.5 208V213M1230.5 256V268M1231.5 208V211M1233.5 205V212M1238.5 257V268M1239.5 256V268M1241.5 257V260M1247.5 255V259M1249.5 258V259M1255.5 194V214M1255.5 258V272M1261.5 207V213M1261.5 255V269M1269.5 211V212M1269.5 257V264M1286.5 206V211M1290.5 203V212M1292.5 258V265M1299.5 188V210M1299.5 258V259M1310.5 257V265M1312.5 255V260M1315.5 254V256" stroke="#2a9a72" stroke-width="1" fill="none"/><path d="M549.5 210V213M551.5 257V261M556.5 255V275M558.5 192V211M564.5 256V259M566.5 197V211M567.5 197V214M567.5 257V262M574.5 255V257M581.5 200V208M581.5 254V270M586.5 257V258M591.5 258V279M594.5 253V274M597.5 211V213M600.5 254V256M605.5 254V256M611.5 259V260M617.5 259V269M620.5 203V212M620.5 257V259M628.5 255V260M629.5 259V260M634.5 256V280M635.5 258V280M636.5 193V212M639.5 254V269M647.5 258V260M652.5 256V263M654.5 198V212M664.5 209V210M664.5 258V273M666.5 207V212M668.5 258V260M669.5 256V258M677.5 203V208M682.5 207V212M689.5 255V262M700.5 258V270M701.5 255V268M705.5 256V271M714.5 254V270M720.5 203V212M720.5 253V256M723.5 194V208M723.5 254V258M727.5 206V209M731.5 205V213M752.5 258V267M755.5 187V209M755.5 257V261M778.5 185V210M782.5 197V208M782.5 256V260M783.5 197V210M787.5 257V268M794.5 207V212M795.5 208V212M798.5 256V258M802.5 198V213M808.5 257V278M811.5 257V274M816.5 209V212M829.5 201V207M852.5 258V264M858.5 199V213M865.5 205V209M893.5 202V212M897.5 204V208M903.5 255V272M919.5 255V274M923.5 209V213M941.5 254V261M947.5 206V209M961.5 194V213M961.5 255V262M967.5 202V210M974.5 254V261M978.5 253V290M979.5 210V212M979.5 257V290M984.5 201V208M998.5 258V260M999.5 206V212M999.5 255V279M1010.5 209V213M1010.5 255V272M1028.5 207V210M1032.5 205V207M1037.5 204V207M1038.5 204V208M1044.5 255V284M1045.5 256V258M1059.5 254V257M1065.5 202V213M1078.5 201V208M1078.5 258V260M1085.5 209V213M1085.5 257V261M1089.5 254V266M1091.5 205V210M1101.5 203V211M1103.5 255V257M1119.5 255V256M1127.5 206V209M1141.5 255V260M1148.5 196V211M1153.5 206V208M1156.5 256V269M1163.5 198V209M1168.5 203V212M1174.5 255V260M1178.5 189V209M1180.5 203V208M1182.5 259V261M1184.5 255V277M1195.5 191V211M1200.5 256V272M1201.5 258V258M1208.5 203V212M1210.5 255V263M1212.5 208V210M1212.5 256V277M1213.5 259V277M1214.5 257V268M1224.5 210V211M1225.5 210V212M1226.5 209V212M1226.5 257V276M1236.5 193V210M1243.5 246V261M1259.5 195V214M1272.5 205V211M1274.5 202V210M1280.5 258V289M1282.5 254V257M1283.5 201V209M1287.5 256V268M1297.5 210V210M1297.5 255V267M1305.5 193V213M1306.5 193V213M1306.5 255V260M1311.5 206V209M1311.5 257V259M1312.5 207V209M1314.5 254V275" stroke="#a8282e" stroke-width="1" fill="none"/><path d="M534.5 255V259M535.5 212V213M535.5 256V259M539.5 203V213M539.5 254V262M542.5 205V208M542.5 253V263M545.5 206V212M545.5 258V260M547.5 193V210M547.5 255V279M548.5 204V210M548.5 253V264M549.5 204V213M552.5 255V268M555.5 202V210M555.5 258V266M556.5 255V286M558.5 258V285M562.5 255V274M566.5 258V264M570.5 188V211M570.5 257V265M577.5 194V210M577.5 258V287M580.5 258V277M590.5 198V208M590.5 258V273M592.5 256V264M594.5 193V213M595.5 196V212M597.5 171V214M597.5 254V276M598.5 185V213M598.5 255V268M604.5 209V211M605.5 254V266M608.5 203V213M609.5 254V269M617.5 200V208M618.5 193V208M622.5 195V213M623.5 195V212M624.5 256V260M625.5 205V208M625.5 259V267M629.5 259V269M636.5 258V272M642.5 179V213M660.5 209V214M679.5 205V213M679.5 255V275M680.5 205V213M692.5 191V210M695.5 211V213M698.5 258V278M699.5 185V212M699.5 254V257M711.5 198V210M715.5 203V213M718.5 195V210M721.5 206V209M726.5 256V272M730.5 197V211M730.5 256V264M731.5 197V213M734.5 203V213M736.5 196V212M736.5 254V272M737.5 195V212M739.5 209V212M745.5 202V213M751.5 257V260M754.5 255V264M756.5 202V213M759.5 208V212M763.5 257V269M770.5 207V209M771.5 197V211M771.5 256V266M776.5 205V209M776.5 258V269M778.5 202V210M782.5 256V292M794.5 209V212M800.5 259V270M803.5 255V270M810.5 255V267M818.5 209V211M835.5 196V208M835.5 259V269M838.5 254V268M851.5 206V208M851.5 254V260M854.5 254V256M855.5 196V211M855.5 259V274M863.5 211V214M866.5 190V213M867.5 257V261M870.5 205V211M870.5 255V267M879.5 165V211M883.5 255V269M889.5 209V211M889.5 259V280M890.5 209V211M890.5 254V262M892.5 203V210M892.5 259V274M897.5 201V207M899.5 199V207M900.5 199V213M900.5 258V283M902.5 256V257M904.5 253V283M909.5 256V265M913.5 192V207M920.5 196V207M920.5 257V266M925.5 254V268M933.5 204V210M937.5 196V212M941.5 210V212M941.5 254V258M949.5 256V263M968.5 198V212M969.5 194V213M969.5 254V276M974.5 187V212M974.5 254V282M975.5 257V282M977.5 257V269M978.5 254V256M982.5 257V298M993.5 257V270M994.5 256V270M1003.5 257V269M1007.5 200V209M1020.5 257V264M1021.5 198V210M1021.5 255V273M1028.5 254V261M1031.5 200V210M1034.5 258V261M1035.5 200V212M1043.5 180V210M1043.5 259V263M1044.5 255V258M1059.5 255V262M1067.5 259V264M1069.5 254V260M1072.5 257V267M1075.5 259V261M1077.5 158V212M1079.5 209V211M1081.5 209V210M1083.5 258V269M1088.5 202V213M1091.5 198V210M1091.5 257V268M1092.5 198V209M1095.5 207V208M1096.5 207V213M1098.5 256V298M1108.5 200V208M1111.5 171V209M1112.5 255V265M1114.5 258V271M1119.5 205V209M1125.5 196V214M1125.5 254V268M1131.5 205V213M1131.5 259V262M1132.5 201V208M1134.5 211V213M1134.5 254V256M1136.5 258V286M1137.5 255V258M1140.5 200V211M1140.5 256V262M1143.5 183V212M1147.5 257V261M1150.5 195V208M1158.5 259V260M1164.5 198V210M1164.5 255V259M1171.5 187V212M1172.5 258V285M1176.5 258V277M1186.5 254V265M1192.5 208V212M1192.5 258V270M1193.5 185V212M1193.5 255V273M1194.5 210V211M1194.5 254V273M1196.5 256V277M1198.5 257V274M1201.5 209V209M1202.5 195V211M1202.5 255V264M1205.5 257V262M1209.5 202V209M1215.5 256V284M1218.5 191V212M1218.5 258V269M1219.5 256V270M1226.5 258V278M1228.5 199V211M1228.5 254V256M1229.5 203V212M1230.5 203V213M1233.5 192V212M1248.5 208V211M1250.5 255V273M1257.5 193V212M1260.5 204V210M1260.5 255V258M1262.5 258V264M1263.5 189V211M1264.5 198V208M1265.5 205V213M1269.5 185V212M1269.5 258V273M1274.5 254V259M1280.5 183V210M1280.5 258V269M1281.5 256V275M1282.5 254V275M1283.5 257V289M1285.5 259V262M1288.5 254V259M1291.5 256V258M1296.5 202V208M1296.5 256V269M1301.5 209V212M1301.5 256V259M1302.5 257V272M1305.5 174V213M1305.5 255V261M1307.5 206V208" stroke="#7a34e0" stroke-width="1" fill="none"/><path d="M533.5 254V256M538.5 200V210M539.5 198V212M549.5 254V263M554.5 256V267M557.5 255V267M558.5 210V210M561.5 257V274M565.5 187V208M568.5 200V209M568.5 259V267M569.5 255V267M571.5 257V263M575.5 259V265M583.5 257V261M586.5 256V273M590.5 199V208M592.5 256V278M593.5 204V212M593.5 258V291M595.5 178V212M595.5 255V264M604.5 256V258M627.5 203V212M628.5 192V213M629.5 178V210M629.5 259V260M630.5 256V260M634.5 256V303M635.5 258V303M646.5 177V207M647.5 202V210M647.5 259V264M654.5 193V212M660.5 198V213M660.5 259V272M666.5 208V212M666.5 255V269M670.5 256V259M672.5 256V260M676.5 259V273M680.5 257V271M684.5 259V273M685.5 259V273M689.5 202V210M693.5 204V214M695.5 259V274M704.5 254V267M707.5 192V209M710.5 255V257M711.5 259V265M712.5 254V265M714.5 203V213M715.5 204V214M721.5 206V209M721.5 257V264M727.5 202V209M728.5 208V211M728.5 259V269M730.5 202V211M733.5 255V260M735.5 204V208M738.5 256V258M739.5 209V212M753.5 255V274M757.5 201V208M762.5 207V210M772.5 203V209M772.5 254V268M773.5 255V273M777.5 204V210M794.5 203V212M794.5 259V260M807.5 202V208M807.5 254V263M809.5 255V269M813.5 210V212M813.5 254V255M822.5 254V263M823.5 203V209M823.5 256V263M830.5 255V273M838.5 210V212M840.5 177V210M840.5 258V262M841.5 256V257M843.5 192V211M843.5 255V280M844.5 192V214M849.5 256V260M850.5 205V207M850.5 258V260M856.5 199V208M862.5 256V266M864.5 211V212M864.5 259V274M879.5 191V211M887.5 205V209M887.5 254V285M888.5 205V213M890.5 205V210M899.5 195V208M899.5 255V268M904.5 208V212M907.5 200V207M907.5 255V269M909.5 208V208M909.5 256V258M911.5 258V261M915.5 200V209M916.5 200V214M916.5 253V255M929.5 210V210M938.5 256V266M951.5 202V212M951.5 255V259M955.5 255V260M959.5 188V209M959.5 258V262M965.5 258V268M972.5 193V214M974.5 189V211M977.5 257V269M986.5 255V258M1001.5 204V211M1001.5 253V257M1002.5 192V207M1006.5 258V271M1007.5 254V272M1015.5 193V209M1016.5 256V271M1021.5 206V210M1023.5 255V260M1030.5 254V256M1031.5 256V273M1045.5 255V271M1046.5 212V213M1046.5 254V265M1050.5 257V268M1055.5 256V259M1056.5 208V209M1058.5 258V277M1070.5 255V259M1071.5 207V213M1072.5 207V213M1076.5 209V212M1076.5 255V268M1077.5 257V268M1082.5 205V209M1095.5 258V267M1096.5 258V267M1097.5 256V259M1098.5 204V209M1102.5 258V274M1107.5 255V262M1109.5 200V212M1109.5 255V286M1113.5 249V278M1115.5 259V269M1121.5 189V213M1123.5 249V262M1125.5 254V260M1134.5 196V212M1136.5 258V274M1138.5 210V213M1138.5 254V256M1140.5 207V211M1141.5 203V213M1141.5 255V275M1146.5 256V273M1152.5 208V213M1153.5 208V208M1153.5 260V273M1154.5 257V273M1162.5 205V213M1166.5 194V207M1166.5 254V257M1169.5 198V207M1173.5 257V262M1182.5 191V208M1187.5 194V208M1187.5 257V267M1188.5 202V213M1188.5 259V267M1199.5 190V210M1201.5 201V209M1201.5 258V267M1202.5 196V211M1202.5 255V263M1224.5 203V211M1224.5 259V262M1227.5 259V271M1229.5 255V258M1231.5 206V211M1232.5 255V261M1235.5 211V212M1235.5 259V259M1239.5 257V265M1240.5 259V265M1244.5 255V266M1245.5 256V293M1248.5 254V261M1258.5 253V260M1260.5 255V258M1270.5 257V275M1284.5 201V213M1287.5 256V269M1288.5 253V258M1291.5 196V212M1291.5 256V258M1294.5 205V211M1294.5 256V280M1298.5 259V270M1300.5 182V211M1304.5 203V208M1310.5 256V278M1316.5 259V272" stroke="#2a90d8" stroke-width="1" fill="none"/><path d="M539.5 203V213M540.5 205V210M540.5 259V261M542.5 253V256M548.5 254V268M552.5 203V211M554.5 257V258M567.5 212V213M571.5 211V213M572.5 211V212M574.5 256V285M577.5 190V210M591.5 206V208M593.5 206V213M595.5 201V212M596.5 208V212M600.5 199V210M613.5 211V211M625.5 260V267M626.5 256V265M640.5 210V213M644.5 206V212M656.5 198V211M657.5 193V210M658.5 207V210M662.5 257V264M664.5 257V259M668.5 200V210M677.5 255V286M680.5 203V213M681.5 203V209M692.5 200V210M698.5 258V270M706.5 259V266M717.5 255V268M727.5 260V262M738.5 210V212M738.5 257V257M739.5 210V212M750.5 195V210M751.5 195V209M754.5 254V255M765.5 183V213M768.5 258V266M772.5 254V274M774.5 200V212M777.5 256V271M786.5 255V274M788.5 254V265M798.5 256V265M802.5 186V214M802.5 256V266M811.5 182V207M811.5 257V276M815.5 203V212M816.5 203V212M817.5 255V272M822.5 197V209M833.5 259V262M836.5 199V211M854.5 254V267M862.5 256V263M869.5 256V259M872.5 257V265M873.5 203V207M876.5 204V208M877.5 254V290M897.5 191V208M909.5 256V262M910.5 256V265M912.5 211V212M919.5 201V211M928.5 197V211M929.5 197V211M933.5 208V210M939.5 208V212M948.5 205V208M953.5 255V270M959.5 258V261M977.5 256V258M983.5 256V269M989.5 258V268M991.5 210V214M992.5 259V268M998.5 259V264M1004.5 255V260M1005.5 255V258M1010.5 206V213M1034.5 205V209M1038.5 203V209M1039.5 203V213M1051.5 206V210M1056.5 255V278M1064.5 254V259M1066.5 194V210M1084.5 210V212M1088.5 212V213M1088.5 257V261M1095.5 258V280M1097.5 256V275M1106.5 189V212M1116.5 209V210M1118.5 257V263M1120.5 257V261M1123.5 211V213M1123.5 258V275M1126.5 257V280M1127.5 198V209M1140.5 256V261M1143.5 205V212M1164.5 196V210M1168.5 193V213M1168.5 254V262M1169.5 256V262M1183.5 194V213M1183.5 254V276M1188.5 206V212M1189.5 206V212M1192.5 197V212M1199.5 178V211M1206.5 256V265M1210.5 255V269M1216.5 197V211M1217.5 197V213M1219.5 206V207M1221.5 204V210M1226.5 203V211M1226.5 258V283M1227.5 203V213M1236.5 254V261M1239.5 204V210M1244.5 255V260M1247.5 204V211M1249.5 257V261M1257.5 211V213M1259.5 204V213M1259.5 259V264M1277.5 259V268M1281.5 210V211M1284.5 204V214M1285.5 259V277M1286.5 259V264M1287.5 203V211M1288.5 198V208M1290.5 203V211M1298.5 200V210M1310.5 257V258" stroke="#1b0a60" stroke-width="1" fill="none"/><path d="M532.5 254V262M539.5 254V257M543.5 255V274M548.5 207V210M548.5 254V271M549.5 254V271M555.5 258V263M565.5 198V209M565.5 258V272M573.5 258V266M579.5 188V212M579.5 256V263M591.5 258V274M595.5 255V259M613.5 198V211M620.5 256V276M642.5 196V212M642.5 258V267M645.5 254V268M667.5 205V208M668.5 205V210M676.5 204V209M680.5 202V213M680.5 258V265M683.5 254V265M684.5 260V266M704.5 208V213M713.5 201V210M713.5 255V276M715.5 207V214M715.5 254V270M717.5 202V208M721.5 203V209M728.5 259V267M730.5 255V272M735.5 257V267M740.5 256V267M742.5 200V212M752.5 181V209M754.5 206V207M754.5 254V256M765.5 178V212M765.5 256V266M768.5 258V264M771.5 205V211M781.5 255V275M784.5 207V214M784.5 255V259M787.5 256V267M805.5 258V261M808.5 199V207M814.5 198V213M828.5 258V261M830.5 256V261M842.5 193V211M842.5 256V270M844.5 207V213M845.5 254V257M850.5 203V207M854.5 187V210M860.5 257V277M862.5 205V211M863.5 205V213M863.5 258V267M869.5 257V263M878.5 207V210M879.5 193V211M879.5 255V257M882.5 200V211M885.5 255V259M890.5 254V261M896.5 255V262M897.5 203V207M897.5 259V267M898.5 259V267M901.5 203V209M906.5 254V268M926.5 256V270M927.5 259V270M930.5 254V267M942.5 209V213M946.5 200V209M960.5 255V276M972.5 186V214M979.5 258V274M980.5 255V262M983.5 207V212M1009.5 256V264M1012.5 207V214M1023.5 254V271M1030.5 204V210M1034.5 206V209M1035.5 259V266M1036.5 210V210M1039.5 256V262M1042.5 255V256M1090.5 258V258M1106.5 207V211M1109.5 255V267M1112.5 256V270M1126.5 257V265M1129.5 196V211M1153.5 198V208M1153.5 259V266M1166.5 207V208M1176.5 205V210M1189.5 211V213M1190.5 258V272M1192.5 211V212M1192.5 257V265M1193.5 211V213M1196.5 257V261M1197.5 205V209M1202.5 255V268M1208.5 196V213M1208.5 255V264M1209.5 207V209M1215.5 201V209M1218.5 203V212M1220.5 210V213M1221.5 207V210M1223.5 257V259M1229.5 255V279M1230.5 207V214M1230.5 256V263M1235.5 209V212M1236.5 210V211M1242.5 205V208M1252.5 257V261M1253.5 255V261M1261.5 198V213M1263.5 254V262M1265.5 259V265M1266.5 258V275M1272.5 255V256M1273.5 200V212M1283.5 257V271M1284.5 210V214M1304.5 256V264M1311.5 257V259M1313.5 201V209M1314.5 201V218M1315.5 208V212M1315.5 254V256" stroke="#d8501e" stroke-width="1" fill="none"/><path d="M533.5 191V210M533.5 254V273M542.5 253V267M545.5 205V212M545.5 258V262M546.5 205V213M554.5 257V260M556.5 207V209M556.5 255V273M560.5 257V264M564.5 257V270M569.5 255V269M571.5 257V262M573.5 201V213M573.5 257V271M577.5 259V262M588.5 197V211M600.5 203V210M600.5 254V273M602.5 198V211M604.5 196V210M607.5 255V267M609.5 208V211M613.5 209V212M613.5 255V257M617.5 260V268M619.5 189V208M620.5 256V266M624.5 192V207M624.5 256V274M627.5 196V212M627.5 255V257M630.5 200V208M632.5 203V213M632.5 257V285M637.5 189V208M640.5 254V261M642.5 259V262M643.5 183V207M643.5 257V262M644.5 183V211M644.5 257V285M651.5 210V212M656.5 209V211M656.5 258V262M672.5 209V211M672.5 256V260M674.5 206V209M674.5 259V264M675.5 254V264M676.5 206V210M676.5 259V261M677.5 206V208M677.5 255V275M678.5 202V213M678.5 256V277M679.5 211V214M681.5 259V261M684.5 259V265M690.5 255V260M692.5 208V210M693.5 256V270M694.5 256V270M695.5 188V213M704.5 212V213M704.5 253V255M707.5 258V261M708.5 199V213M708.5 258V266M709.5 199V213M711.5 205V210M712.5 195V211M712.5 255V263M713.5 202V210M713.5 255V256M715.5 191V213M719.5 198V212M719.5 253V254M721.5 203V209M724.5 256V266M725.5 200V210M736.5 202V211M739.5 189V212M741.5 258V264M742.5 191V212M742.5 255V264M749.5 209V212M749.5 255V274M750.5 202V209M751.5 202V209M765.5 207V212M767.5 257V261M778.5 258V266M781.5 256V258M784.5 255V278M786.5 255V260M790.5 258V274M793.5 256V264M796.5 257V266M798.5 256V265M804.5 211V213M806.5 257V275M811.5 196V207M811.5 257V273M813.5 254V270M820.5 207V209M824.5 257V283M829.5 255V274M843.5 176V211M843.5 255V262M850.5 204V208M853.5 256V274M858.5 255V263M862.5 257V258M871.5 254V296M873.5 185V207M874.5 185V208M879.5 195V211M879.5 254V271M883.5 254V268M885.5 255V264M886.5 255V264M888.5 200V212M890.5 255V274M892.5 258V265M893.5 207V213M894.5 210V213M896.5 256V267M904.5 204V212M904.5 254V255M911.5 197V211M914.5 259V272M917.5 200V208M921.5 248V261M925.5 205V208M928.5 180V212M929.5 206V211M931.5 258V259M938.5 198V213M938.5 257V260M946.5 259V266M948.5 255V262M954.5 196V211M957.5 254V265M962.5 257V286M967.5 209V210M968.5 256V269M970.5 208V212M971.5 254V263M974.5 254V269M976.5 208V213M987.5 192V214M988.5 209V211M991.5 257V264M992.5 259V283M993.5 183V213M995.5 199V212M1008.5 255V264M1009.5 200V210M1009.5 256V264M1010.5 255V281M1011.5 207V209M1014.5 194V208M1015.5 194V210M1021.5 254V291M1036.5 209V210M1041.5 199V208M1041.5 255V263M1042.5 255V263M1045.5 255V260M1048.5 204V209M1051.5 256V266M1053.5 197V210M1062.5 259V275M1063.5 203V210M1065.5 255V261M1071.5 199V212M1071.5 256V264M1073.5 205V210M1076.5 255V284M1081.5 197V219M1083.5 188V208M1087.5 258V259M1090.5 256V269M1104.5 209V209M1108.5 180V207M1119.5 190V209M1119.5 256V272M1130.5 259V259M1138.5 255V262M1141.5 208V213M1142.5 208V211M1150.5 254V263M1152.5 195V213M1152.5 255V292M1153.5 197V208M1166.5 206V208M1169.5 247V264M1171.5 203V212M1173.5 204V208M1174.5 255V262M1185.5 254V263M1193.5 255V255M1196.5 203V210M1197.5 257V264M1199.5 207V210M1202.5 255V264M1208.5 255V263M1219.5 206V207M1219.5 257V257M1222.5 206V211M1225.5 207V212M1226.5 257V274M1232.5 209V211M1238.5 257V260M1240.5 200V213M1246.5 194V208M1246.5 255V261M1247.5 255V262M1254.5 258V259M1257.5 258V271M1268.5 258V264M1273.5 254V261M1274.5 254V264M1279.5 257V269M1282.5 254V261M1284.5 197V213M1284.5 257V264M1287.5 203V210M1287.5 257V258M1297.5 208V211M1305.5 256V260M1308.5 199V209M1309.5 199V208M1309.5 257V258M1312.5 255V264M1313.5 256V260" stroke="#1b0a60" stroke-width="1" fill="none"/><path d="M533.5 254V262M545.5 258V263M552.5 256V263M553.5 187V208M553.5 258V260M566.5 257V265M577.5 259V263M585.5 256V270M595.5 208V212M595.5 254V276M598.5 212V213M598.5 256V263M612.5 257V263M618.5 258V295M627.5 255V257M634.5 200V209M637.5 256V258M642.5 202V213M642.5 258V270M646.5 257V261M647.5 259V261M649.5 255V263M651.5 183V212M651.5 256V263M653.5 205V213M653.5 259V266M656.5 259V278M674.5 259V264M680.5 197V213M684.5 206V208M685.5 199V212M687.5 191V208M698.5 258V267M707.5 200V209M707.5 258V260M709.5 204V213M718.5 255V282M719.5 253V260M731.5 209V213M731.5 255V260M732.5 258V259M735.5 202V208M748.5 181V213M749.5 207V212M752.5 200V209M777.5 203V211M777.5 255V260M787.5 257V269M788.5 255V269M791.5 190V214M796.5 195V213M812.5 205V211M812.5 256V259M820.5 259V281M829.5 255V264M834.5 206V210M839.5 256V269M840.5 259V265M857.5 255V270M867.5 257V272M870.5 206V211M871.5 202V209M871.5 254V257M873.5 189V208M873.5 257V277M878.5 186V210M895.5 196V213M901.5 254V272M916.5 199V213M916.5 254V264M918.5 258V275M919.5 209V211M919.5 255V275M921.5 257V262M927.5 259V272M928.5 255V258M929.5 197V210M929.5 257V258M941.5 192V211M941.5 254V264M947.5 255V267M949.5 255V260M951.5 196V212M961.5 205V213M961.5 254V274M974.5 254V256M985.5 202V211M986.5 254V263M987.5 259V272M988.5 258V261M991.5 197V213M992.5 197V210M992.5 258V260M995.5 212V212M1000.5 184V207M1003.5 201V207M1016.5 255V284M1020.5 256V265M1021.5 202V210M1021.5 255V265M1023.5 254V262M1027.5 206V210M1029.5 204V209M1030.5 209V210M1031.5 255V260M1039.5 200V213M1042.5 254V268M1048.5 258V273M1050.5 256V290M1051.5 256V290M1060.5 201V208M1067.5 200V210M1074.5 257V276M1079.5 255V292M1084.5 210V212M1084.5 258V260M1098.5 256V267M1103.5 255V287M1120.5 257V271M1130.5 188V209M1134.5 253V275M1137.5 208V210M1139.5 255V258M1145.5 257V275M1146.5 210V213M1148.5 258V277M1150.5 199V208M1162.5 258V274M1163.5 258V274M1171.5 201V211M1172.5 185V210M1174.5 208V211M1175.5 174V213M1197.5 209V209M1197.5 257V259M1198.5 257V259M1206.5 256V265M1225.5 257V259M1232.5 206V212M1232.5 255V277M1235.5 194V213M1238.5 203V208M1239.5 256V270M1240.5 209V212M1240.5 259V270M1247.5 255V256M1252.5 183V211M1256.5 201V207M1263.5 255V261M1271.5 258V271M1272.5 207V211M1277.5 198V211M1284.5 257V263M1285.5 207V209M1291.5 256V270M1292.5 205V210M1296.5 206V208M1298.5 259V262M1300.5 200V211M1302.5 191V209M1302.5 258V264M1308.5 257V262M1309.5 257V259M1314.5 255V256" stroke="#d8502e" stroke-width="1" fill="none"/><path d="M534.5 255V261M542.5 254V262M554.5 206V212M556.5 207V209M557.5 254V260M564.5 255V263M566.5 257V274M569.5 197V208M590.5 257V265M596.5 195V212M597.5 195V214M597.5 254V261M602.5 254V269M604.5 257V263M626.5 201V207M626.5 256V275M628.5 255V257M635.5 204V213M638.5 259V286M646.5 257V267M647.5 259V260M659.5 200V211M659.5 255V262M660.5 200V214M669.5 256V269M674.5 203V209M674.5 259V279M676.5 258V262M685.5 259V261M703.5 200V210M708.5 208V212M714.5 254V259M715.5 255V263M716.5 207V212M716.5 255V269M718.5 207V210M729.5 205V209M729.5 257V265M730.5 205V210M733.5 254V259M735.5 192V208M739.5 211V211M742.5 209V212M754.5 254V262M761.5 185V208M761.5 258V271M769.5 253V259M783.5 203V210M785.5 257V269M786.5 205V209M787.5 191V210M789.5 254V264M792.5 259V265M797.5 254V270M800.5 203V212M806.5 198V214M809.5 256V263M811.5 256V272M826.5 254V262M827.5 256V275M835.5 199V208M842.5 256V260M843.5 255V260M851.5 200V207M852.5 209V213M852.5 257V263M855.5 259V277M856.5 258V262M872.5 256V286M879.5 183V210M893.5 203V212M895.5 204V212M901.5 179V209M907.5 255V276M917.5 202V208M919.5 202V211M925.5 192V207M927.5 259V267M933.5 255V282M941.5 210V212M941.5 254V260M942.5 193V213M942.5 256V260M947.5 184V209M947.5 254V262M948.5 256V263M951.5 255V261M960.5 256V259M961.5 203V213M961.5 255V259M963.5 255V266M966.5 196V207M976.5 208V212M990.5 254V257M993.5 258V260M994.5 256V260M995.5 207V213M1011.5 258V264M1014.5 200V208M1016.5 205V210M1016.5 255V267M1022.5 258V260M1032.5 254V261M1035.5 197V213M1050.5 210V212M1051.5 255V261M1056.5 255V260M1064.5 207V212M1070.5 210V213M1070.5 256V279M1071.5 256V279M1081.5 199V210M1087.5 187V213M1087.5 258V260M1089.5 195V208M1094.5 206V213M1106.5 210V212M1128.5 206V213M1136.5 258V260M1138.5 254V255M1153.5 204V209M1161.5 193V213M1171.5 208V212M1176.5 188V210M1186.5 254V272M1203.5 259V267M1205.5 203V208M1210.5 255V263M1221.5 257V265M1232.5 204V211M1243.5 255V257M1245.5 256V283M1248.5 203V211M1250.5 206V212M1252.5 257V265M1253.5 207V209M1255.5 259V270M1260.5 255V274M1268.5 200V209M1275.5 255V261M1283.5 196V210M1288.5 254V261M1289.5 258V267M1292.5 258V270M1293.5 256V266M1294.5 201V211M1295.5 201V208M1295.5 255V263M1296.5 256V263M1305.5 185V214M1305.5 255V270M1306.5 185V214M1309.5 258V270" stroke="#1e6b3a" stroke-width="1" fill="none"/><path d="M538.5 258V276M539.5 255V276M540.5 201V209M542.5 254V281M543.5 255V286M545.5 192V212M552.5 198V210M554.5 200V211M554.5 257V259M559.5 256V257M566.5 257V274M567.5 186V213M572.5 200V212M577.5 258V264M578.5 206V209M580.5 202V211M581.5 202V207M583.5 183V212M588.5 257V259M591.5 201V208M591.5 258V271M592.5 201V211M592.5 256V260M594.5 254V266M598.5 256V261M603.5 200V209M605.5 192V213M605.5 254V266M608.5 209V214M608.5 259V274M610.5 207V210M617.5 259V278M621.5 254V255M623.5 196V212M626.5 255V283M627.5 208V211M627.5 255V291M644.5 257V259M647.5 258V280M649.5 254V280M653.5 258V273M658.5 254V261M659.5 189V211M659.5 255V261M665.5 193V213M671.5 206V210M674.5 208V209M676.5 206V210M677.5 206V208M680.5 208V214M680.5 257V281M684.5 259V263M690.5 192V212M692.5 202V210M692.5 256V264M696.5 259V269M701.5 255V262M706.5 259V281M710.5 255V259M714.5 189V212M717.5 256V267M740.5 196V207M751.5 199V209M751.5 257V267M752.5 207V209M752.5 259V267M754.5 254V266M764.5 254V256M766.5 187V213M767.5 198V210M769.5 254V273M773.5 201V208M773.5 255V283M777.5 255V263M781.5 255V263M783.5 195V210M789.5 254V264M791.5 256V276M794.5 211V212M794.5 259V291M797.5 203V207M797.5 255V259M798.5 202V209M800.5 259V264M804.5 255V287M806.5 258V271M812.5 208V211M812.5 256V286M818.5 259V272M821.5 206V208M822.5 203V210M822.5 253V255M823.5 205V209M825.5 254V258M837.5 199V212M837.5 254V276M840.5 207V209M841.5 190V209M842.5 257V292M845.5 254V256M846.5 197V210M847.5 197V209M847.5 254V262M849.5 197V211M854.5 205V209M854.5 254V265M855.5 199V211M855.5 259V269M857.5 206V207M861.5 258V263M863.5 212V213M863.5 258V259M866.5 255V267M868.5 186V213M868.5 254V279M874.5 186V208M875.5 254V260M877.5 253V257M880.5 205V209M887.5 255V264M891.5 186V212M891.5 256V299M892.5 186V209M892.5 259V265M893.5 256V303M900.5 258V269M907.5 255V290M910.5 256V279M911.5 259V279M916.5 209V213M916.5 254V258M922.5 202V212M932.5 258V293M934.5 255V272M935.5 254V258M938.5 206V213M938.5 257V258M940.5 259V268M941.5 253V268M942.5 182V212M950.5 255V258M951.5 211V211M951.5 255V280M954.5 259V275M955.5 209V210M955.5 255V266M959.5 259V278M966.5 255V270M970.5 257V260M973.5 207V209M975.5 204V208M977.5 200V211M979.5 210V212M985.5 254V271M1001.5 254V256M1004.5 254V272M1005.5 255V270M1015.5 189V209M1015.5 257V278M1018.5 210V211M1021.5 255V276M1029.5 258V292M1033.5 259V274M1034.5 258V268M1037.5 254V262M1038.5 259V272M1043.5 259V295M1045.5 209V210M1046.5 255V280M1047.5 259V280M1050.5 256V264M1053.5 195V210M1065.5 254V274M1070.5 184V214M1072.5 257V259M1073.5 209V210M1073.5 254V259M1075.5 209V213M1075.5 259V263M1078.5 258V270M1079.5 255V270M1083.5 194V208M1086.5 254V262M1088.5 212V213M1089.5 206V208M1117.5 181V209M1117.5 258V303M1119.5 255V269M1120.5 257V260M1121.5 259V274M1124.5 202V212M1124.5 254V268M1126.5 257V266M1128.5 179V213M1133.5 197V213M1133.5 254V272M1135.5 205V208M1147.5 208V211M1147.5 257V268M1157.5 259V268M1160.5 256V271M1163.5 257V260M1168.5 195V213M1171.5 257V266M1182.5 258V266M1184.5 206V212M1184.5 256V258M1186.5 255V261M1187.5 257V266M1188.5 260V273M1189.5 208V213M1194.5 254V270M1200.5 255V263M1204.5 257V264M1207.5 199V211M1212.5 256V268M1221.5 205V210M1221.5 257V263M1227.5 259V273M1228.5 208V211M1228.5 254V255M1233.5 196V212M1233.5 258V274M1241.5 257V290M1244.5 205V210M1244.5 254V266M1249.5 258V282M1252.5 187V211M1253.5 255V274M1254.5 258V274M1258.5 253V268M1259.5 205V213M1261.5 212V212M1261.5 255V262M1267.5 259V273M1272.5 206V210M1272.5 255V264M1275.5 255V265M1276.5 257V263M1277.5 258V262M1287.5 206V210M1295.5 255V263M1296.5 256V257M1297.5 208V211M1299.5 203V209M1299.5 259V279M1302.5 205V219M1303.5 205V214M1305.5 255V269M1310.5 257V261M1314.5 189V209M1314.5 254V268M1316.5 184V208M1316.5 259V280" stroke="#e0992e" stroke-width="1" fill="none"/><path d="M534.5 198V210M534.5 255V260M535.5 207V213M540.5 204V210M545.5 257V262M550.5 194V210M550.5 255V268M554.5 204V212M554.5 257V268M558.5 203V210M559.5 207V213M564.5 204V210M569.5 191V209M572.5 254V272M573.5 258V272M574.5 204V213M574.5 255V261M581.5 191V208M581.5 254V303M586.5 209V211M588.5 257V272M589.5 194V209M595.5 197V213M595.5 254V259M599.5 206V213M605.5 211V214M605.5 253V263M608.5 201V213M612.5 184V208M612.5 257V270M620.5 257V275M622.5 255V272M623.5 257V266M635.5 258V261M636.5 202V211M636.5 258V278M641.5 204V208M643.5 205V207M648.5 191V211M649.5 200V209M650.5 256V270M651.5 257V280M653.5 186V213M654.5 255V262M657.5 208V211M667.5 197V209M668.5 198V210M671.5 258V261M674.5 259V261M675.5 254V263M677.5 254V265M679.5 194V212M682.5 257V281M688.5 208V213M688.5 256V263M699.5 195V211M702.5 206V212M708.5 206V213M717.5 256V261M718.5 193V210M718.5 255V261M719.5 193V211M719.5 254V261M722.5 205V213M723.5 254V288M728.5 206V211M733.5 194V212M741.5 258V271M744.5 257V265M750.5 205V209M750.5 257V286M753.5 195V211M756.5 195V213M756.5 258V262M760.5 259V269M763.5 192V209M775.5 255V257M785.5 257V270M791.5 205V213M791.5 256V270M793.5 208V211M795.5 257V268M796.5 191V213M796.5 256V268M800.5 204V212M800.5 259V291M803.5 207V210M803.5 255V258M805.5 205V212M809.5 255V256M810.5 256V284M815.5 200V211M815.5 259V262M816.5 208V212M821.5 203V207M821.5 257V260M822.5 254V263M825.5 254V265M833.5 207V213M835.5 188V208M835.5 259V279M839.5 207V211M840.5 209V210M845.5 199V207M847.5 255V271M856.5 258V260M861.5 257V262M866.5 255V266M867.5 179V210M867.5 257V275M869.5 188V210M870.5 198V210M876.5 205V207M877.5 210V211M877.5 254V256M878.5 257V262M879.5 254V274M886.5 202V208M886.5 255V263M891.5 194V212M891.5 256V268M895.5 207V212M895.5 254V277M896.5 189V214M899.5 206V208M906.5 199V208M906.5 254V277M911.5 202V212M911.5 258V293M915.5 200V209M916.5 194V213M923.5 258V260M930.5 172V217M930.5 245V259M932.5 190V208M932.5 258V261M935.5 204V208M945.5 257V276M948.5 255V270M953.5 255V259M960.5 209V214M961.5 200V212M963.5 256V262M966.5 254V267M979.5 192V212M980.5 255V261M986.5 254V285M989.5 258V273M990.5 190V211M990.5 254V273M992.5 259V287M994.5 204V211M996.5 259V265M999.5 206V212M1005.5 202V209M1005.5 254V279M1008.5 178V212M1010.5 207V213M1014.5 254V284M1015.5 257V284M1022.5 258V265M1024.5 203V210M1025.5 203V213M1025.5 255V262M1028.5 254V257M1030.5 205V211M1033.5 259V271M1036.5 184V210M1036.5 259V261M1041.5 255V271M1045.5 256V260M1046.5 191V213M1046.5 255V269M1051.5 202V210M1055.5 203V209M1055.5 256V257M1069.5 187V209M1070.5 185V214M1071.5 185V213M1071.5 255V262M1072.5 208V211M1073.5 208V209M1073.5 255V267M1076.5 254V275M1077.5 256V260M1081.5 198V210M1082.5 190V209M1085.5 208V213M1085.5 257V274M1087.5 210V213M1093.5 210V212M1098.5 191V209M1098.5 256V257M1105.5 256V283M1107.5 198V208M1107.5 255V256M1111.5 256V257M1112.5 255V257M1115.5 259V261M1120.5 257V275M1134.5 210V213M1134.5 254V262M1138.5 205V213M1142.5 200V212M1175.5 258V264M1179.5 256V260M1181.5 210V213M1183.5 206V212M1183.5 255V258M1191.5 256V260M1203.5 187V208M1217.5 192V213M1219.5 256V265M1222.5 204V210M1223.5 204V209M1229.5 171V211M1235.5 204V212M1237.5 206V213M1239.5 257V262M1241.5 208V211M1251.5 257V294M1255.5 198V213M1255.5 259V280M1256.5 198V208M1256.5 258V280M1259.5 258V273M1262.5 197V212M1264.5 195V207M1266.5 258V261M1270.5 258V263M1272.5 205V210M1273.5 254V259M1274.5 254V267M1275.5 254V257M1280.5 258V262M1282.5 198V207M1282.5 254V261M1283.5 200V209M1283.5 257V261M1284.5 200V213M1291.5 195V211M1292.5 195V210M1292.5 258V261M1297.5 255V261M1305.5 246V265M1306.5 255V276M1311.5 256V258M1312.5 255V263" stroke="#6b30d0" stroke-width="1" fill="none"/><path d="M535.5 257V257M538.5 259V272M543.5 205V208M553.5 195V208M554.5 211V211M555.5 206V210M555.5 258V271M577.5 258V267M582.5 206V212M582.5 255V259M585.5 256V279M597.5 197V213M597.5 255V257M598.5 255V263M603.5 203V209M603.5 259V261M604.5 256V261M607.5 254V275M608.5 203V213M608.5 259V275M612.5 207V209M612.5 257V296M613.5 207V212M624.5 199V207M637.5 204V207M643.5 204V208M647.5 202V210M649.5 255V259M656.5 259V265M660.5 211V213M662.5 204V209M662.5 257V271M663.5 193V211M670.5 256V260M672.5 201V210M672.5 257V272M676.5 259V265M685.5 191V213M686.5 191V211M686.5 256V263M688.5 256V274M692.5 206V210M700.5 259V264M704.5 202V213M704.5 254V267M705.5 202V209M705.5 256V265M706.5 258V260M710.5 255V259M712.5 207V211M714.5 201V213M714.5 254V285M716.5 255V263M717.5 256V267M723.5 254V265M725.5 205V210M726.5 204V211M726.5 257V276M731.5 210V213M743.5 255V258M744.5 256V284M745.5 211V212M757.5 202V208M761.5 258V260M762.5 259V266M767.5 194V210M773.5 255V264M779.5 202V209M782.5 256V266M786.5 206V210M786.5 255V265M787.5 206V210M787.5 256V270M789.5 199V207M789.5 255V256M805.5 186V211M809.5 255V282M810.5 256V282M823.5 256V265M825.5 188V212M832.5 255V264M836.5 193V211M836.5 254V256M837.5 193V213M843.5 255V266M854.5 200V209M854.5 254V258M859.5 258V261M871.5 197V209M871.5 254V256M877.5 253V277M879.5 201V211M884.5 199V208M887.5 254V281M889.5 259V282M892.5 203V209M895.5 254V257M907.5 184V208M907.5 254V263M908.5 200V211M908.5 258V276M915.5 254V258M916.5 254V261M918.5 259V260M923.5 181V214M926.5 256V268M929.5 257V258M934.5 188V211M938.5 199V213M941.5 254V257M944.5 256V260M948.5 256V260M949.5 191V210M949.5 255V260M950.5 191V209M953.5 191V209M955.5 206V210M956.5 206V209M956.5 257V259M961.5 187V212M961.5 255V268M967.5 197V210M972.5 211V214M972.5 255V259M973.5 255V258M975.5 256V286M980.5 193V210M985.5 199V211M987.5 212V213M990.5 194V211M994.5 257V258M997.5 211V212M997.5 257V269M999.5 194V212M1004.5 254V268M1008.5 203V212M1010.5 204V213M1011.5 258V274M1024.5 186V220M1024.5 245V260M1029.5 258V278M1037.5 254V267M1043.5 259V273M1047.5 199V213M1047.5 258V260M1054.5 208V213M1058.5 197V211M1061.5 180V208M1062.5 180V209M1068.5 245V268M1071.5 255V276M1075.5 258V272M1079.5 255V271M1082.5 257V284M1084.5 200V212M1093.5 206V211M1093.5 256V270M1094.5 258V267M1095.5 193V209M1103.5 208V209M1103.5 255V261M1111.5 202V208M1111.5 256V286M1112.5 255V286M1123.5 258V260M1128.5 257V275M1136.5 259V263M1140.5 205V211M1143.5 255V265M1149.5 192V209M1149.5 255V273M1154.5 208V214M1166.5 197V208M1166.5 253V260M1167.5 254V261M1169.5 179V208M1171.5 256V281M1174.5 205V212M1179.5 256V258M1185.5 254V255M1188.5 211V213M1191.5 200V208M1195.5 209V210M1203.5 207V209M1212.5 209V209M1218.5 206V212M1220.5 257V267M1221.5 258V270M1231.5 186V211M1232.5 209V211M1233.5 209V211M1244.5 254V263M1257.5 195V212M1257.5 258V260M1259.5 212V214M1263.5 196V211M1275.5 255V278M1280.5 200V209M1281.5 200V211M1282.5 253V255M1288.5 254V256M1289.5 199V209M1291.5 208V211M1297.5 201V211M1313.5 255V278" stroke="#1f7aa0" stroke-width="1" fill="none"/><path d="M532.5 254V256M534.5 256V260M544.5 254V258M549.5 200V213M549.5 255V268M552.5 255V270M555.5 249V265M561.5 256V284M562.5 204V208M570.5 258V261M576.5 200V213M576.5 256V259M578.5 204V209M578.5 258V267M583.5 256V279M594.5 253V256M597.5 254V258M598.5 211V213M598.5 256V258M603.5 259V272M612.5 258V274M613.5 199V221M619.5 199V208M633.5 199V207M633.5 258V262M643.5 184V208M647.5 205V211M648.5 205V211M655.5 195V210M655.5 258V262M656.5 258V262M661.5 256V276M669.5 256V258M671.5 257V258M673.5 200V211M677.5 198V209M678.5 210V213M697.5 255V256M700.5 259V272M710.5 196V210M710.5 256V265M720.5 204V212M725.5 258V266M734.5 258V270M737.5 207V212M738.5 194V212M739.5 259V281M745.5 209V212M745.5 256V268M759.5 256V270M764.5 191V213M765.5 207V213M766.5 207V213M778.5 257V261M787.5 257V270M796.5 203V212M807.5 179V208M809.5 206V208M817.5 202V211M827.5 208V210M830.5 255V261M833.5 258V264M840.5 209V210M847.5 254V269M869.5 257V268M871.5 208V210M871.5 253V285M872.5 208V212M872.5 256V264M881.5 199V213M883.5 255V255M884.5 203V209M888.5 197V212M888.5 258V278M890.5 206V210M900.5 201V213M912.5 256V262M916.5 254V258M919.5 255V256M921.5 207V211M922.5 192V211M925.5 253V256M932.5 257V268M933.5 255V268M943.5 197V209M945.5 258V263M950.5 254V264M951.5 209V212M951.5 255V276M954.5 207V212M954.5 258V262M955.5 201V210M955.5 255V257M960.5 256V265M962.5 257V284M966.5 198V207M968.5 198V212M977.5 256V261M983.5 256V258M985.5 193V212M989.5 207V210M991.5 212V213M992.5 259V266M1002.5 202V208M1002.5 255V259M1003.5 257V266M1004.5 255V266M1006.5 258V262M1011.5 198V209M1012.5 198V213M1013.5 253V259M1016.5 256V278M1017.5 256V270M1019.5 206V210M1023.5 254V274M1024.5 209V210M1024.5 254V274M1039.5 188V213M1042.5 202V209M1043.5 202V210M1045.5 208V211M1045.5 255V271M1051.5 191V210M1051.5 255V266M1053.5 206V210M1060.5 253V258M1064.5 253V269M1075.5 205V213M1086.5 255V268M1096.5 193V213M1096.5 258V261M1101.5 209V212M1104.5 255V280M1111.5 205V208M1117.5 205V209M1118.5 257V269M1119.5 255V268M1120.5 207V212M1120.5 257V268M1127.5 258V278M1133.5 212V212M1134.5 212V212M1134.5 254V260M1144.5 202V208M1158.5 209V212M1158.5 259V262M1172.5 206V210M1172.5 258V259M1174.5 255V268M1180.5 207V208M1180.5 254V256M1181.5 207V212M1181.5 255V258M1191.5 208V209M1197.5 257V259M1205.5 200V208M1206.5 200V210M1212.5 256V260M1222.5 195V210M1228.5 209V211M1228.5 254V261M1229.5 255V261M1232.5 196V211M1232.5 255V264M1236.5 255V263M1240.5 259V269M1241.5 256V269M1251.5 208V212M1257.5 259V265M1262.5 258V264M1263.5 255V264M1271.5 259V269M1272.5 255V273M1276.5 256V262M1283.5 257V268M1286.5 206V212M1299.5 257V259M1300.5 246V276M1310.5 257V258M1313.5 256V272M1315.5 192V212" stroke="#d0283c" stroke-width="1" fill="none"/><path d="M535.5 203V214M536.5 193V214M540.5 259V271M553.5 257V264M554.5 198V212M556.5 196V209M568.5 259V264M570.5 191V211M572.5 254V264M579.5 256V257M592.5 207V211M592.5 256V258M594.5 187V213M594.5 254V290M597.5 201V213M607.5 202V208M608.5 202V213M626.5 200V207M626.5 256V268M627.5 200V212M627.5 254V291M645.5 254V268M660.5 208V214M660.5 258V271M664.5 204V210M664.5 258V265M667.5 198V208M667.5 257V260M676.5 206V210M693.5 255V257M699.5 254V268M700.5 259V270M701.5 254V270M704.5 254V272M710.5 255V263M719.5 208V211M719.5 254V255M720.5 208V212M720.5 253V257M721.5 196V209M734.5 258V264M735.5 257V264M740.5 256V266M742.5 199V212M746.5 255V260M759.5 256V265M777.5 256V279M786.5 192V209M789.5 245V271M793.5 255V259M800.5 198V212M801.5 200V210M801.5 254V260M804.5 205V212M805.5 205V211M816.5 201V211M823.5 206V209M831.5 256V261M832.5 180V213M833.5 180V212M838.5 254V255M840.5 209V210M840.5 258V260M841.5 256V264M848.5 255V257M849.5 195V211M856.5 258V275M863.5 205V214M878.5 195V210M884.5 258V295M890.5 208V211M910.5 206V213M917.5 255V268M919.5 201V212M921.5 257V258M929.5 209V211M934.5 255V261M952.5 258V275M956.5 257V258M960.5 203V213M961.5 203V212M964.5 203V208M965.5 258V262M972.5 204V214M974.5 255V263M978.5 185V209M993.5 257V275M1000.5 259V266M1002.5 204V207M1024.5 208V211M1024.5 254V263M1032.5 254V261M1040.5 206V209M1040.5 254V264M1042.5 254V259M1044.5 210V212M1047.5 200V213M1054.5 208V213M1054.5 259V267M1057.5 206V207M1059.5 255V264M1064.5 188V212M1064.5 254V267M1068.5 197V212M1074.5 256V261M1082.5 257V270M1094.5 187V213M1097.5 256V257M1098.5 207V209M1098.5 256V261M1103.5 203V209M1104.5 203V210M1110.5 199V209M1113.5 259V262M1120.5 211V212M1120.5 257V267M1121.5 258V267M1125.5 254V276M1127.5 257V266M1149.5 255V261M1152.5 211V214M1152.5 254V272M1153.5 249V261M1154.5 201V213M1154.5 257V260M1157.5 258V271M1183.5 254V260M1184.5 255V260M1186.5 206V211M1190.5 200V207M1190.5 258V265M1199.5 258V275M1200.5 199V207M1200.5 256V257M1212.5 203V209M1212.5 256V260M1213.5 259V262M1214.5 257V262M1215.5 255V261M1227.5 194V212M1229.5 256V266M1236.5 255V256M1237.5 211V213M1238.5 257V261M1243.5 186V211M1248.5 255V255M1249.5 211V214M1250.5 210V211M1253.5 208V210M1254.5 259V272M1269.5 257V265M1270.5 206V210M1270.5 258V265M1273.5 255V276M1285.5 206V209M1286.5 206V211M1286.5 259V275M1290.5 205V212M1292.5 207V210M1294.5 207V211M1295.5 255V256M1301.5 208V211M1307.5 257V269M1308.5 258V263M1315.5 253V263M1316.5 259V263" stroke="#30bca8" stroke-width="1" fill="none"/><path d="M532.5 255V265M535.5 256V264M537.5 203V213M544.5 254V264M553.5 258V276M554.5 195V212M557.5 255V267M563.5 256V261M572.5 205V213M573.5 258V262M581.5 255V271M582.5 210V213M582.5 254V271M585.5 212V214M593.5 257V268M605.5 206V213M605.5 254V261M617.5 259V264M618.5 198V208M642.5 201V212M647.5 258V269M648.5 202V211M648.5 258V269M651.5 205V213M651.5 256V262M653.5 209V212M656.5 258V272M658.5 253V258M669.5 192V208M689.5 200V210M690.5 210V213M690.5 255V269M698.5 258V284M709.5 201V213M718.5 255V256M719.5 189V212M719.5 253V256M723.5 254V265M724.5 256V259M726.5 209V211M727.5 205V209M728.5 259V263M748.5 201V213M749.5 254V266M754.5 255V259M766.5 209V213M767.5 257V271M780.5 253V267M781.5 256V267M784.5 254V274M798.5 203V208M798.5 257V263M803.5 209V211M803.5 255V258M804.5 256V266M805.5 209V212M807.5 254V274M814.5 258V283M815.5 259V288M820.5 259V260M828.5 204V212M835.5 259V261M838.5 254V256M849.5 256V258M851.5 253V270M855.5 259V260M858.5 186V213M869.5 257V267M872.5 256V276M873.5 257V274M884.5 257V267M888.5 201V212M888.5 258V274M901.5 200V209M901.5 254V263M910.5 197V213M910.5 256V269M911.5 197V211M912.5 203V212M912.5 256V277M913.5 254V277M916.5 206V213M932.5 206V208M935.5 254V260M939.5 199V212M939.5 259V263M942.5 256V269M943.5 203V209M951.5 196V212M970.5 205V212M970.5 257V272M971.5 203V209M972.5 205V213M972.5 255V267M989.5 200V210M991.5 257V262M995.5 255V262M998.5 204V208M1004.5 196V208M1004.5 254V264M1005.5 254V264M1007.5 203V208M1010.5 255V263M1011.5 196V209M1015.5 208V209M1018.5 205V211M1018.5 257V269M1019.5 205V210M1019.5 256V277M1020.5 184V214M1020.5 256V277M1032.5 254V271M1035.5 204V212M1040.5 254V257M1047.5 258V266M1053.5 202V210M1058.5 208V211M1058.5 258V259M1066.5 257V277M1073.5 254V256M1079.5 255V278M1080.5 208V214M1085.5 203V214M1085.5 256V273M1091.5 204V210M1092.5 204V208M1092.5 254V259M1098.5 256V269M1106.5 199V212M1111.5 256V261M1113.5 259V276M1117.5 258V272M1123.5 208V213M1125.5 254V268M1135.5 258V264M1150.5 254V265M1152.5 254V262M1173.5 257V268M1194.5 205V211M1197.5 203V209M1201.5 258V273M1207.5 196V211M1207.5 257V264M1216.5 259V265M1218.5 203V213M1223.5 193V208M1232.5 210V211M1235.5 198V212M1240.5 184V213M1251.5 207V212M1258.5 254V275M1269.5 201V213M1273.5 255V256M1275.5 254V278M1277.5 258V268M1282.5 254V259M1283.5 196V209M1283.5 258V264M1288.5 253V262M1297.5 204V210M1299.5 259V261M1306.5 254V256M1313.5 198V210M1314.5 254V259" stroke="#c8622a" stroke-width="1" fill="none"/><path d="M550.5 192V209M551.5 257V269M556.5 255V272M559.5 257V270M561.5 257V273M568.5 201V209M575.5 259V260M580.5 208V211M580.5 259V287M585.5 207V214M587.5 257V280M597.5 210V214M597.5 254V257M604.5 256V266M607.5 204V208M613.5 256V263M614.5 208V212M627.5 197V212M628.5 203V212M628.5 255V275M630.5 185V208M630.5 257V257M632.5 257V263M646.5 257V270M659.5 254V272M664.5 197V210M667.5 256V276M668.5 209V210M672.5 206V211M673.5 258V274M678.5 209V212M686.5 210V211M689.5 255V258M691.5 253V278M699.5 254V257M701.5 199V208M708.5 205V213M709.5 205V214M709.5 258V276M714.5 209V213M716.5 192V211M716.5 256V266M719.5 210V212M721.5 197V208M721.5 257V276M732.5 192V213M732.5 258V261M733.5 254V281M735.5 257V268M740.5 257V278M748.5 253V263M755.5 257V259M759.5 200V212M765.5 256V268M782.5 205V209M786.5 255V266M799.5 202V208M800.5 202V212M800.5 259V264M802.5 193V213M804.5 206V212M804.5 256V260M813.5 253V303M814.5 201V212M816.5 255V264M823.5 207V209M823.5 256V260M824.5 257V260M828.5 195V211M828.5 258V279M831.5 208V210M831.5 256V271M835.5 259V278M837.5 254V262M845.5 254V273M851.5 254V256M853.5 256V287M859.5 190V210M863.5 205V213M864.5 206V212M868.5 254V267M870.5 194V211M870.5 254V275M873.5 196V207M873.5 257V274M874.5 256V274M875.5 255V265M876.5 204V207M876.5 258V270M881.5 160V212M881.5 254V255M895.5 254V265M902.5 256V279M916.5 254V260M920.5 257V274M926.5 175V212M926.5 256V270M928.5 204V211M928.5 255V271M940.5 205V207M950.5 182V209M955.5 255V266M961.5 254V269M980.5 185V211M980.5 255V257M987.5 205V213M987.5 259V262M991.5 201V214M991.5 256V260M996.5 259V279M997.5 257V279M1003.5 194V207M1007.5 255V258M1010.5 255V265M1025.5 194V212M1026.5 256V279M1028.5 192V209M1032.5 255V267M1038.5 200V208M1038.5 259V273M1046.5 255V259M1056.5 207V208M1056.5 255V263M1057.5 257V263M1060.5 199V209M1068.5 254V271M1070.5 189V214M1072.5 192V212M1072.5 257V276M1075.5 211V213M1077.5 207V212M1084.5 204V212M1091.5 257V273M1092.5 254V260M1099.5 254V260M1113.5 187V213M1114.5 187V209M1115.5 208V210M1118.5 205V211M1125.5 212V213M1125.5 254V261M1140.5 256V258M1141.5 200V213M1141.5 255V267M1145.5 195V208M1146.5 204V214M1162.5 210V213M1163.5 258V269M1164.5 209V209M1167.5 254V268M1168.5 201V212M1168.5 256V272M1170.5 259V282M1171.5 207V212M1171.5 256V282M1177.5 182V212M1177.5 256V258M1186.5 210V211M1192.5 183V212M1193.5 198V213M1194.5 253V267M1195.5 258V265M1206.5 256V265M1207.5 257V258M1208.5 205V213M1215.5 201V209M1215.5 255V271M1217.5 256V271M1222.5 257V273M1223.5 185V209M1223.5 256V257M1228.5 185V211M1228.5 254V259M1231.5 258V262M1241.5 201V212M1241.5 257V265M1242.5 201V208M1249.5 258V265M1252.5 257V265M1253.5 200V209M1253.5 256V265M1254.5 200V207M1259.5 259V260M1267.5 208V209M1295.5 256V263M1297.5 255V256M1303.5 257V273M1312.5 255V268M1313.5 257V268M1315.5 200V213" stroke="#5d65e6" stroke-width="1" fill="none"/><path d="M546.5 202V212M546.5 257V279M556.5 255V265M565.5 192V209M565.5 258V268M568.5 208V210M568.5 259V266M573.5 258V271M576.5 256V262M580.5 204V211M587.5 197V208M588.5 197V210M593.5 257V261M596.5 204V211M596.5 254V273M606.5 256V266M607.5 254V262M608.5 259V260M610.5 205V211M610.5 253V263M623.5 198V212M624.5 256V263M626.5 256V259M629.5 258V272M630.5 256V257M638.5 207V211M639.5 255V271M640.5 204V213M640.5 254V279M641.5 258V260M644.5 209V211M644.5 257V264M655.5 204V210M658.5 194V211M660.5 181V214M665.5 207V212M677.5 254V255M679.5 255V259M683.5 254V261M694.5 256V270M702.5 210V212M702.5 259V260M705.5 255V258M713.5 209V211M719.5 203V212M719.5 253V277M730.5 255V260M736.5 255V258M743.5 256V266M744.5 256V259M765.5 256V266M772.5 208V209M775.5 208V209M796.5 257V299M800.5 259V266M803.5 194V210M804.5 194V212M837.5 254V258M839.5 196V211M847.5 196V208M860.5 258V278M864.5 259V282M865.5 255V262M866.5 255V262M870.5 207V212M875.5 255V256M890.5 255V258M900.5 211V213M905.5 255V261M924.5 257V293M926.5 210V212M926.5 256V266M928.5 199V211M929.5 199V211M932.5 196V208M936.5 258V281M941.5 254V266M943.5 256V264M948.5 201V208M948.5 255V273M952.5 211V212M952.5 259V259M966.5 204V208M966.5 254V271M975.5 186V208M975.5 257V272M980.5 255V262M999.5 255V256M1005.5 254V272M1013.5 254V257M1023.5 254V272M1032.5 204V207M1040.5 255V264M1042.5 202V208M1042.5 255V260M1051.5 256V273M1057.5 201V207M1060.5 254V263M1072.5 208V212M1072.5 257V280M1074.5 257V258M1079.5 194V212M1080.5 203V213M1086.5 255V260M1087.5 190V213M1087.5 258V260M1090.5 188V212M1096.5 209V214M1110.5 208V209M1114.5 206V209M1117.5 258V263M1126.5 257V262M1127.5 258V273M1129.5 258V261M1132.5 259V264M1133.5 254V262M1134.5 254V262M1138.5 254V274M1155.5 204V210M1162.5 210V213M1162.5 258V277M1177.5 211V212M1178.5 256V280M1181.5 207V212M1181.5 255V258M1182.5 259V260M1199.5 257V288M1201.5 258V267M1211.5 210V211M1217.5 256V259M1218.5 204V213M1218.5 258V259M1220.5 204V213M1221.5 257V261M1225.5 207V212M1235.5 195V212M1243.5 256V273M1246.5 255V257M1247.5 255V293M1248.5 255V268M1249.5 198V214M1253.5 256V259M1264.5 258V266M1270.5 258V272M1271.5 258V262M1272.5 184V210M1277.5 208V210M1277.5 259V265M1279.5 208V210M1298.5 208V210M1303.5 201V213M1304.5 257V260M1308.5 208V209M1316.5 258V273" stroke="#cc3355" stroke-width="1" fill="none"/><path d="M532.5 255V260M534.5 190V210M537.5 206V213M537.5 255V259M547.5 255V269M549.5 255V268M551.5 208V211M551.5 257V267M563.5 198V209M570.5 207V212M570.5 257V264M572.5 255V256M580.5 259V270M587.5 257V259M590.5 257V260M592.5 256V262M594.5 206V213M594.5 254V263M600.5 199V210M601.5 205V211M610.5 253V256M613.5 206V212M613.5 256V271M615.5 185V210M616.5 190V212M622.5 256V268M637.5 256V271M644.5 256V259M645.5 201V212M662.5 207V209M668.5 207V210M676.5 200V209M678.5 209V213M678.5 256V269M680.5 258V281M684.5 259V278M694.5 256V259M708.5 206V213M710.5 207V210M713.5 255V271M716.5 204V212M717.5 208V208M728.5 258V259M732.5 209V213M732.5 258V277M733.5 255V279M734.5 258V279M738.5 211V213M741.5 258V261M753.5 256V262M764.5 254V264M773.5 255V282M774.5 206V213M776.5 206V208M776.5 259V267M779.5 193V209M779.5 256V269M780.5 200V209M780.5 254V269M787.5 256V257M788.5 254V266M793.5 255V276M804.5 256V258M807.5 196V208M809.5 255V261M817.5 254V272M822.5 254V262M826.5 255V303M827.5 255V303M830.5 185V209M830.5 255V263M832.5 208V213M844.5 255V260M862.5 207V211M862.5 256V262M864.5 205V212M872.5 257V276M873.5 197V208M873.5 257V273M875.5 210V212M875.5 255V261M885.5 254V256M904.5 211V213M906.5 198V208M909.5 195V208M910.5 256V271M918.5 199V208M919.5 255V256M920.5 258V276M927.5 200V208M933.5 207V210M939.5 210V211M956.5 257V266M959.5 207V208M973.5 203V210M987.5 259V261M996.5 259V266M1001.5 254V267M1006.5 200V211M1009.5 256V265M1013.5 254V255M1014.5 201V208M1014.5 254V262M1018.5 248V263M1027.5 207V210M1037.5 201V207M1038.5 197V208M1040.5 255V272M1041.5 255V257M1046.5 201V213M1047.5 201V213M1047.5 259V283M1050.5 206V212M1050.5 257V268M1057.5 257V262M1059.5 255V274M1061.5 255V260M1068.5 254V271M1077.5 210V212M1100.5 244V257M1101.5 258V268M1117.5 194V209M1121.5 258V268M1128.5 257V261M1138.5 254V255M1139.5 255V259M1140.5 193V211M1140.5 256V259M1145.5 207V208M1150.5 206V208M1150.5 254V274M1151.5 206V209M1170.5 259V275M1182.5 259V265M1186.5 209V211M1197.5 257V263M1201.5 257V268M1203.5 259V260M1211.5 208V210M1218.5 258V265M1228.5 254V258M1229.5 255V270M1237.5 203V213M1238.5 203V208M1238.5 257V258M1246.5 254V257M1250.5 199V212M1250.5 255V263M1267.5 259V263M1278.5 203V213M1286.5 203V211M1296.5 198V208M1299.5 201V209M1301.5 256V264M1302.5 201V209M1302.5 258V270M1312.5 202V209" stroke="#6aa838" stroke-width="1" fill="none"/><path d="M536.5 208V213M544.5 184V212M549.5 204V214M549.5 254V263M559.5 200V213M565.5 259V262M567.5 192V214M571.5 256V303M589.5 254V270M590.5 257V270M598.5 211V212M604.5 256V261M606.5 195V211M613.5 190V211M614.5 209V213M619.5 258V265M620.5 211V212M622.5 206V213M622.5 255V259M627.5 200V212M627.5 255V266M629.5 202V210M631.5 258V265M635.5 258V267M636.5 258V274M645.5 188V213M645.5 254V294M646.5 188V207M646.5 257V270M650.5 255V260M654.5 257V263M655.5 207V210M658.5 181V210M658.5 254V265M659.5 255V265M671.5 258V262M676.5 259V263M677.5 188V208M677.5 254V268M678.5 199V212M678.5 256V268M692.5 206V210M695.5 260V267M697.5 211V212M698.5 213V214M700.5 259V261M702.5 259V278M706.5 204V213M709.5 207V213M709.5 258V265M711.5 205V210M724.5 180V208M724.5 256V280M733.5 254V296M737.5 256V264M739.5 259V282M740.5 256V282M741.5 190V212M741.5 259V262M750.5 203V210M751.5 180V208M757.5 200V208M768.5 202V210M769.5 254V257M777.5 184V211M780.5 253V283M793.5 255V271M794.5 196V212M796.5 206V213M803.5 255V278M809.5 200V208M811.5 198V207M811.5 257V266M812.5 256V266M813.5 204V211M816.5 208V212M833.5 189V212M845.5 254V264M848.5 206V212M852.5 258V273M854.5 254V275M855.5 180V211M858.5 204V212M858.5 255V259M860.5 191V207M867.5 258V259M869.5 203V210M869.5 257V265M878.5 207V210M878.5 257V288M883.5 201V209M885.5 255V271M894.5 259V272M895.5 253V256M904.5 209V212M904.5 254V260M912.5 255V257M918.5 259V267M922.5 255V289M926.5 198V212M926.5 256V259M946.5 172V209M949.5 255V279M951.5 192V212M952.5 192V212M954.5 259V271M956.5 178V208M957.5 254V261M969.5 206V212M971.5 208V210M971.5 254V262M975.5 197V208M981.5 206V212M982.5 197V211M982.5 257V272M996.5 259V269M1009.5 198V210M1009.5 256V260M1011.5 194V209M1011.5 259V267M1028.5 255V263M1029.5 258V263M1036.5 194V210M1037.5 255V261M1044.5 254V256M1045.5 208V210M1045.5 255V264M1061.5 255V264M1066.5 256V264M1067.5 258V273M1070.5 195V214M1073.5 254V303M1075.5 259V269M1082.5 189V209M1082.5 256V269M1087.5 258V277M1088.5 207V214M1090.5 256V272M1092.5 198V208M1092.5 255V282M1099.5 254V257M1102.5 186V208M1102.5 259V282M1104.5 256V259M1108.5 254V263M1112.5 255V272M1120.5 206V222M1127.5 190V209M1129.5 179V211M1134.5 187V213M1134.5 254V289M1137.5 255V259M1138.5 254V259M1149.5 201V210M1149.5 255V262M1153.5 259V277M1154.5 212V213M1156.5 208V213M1157.5 208V212M1164.5 209V210M1164.5 255V265M1166.5 255V267M1168.5 204V212M1168.5 255V267M1170.5 207V211M1170.5 259V260M1172.5 206V210M1173.5 257V259M1174.5 255V259M1176.5 257V280M1193.5 197V213M1197.5 189V219M1201.5 258V276M1208.5 196V213M1211.5 207V211M1211.5 256V264M1212.5 196V210M1212.5 255V264M1214.5 248V272M1221.5 206V210M1221.5 258V275M1224.5 206V211M1225.5 194V213M1228.5 200V211M1233.5 206V212M1237.5 211V213M1247.5 162V210M1247.5 256V272M1249.5 168V214M1249.5 257V261M1252.5 209V211M1252.5 257V276M1261.5 212V213M1267.5 205V210M1268.5 205V208M1270.5 258V264M1285.5 196V209M1287.5 257V272M1289.5 257V267M1292.5 201V210M1297.5 188V210M1304.5 190V208M1310.5 194V210" stroke="#a83cc8" stroke-width="1" fill="none"/><path d="M533.5 253V256M534.5 255V266M548.5 209V210M549.5 201V214M568.5 259V262M570.5 258V268M577.5 259V268M581.5 255V256M582.5 208V213M584.5 206V210M588.5 209V210M588.5 258V272M592.5 198V211M598.5 210V213M600.5 255V265M613.5 185V212M617.5 260V260M620.5 200V212M627.5 201V213M634.5 201V208M646.5 257V264M662.5 208V209M662.5 256V271M668.5 206V210M683.5 189V210M687.5 198V207M692.5 199V211M699.5 204V212M699.5 254V260M704.5 254V262M707.5 258V263M726.5 206V211M729.5 257V272M732.5 209V213M736.5 209V211M736.5 255V265M738.5 256V275M741.5 259V283M745.5 256V279M746.5 255V279M754.5 204V208M767.5 257V259M771.5 256V258M802.5 256V262M806.5 258V261M811.5 190V207M811.5 257V259M816.5 256V272M819.5 195V208M822.5 254V286M823.5 205V209M824.5 205V208M826.5 197V207M858.5 254V265M865.5 255V282M869.5 208V210M877.5 200V211M877.5 254V259M890.5 255V270M898.5 198V209M902.5 197V209M910.5 256V259M912.5 212V212M915.5 254V266M919.5 256V257M924.5 203V208M954.5 204V210M956.5 206V208M961.5 255V258M962.5 257V258M969.5 196V213M969.5 255V256M970.5 209V211M978.5 205V209M978.5 254V260M983.5 203V211M986.5 254V283M987.5 259V262M991.5 210V213M995.5 190V212M998.5 258V263M1009.5 208V210M1009.5 256V261M1013.5 254V277M1024.5 204V210M1037.5 254V260M1039.5 199V213M1042.5 175V209M1042.5 254V255M1058.5 198V212M1058.5 257V265M1059.5 255V265M1062.5 203V210M1062.5 258V274M1069.5 188V209M1069.5 254V271M1070.5 188V214M1073.5 193V210M1073.5 254V259M1085.5 256V279M1093.5 209V212M1093.5 255V257M1102.5 208V209M1104.5 256V271M1110.5 187V209M1115.5 208V210M1124.5 202V211M1135.5 202V208M1138.5 208V212M1140.5 206V211M1141.5 255V260M1151.5 203V209M1167.5 253V255M1200.5 203V207M1200.5 256V259M1202.5 255V269M1223.5 257V269M1228.5 205V212M1234.5 256V262M1236.5 190V211M1256.5 194V207M1256.5 258V262M1257.5 258V262M1263.5 209V211M1265.5 202V213M1267.5 203V209M1278.5 207V213M1279.5 257V267M1291.5 256V274M1298.5 259V278M1303.5 188V213M1313.5 256V257" stroke="#2a9a72" stroke-width="1" fill="none"/><path d="M533.5 190V210M539.5 201V213M542.5 192V207M545.5 258V273M550.5 256V277M560.5 257V265M562.5 255V258M563.5 257V259M565.5 183V208M565.5 259V264M580.5 200V211M584.5 255V270M585.5 206V213M590.5 201V208M592.5 255V265M595.5 254V274M596.5 211V212M596.5 253V275M598.5 196V213M614.5 211V212M624.5 196V207M626.5 206V207M633.5 205V208M633.5 258V283M638.5 259V269M646.5 257V260M657.5 204V211M657.5 256V269M658.5 204V210M665.5 207V213M667.5 256V276M675.5 255V260M678.5 203V212M678.5 257V265M685.5 207V212M688.5 256V267M692.5 209V210M693.5 207V213M704.5 254V271M708.5 258V270M718.5 193V220M722.5 257V258M726.5 208V211M730.5 207V210M732.5 207V213M744.5 257V267M748.5 253V270M749.5 194V212M750.5 194V210M768.5 258V262M781.5 211V212M789.5 254V256M796.5 256V260M797.5 255V258M804.5 204V213M815.5 199V211M817.5 255V263M834.5 255V256M839.5 197V212M843.5 197V211M845.5 254V261M846.5 257V261M848.5 203V221M857.5 255V262M868.5 185V213M868.5 254V257M872.5 196V212M873.5 196V208M873.5 257V266M874.5 256V266M876.5 257V261M879.5 201V211M881.5 210V212M883.5 197V209M883.5 255V283M890.5 184V211M890.5 254V257M898.5 204V209M898.5 259V272M904.5 253V260M905.5 207V212M913.5 254V275M927.5 259V271M931.5 257V276M934.5 182V212M942.5 256V263M953.5 255V258M955.5 254V272M959.5 258V262M975.5 257V266M980.5 255V258M981.5 259V264M983.5 209V212M986.5 207V208M986.5 255V267M987.5 258V267M990.5 255V280M1004.5 254V257M1005.5 204V208M1005.5 255V257M1029.5 207V208M1029.5 258V261M1033.5 204V208M1036.5 204V210M1039.5 208V214M1040.5 207V209M1043.5 259V284M1046.5 203V214M1046.5 254V269M1068.5 206V212M1068.5 255V258M1069.5 205V209M1070.5 211V214M1081.5 203V210M1083.5 206V207M1090.5 205V212M1092.5 200V209M1092.5 254V264M1099.5 209V213M1099.5 254V257M1106.5 257V260M1112.5 256V256M1122.5 253V264M1130.5 195V208M1136.5 259V262M1138.5 204V213M1139.5 204V209M1139.5 254V260M1140.5 255V260M1144.5 205V207M1144.5 257V269M1145.5 257V268M1146.5 207V213M1146.5 256V265M1147.5 207V210M1151.5 254V257M1172.5 258V263M1173.5 202V209M1173.5 257V263M1175.5 258V260M1183.5 255V276M1192.5 211V212M1194.5 253V254M1196.5 202V210M1204.5 257V262M1207.5 257V264M1211.5 208V211M1215.5 205V208M1216.5 258V268M1218.5 258V260M1227.5 259V272M1234.5 256V269M1241.5 257V266M1255.5 259V260M1258.5 253V261M1261.5 254V268M1262.5 186V211M1271.5 205V210M1275.5 202V210M1275.5 255V266M1281.5 210V212M1281.5 255V257M1285.5 200V209M1290.5 207V211M1291.5 207V211M1293.5 204V212M1295.5 196V208M1298.5 210V210M1313.5 185V210" stroke="#a8282e" stroke-width="1" fill="none"/><path d="M537.5 198V213M541.5 205V210M541.5 255V271M560.5 207V213M568.5 259V262M572.5 255V256M576.5 255V287M583.5 192V212M588.5 257V273M589.5 253V276M593.5 211V213M593.5 257V264M600.5 175V210M600.5 254V271M615.5 197V210M616.5 200V211M619.5 193V208M627.5 181V213M627.5 254V268M633.5 196V208M635.5 258V264M652.5 255V260M655.5 191V209M655.5 259V292M658.5 253V268M661.5 209V212M661.5 257V269M662.5 257V273M663.5 256V266M670.5 209V209M670.5 257V267M671.5 205V210M671.5 258V267M677.5 198V208M681.5 206V208M681.5 259V279M684.5 259V264M685.5 206V212M690.5 256V275M691.5 254V275M694.5 178V209M697.5 246V257M701.5 199V209M703.5 206V210M704.5 253V262M709.5 173V212M724.5 206V208M724.5 257V263M725.5 259V260M728.5 181V211M728.5 259V263M729.5 258V263M733.5 254V278M740.5 256V263M741.5 259V275M748.5 211V213M749.5 255V260M755.5 207V209M761.5 200V208M765.5 208V213M765.5 255V282M772.5 254V258M773.5 255V260M777.5 205V210M784.5 255V268M786.5 209V209M786.5 256V288M793.5 256V260M798.5 195V209M798.5 256V284M802.5 256V270M805.5 259V270M812.5 200V210M813.5 202V212M817.5 209V211M820.5 184V210M821.5 257V273M826.5 254V271M829.5 255V268M834.5 254V256M836.5 177V211M836.5 254V262M837.5 177V213M837.5 253V268M843.5 208V211M845.5 200V207M845.5 255V280M850.5 259V287M856.5 258V274M858.5 199V212M864.5 259V259M871.5 205V210M876.5 257V276M877.5 253V258M878.5 200V210M881.5 183V212M882.5 203V212M882.5 255V269M886.5 256V260M887.5 255V260M893.5 202V213M893.5 255V274M894.5 192V212M895.5 205V212M896.5 201V213M898.5 203V209M905.5 184V211M906.5 254V263M907.5 183V207M908.5 204V211M915.5 194V208M916.5 253V257M918.5 208V209M918.5 258V276M926.5 192V212M926.5 256V258M928.5 255V269M935.5 254V258M939.5 259V261M942.5 196V213M948.5 255V283M961.5 212V213M967.5 198V209M970.5 256V265M973.5 187V209M989.5 194V211M990.5 194V211M990.5 254V259M997.5 256V271M999.5 194V212M1002.5 255V257M1009.5 256V280M1010.5 254V280M1013.5 206V209M1014.5 254V267M1017.5 198V211M1036.5 205V210M1036.5 259V272M1037.5 255V272M1041.5 203V208M1042.5 205V209M1042.5 254V263M1045.5 190V211M1045.5 255V279M1050.5 209V213M1053.5 258V273M1056.5 255V262M1057.5 201V207M1063.5 257V267M1064.5 254V267M1065.5 255V261M1066.5 256V261M1071.5 256V270M1073.5 255V267M1085.5 257V258M1089.5 202V208M1089.5 254V259M1101.5 190V212M1101.5 257V265M1102.5 190V209M1104.5 199V210M1105.5 199V208M1105.5 257V264M1110.5 201V209M1118.5 205V211M1121.5 194V213M1121.5 259V270M1123.5 259V278M1124.5 181V211M1124.5 254V278M1133.5 211V213M1142.5 201V211M1142.5 258V271M1149.5 195V210M1151.5 255V263M1159.5 254V260M1162.5 257V268M1174.5 202V211M1174.5 256V288M1180.5 255V257M1184.5 200V212M1184.5 255V271M1191.5 257V270M1195.5 205V211M1195.5 258V277M1197.5 197V209M1203.5 195V209M1204.5 257V284M1206.5 256V258M1207.5 199V211M1210.5 255V262M1213.5 199V209M1214.5 257V284M1223.5 206V208M1225.5 258V278M1235.5 207V212M1239.5 257V267M1240.5 181V212M1244.5 254V256M1251.5 257V273M1256.5 258V261M1261.5 204V213M1267.5 259V264M1272.5 201V210M1272.5 255V265M1273.5 203V212M1275.5 254V259M1279.5 257V269M1284.5 257V289M1286.5 259V274M1293.5 256V265M1295.5 193V209M1295.5 255V270M1300.5 200V212M1300.5 255V283M1303.5 258V268M1304.5 257V262M1316.5 204V209M1316.5 258V264" stroke="#7a34e0" stroke-width="1" fill="none"/><path d="M537.5 200V213M537.5 254V289M544.5 194V213M547.5 256V272M548.5 202V210M548.5 254V264M551.5 204V211M552.5 255V263M555.5 259V267M556.5 205V209M556.5 255V267M560.5 257V264M563.5 257V286M566.5 205V210M570.5 257V263M572.5 254V257M573.5 202V214M573.5 257V268M574.5 202V213M584.5 199V210M587.5 199V207M594.5 178V213M594.5 254V291M602.5 254V259M605.5 182V213M605.5 254V258M618.5 188V208M618.5 258V261M621.5 193V212M621.5 253V278M622.5 213V214M622.5 255V278M624.5 183V207M637.5 256V288M638.5 258V288M640.5 255V255M642.5 259V263M649.5 168V209M651.5 257V261M655.5 193V210M655.5 259V270M657.5 257V284M659.5 254V272M678.5 256V259M691.5 207V209M691.5 254V255M696.5 258V284M697.5 255V277M698.5 204V214M698.5 257V286M699.5 199V211M699.5 255V286M700.5 190V211M700.5 258V261M705.5 204V209M706.5 204V214M729.5 208V209M741.5 201V211M742.5 193V211M743.5 193V213M751.5 202V209M756.5 187V213M767.5 257V264M769.5 204V210M770.5 204V209M778.5 204V211M778.5 257V266M784.5 255V256M795.5 197V212M801.5 195V210M801.5 254V282M804.5 210V213M804.5 255V283M806.5 258V284M810.5 256V259M811.5 257V272M812.5 170V211M812.5 256V272M818.5 206V211M819.5 202V208M820.5 204V210M820.5 258V262M824.5 203V209M824.5 257V274M825.5 254V259M833.5 206V212M836.5 209V211M837.5 210V213M847.5 255V265M848.5 255V256M852.5 212V213M852.5 258V271M861.5 202V210M861.5 257V266M866.5 255V262M868.5 212V213M868.5 254V260M871.5 254V270M875.5 186V212M876.5 186V208M876.5 257V270M878.5 191V210M878.5 257V289M884.5 194V208M897.5 258V267M901.5 194V209M905.5 203V211M906.5 254V260M908.5 208V211M910.5 199V213M910.5 256V260M917.5 197V207M918.5 197V209M928.5 193V211M930.5 204V207M932.5 257V277M935.5 254V256M942.5 256V266M947.5 205V210M953.5 246V280M956.5 207V208M956.5 257V270M958.5 188V211M968.5 203V212M968.5 255V258M969.5 254V258M975.5 257V262M979.5 207V212M982.5 180V212M983.5 256V257M987.5 206V213M991.5 190V213M992.5 202V210M993.5 202V213M993.5 257V261M996.5 206V210M1008.5 256V272M1017.5 256V264M1018.5 258V280M1019.5 209V211M1020.5 211V213M1024.5 185V211M1024.5 254V258M1025.5 185V213M1025.5 255V260M1032.5 254V273M1035.5 188V213M1035.5 259V277M1036.5 188V211M1043.5 204V210M1044.5 210V212M1044.5 255V271M1049.5 207V213M1049.5 257V265M1059.5 196V211M1059.5 255V277M1060.5 201V209M1060.5 253V275M1064.5 254V255M1068.5 210V213M1068.5 254V282M1069.5 254V282M1078.5 187V208M1083.5 258V271M1084.5 208V212M1084.5 258V261M1087.5 202V214M1089.5 254V267M1093.5 255V257M1100.5 198V212M1103.5 197V209M1103.5 255V257M1106.5 257V267M1108.5 200V207M1114.5 258V269M1116.5 196V211M1117.5 258V269M1127.5 258V272M1131.5 189V213M1131.5 258V276M1145.5 257V277M1150.5 207V209M1157.5 259V268M1158.5 258V268M1159.5 254V259M1160.5 257V269M1161.5 205V213M1161.5 257V258M1176.5 257V267M1179.5 209V213M1186.5 194V211M1189.5 202V213M1193.5 209V213M1193.5 255V258M1194.5 209V211M1195.5 257V273M1198.5 257V270M1200.5 190V208M1216.5 259V261M1220.5 257V274M1221.5 258V274M1225.5 257V262M1228.5 197V211M1230.5 213V214M1230.5 256V274M1236.5 254V259M1246.5 255V264M1253.5 187V210M1253.5 255V267M1254.5 259V263M1255.5 258V263M1269.5 211V213M1272.5 181V210M1279.5 257V266M1280.5 197V210M1280.5 258V272M1281.5 206V211M1292.5 258V260M1293.5 201V212M1295.5 255V280M1296.5 195V208M1297.5 186V211M1299.5 258V267M1301.5 209V212M1306.5 255V265M1309.5 206V207M1313.5 256V277M1315.5 254V272" stroke="#2a90d8" stroke-width="1" fill="none"/><path d="M541.5 208V210M541.5 256V261M555.5 203V210M563.5 256V263M582.5 198V213M583.5 198V211M590.5 206V208M597.5 255V259M598.5 256V259M607.5 191V209M610.5 254V254M617.5 191V208M618.5 186V208M618.5 258V261M619.5 186V208M636.5 204V211M638.5 259V263M654.5 256V270M661.5 257V271M667.5 203V209M670.5 208V210M675.5 190V208M676.5 259V259M683.5 183V209M684.5 183V208M691.5 202V209M691.5 253V263M693.5 192V214M694.5 192V210M704.5 254V255M716.5 255V268M722.5 191V212M726.5 210V211M744.5 257V278M745.5 256V289M752.5 196V209M756.5 212V213M762.5 188V210M775.5 254V256M776.5 259V271M779.5 257V271M782.5 199V209M782.5 255V262M791.5 202V213M794.5 198V212M794.5 259V279M797.5 254V262M799.5 257V261M810.5 255V276M828.5 205V211M829.5 190V208M835.5 204V208M838.5 254V272M839.5 255V259M845.5 254V265M849.5 209V211M864.5 206V212M878.5 257V262M889.5 259V275M890.5 255V263M895.5 253V265M896.5 191V212M896.5 256V268M900.5 195V212M900.5 259V260M920.5 200V208M921.5 200V212M922.5 210V212M957.5 254V280M960.5 209V213M960.5 255V260M963.5 256V261M969.5 255V267M970.5 257V278M975.5 256V261M978.5 254V258M990.5 255V258M994.5 256V258M997.5 256V257M1008.5 256V263M1014.5 187V208M1014.5 255V268M1020.5 211V214M1026.5 205V212M1027.5 206V210M1028.5 208V210M1036.5 260V260M1037.5 255V260M1046.5 197V213M1050.5 206V213M1055.5 256V278M1060.5 254V259M1062.5 203V210M1063.5 258V262M1071.5 193V213M1071.5 256V261M1073.5 255V271M1075.5 206V212M1076.5 206V213M1077.5 206V213M1077.5 257V262M1080.5 204V213M1081.5 255V267M1087.5 258V261M1094.5 199V213M1096.5 206V213M1103.5 200V209M1117.5 258V279M1141.5 208V213M1141.5 255V261M1145.5 257V267M1159.5 255V265M1160.5 256V264M1161.5 210V213M1166.5 254V264M1178.5 198V209M1186.5 254V260M1195.5 258V273M1197.5 256V273M1200.5 256V274M1201.5 207V210M1208.5 210V213M1214.5 196V212M1215.5 196V208M1222.5 204V210M1225.5 257V274M1237.5 258V261M1246.5 206V208M1248.5 204V210M1260.5 204V209M1263.5 254V255M1267.5 258V263M1278.5 206V213M1300.5 255V268M1302.5 204V210M1314.5 255V263M1315.5 254V256" stroke="#1b0a60" stroke-width="1" fill="none"/><path d="M533.5 254V262M551.5 256V262M552.5 256V274M557.5 255V288M560.5 203V214M562.5 198V208M562.5 256V268M567.5 199V213M571.5 211V213M578.5 188V209M578.5 258V261M587.5 199V208M587.5 257V275M588.5 199V211M588.5 256V258M592.5 256V262M593.5 196V212M594.5 254V256M596.5 205V211M596.5 254V259M597.5 210V214M597.5 254V271M604.5 209V211M607.5 254V272M619.5 206V208M624.5 203V208M624.5 256V280M625.5 259V270M631.5 197V209M633.5 258V283M640.5 255V261M658.5 201V211M663.5 207V211M669.5 198V208M669.5 256V270M677.5 208V208M698.5 258V259M711.5 200V210M712.5 200V212M718.5 208V211M722.5 257V257M724.5 200V208M724.5 256V259M764.5 253V267M774.5 255V265M777.5 202V211M778.5 208V211M778.5 257V260M796.5 185V213M809.5 199V208M810.5 202V211M810.5 256V261M811.5 257V268M815.5 198V221M822.5 208V209M827.5 208V211M831.5 256V261M853.5 187V208M853.5 256V259M855.5 259V281M859.5 192V211M861.5 258V277M864.5 259V267M865.5 255V263M870.5 201V211M870.5 255V263M875.5 209V212M876.5 258V273M880.5 259V261M891.5 210V212M891.5 255V259M899.5 256V271M903.5 190V211M913.5 254V256M918.5 201V208M933.5 255V278M950.5 203V209M953.5 197V210M955.5 254V281M963.5 206V208M964.5 195V209M965.5 258V274M992.5 200V209M1004.5 255V258M1010.5 196V212M1014.5 254V261M1015.5 206V210M1019.5 205V211M1021.5 255V263M1031.5 200V210M1048.5 200V210M1049.5 258V263M1059.5 254V293M1061.5 206V208M1071.5 256V266M1077.5 201V213M1089.5 254V280M1093.5 255V258M1100.5 253V258M1102.5 197V210M1110.5 259V277M1113.5 208V212M1113.5 259V271M1115.5 259V264M1121.5 210V213M1125.5 253V256M1135.5 257V259M1138.5 193V213M1147.5 194V211M1147.5 258V261M1148.5 205V211M1148.5 258V269M1152.5 198V214M1156.5 206V213M1160.5 257V259M1167.5 253V263M1168.5 208V213M1168.5 254V263M1169.5 206V207M1173.5 199V208M1177.5 205V212M1184.5 202V212M1185.5 199V210M1186.5 199V212M1186.5 254V262M1187.5 258V262M1191.5 256V265M1199.5 258V266M1211.5 256V266M1212.5 205V209M1222.5 257V259M1231.5 258V263M1238.5 257V258M1241.5 205V211M1248.5 255V258M1249.5 205V213M1249.5 258V264M1260.5 255V262M1267.5 207V209M1278.5 259V263M1279.5 256V268M1281.5 209V211M1287.5 208V210M1295.5 202V209M1302.5 258V274M1305.5 211V214M1316.5 259V272" stroke="#d8501e" stroke-width="1" fill="none"/><path d="M531.8 150V303.2H1316.4" stroke="#8c8c8c" stroke-width="1.3" fill="none"/></svg>
<div style="left:476.7px;top:152.3px;font-size:9.4px;line-height:12px;color:#555;font-weight:normal;width:50px;text-align:right;letter-spacing:-0.3px">3.00</div>
<div style="left:476.7px;top:177.7px;font-size:9.4px;line-height:12px;color:#555;font-weight:normal;width:50px;text-align:right;letter-spacing:-0.3px">2.00</div>
<div style="left:476.7px;top:203.1px;font-size:9.4px;line-height:12px;color:#555;font-weight:normal;width:50px;text-align:right;letter-spacing:-0.3px">1.00</div>
<div style="left:476.7px;top:228.4px;font-size:9.4px;line-height:12px;color:#555;font-weight:normal;width:50px;text-align:right;letter-spacing:-0.3px">0.00</div>
<div style="left:476.7px;top:253.8px;font-size:9.4px;line-height:12px;color:#555;font-weight:normal;width:50px;text-align:right;letter-spacing:-0.3px">-1.00</div>
<div style="left:476.7px;top:279.1px;font-size:9.4px;line-height:12px;color:#555;font-weight:normal;width:50px;text-align:right;letter-spacing:-0.3px">-2.00</div>
<div style="left:532.2px;top:306.0px;font-size:10.4px;line-height:14px;color:#555;font-weight:normal;">0.00</div>
<div style="left:590.3px;top:306.0px;font-size:10.4px;line-height:14px;color:#555;font-weight:normal;width:40px;text-align:center;">1.00</div>
<div style="left:668.8px;top:306.0px;font-size:10.4px;line-height:14px;color:#555;font-weight:normal;width:40px;text-align:center;">2.00</div>
<div style="left:747.3px;top:306.0px;font-size:10.4px;line-height:14px;color:#555;font-weight:normal;width:40px;text-align:center;">3.00</div>
<div style="left:825.8px;top:306.0px;font-size:10.4px;line-height:14px;color:#555;font-weight:normal;width:40px;text-align:center;">4.00</div>
<div style="left:904.3px;top:306.0px;font-size:10.4px;line-height:14px;color:#555;font-weight:normal;width:40px;text-align:center;">5.00</div>
<div style="left:982.8px;top:306.0px;font-size:10.4px;line-height:14px;color:#555;font-weight:normal;width:40px;text-align:center;">6.00</div>
<div style="left:1061.3px;top:306.0px;font-size:10.4px;line-height:14px;color:#555;font-weight:normal;width:40px;text-align:center;">7.00</div>
<div style="left:1139.8px;top:306.0px;font-size:10.4px;line-height:14px;color:#555;font-weight:normal;width:40px;text-align:center;">8.00</div>
<div style="left:1218.3px;top:306.0px;font-size:10.4px;line-height:14px;color:#555;font-weight:normal;width:40px;text-align:center;">9.00</div>
<div style="left:878.0px;top:321.0px;font-size:10.4px;line-height:14px;color:#555;font-weight:normal;width:80px;text-align:center;">Time(s)</div>
<div style="left:434.8px;top:224.5px;width:120px;height:14px;line-height:14px;font-size:10.6px;color:#555;text-align:center;transform:rotate(-90deg)">Record Waveform(Pa)</div>
<div style="left:489.3px;top:344.0px;font-size:12.2px;line-height:16px;color:#2b2b2b;font-weight:normal;">Data Viewer</div>
<svg style="left:1288px;top:345px" width="24" height="12" viewBox="0 0 24 12"><g fill="#555"><rect x="1.0" y="0.5" width="2.6" height="2.6" rx="0.5"/><rect x="1.0" y="4.1" width="2.6" height="2.6" rx="0.5"/><rect x="1.0" y="7.7" width="2.6" height="2.6" rx="0.5"/><rect x="4.6" y="0.5" width="2.6" height="2.6" rx="0.5"/><rect x="4.6" y="4.1" width="2.6" height="2.6" rx="0.5"/><rect x="4.6" y="7.7" width="2.6" height="2.6" rx="0.5"/><rect x="8.2" y="0.5" width="2.6" height="2.6" rx="0.5"/><rect x="8.2" y="4.1" width="2.6" height="2.6" rx="0.5"/><rect x="8.2" y="7.7" width="2.6" height="2.6" rx="0.5"/></g><path d="M17 5 L19 7 L21 5" stroke="#999" stroke-width="0.8" fill="none"/></svg>
<div style="left:592.5px;top:366.1px;font-size:10.6px;line-height:14px;color:#2b2b2b;font-weight:normal;width:200px;text-align:center;">LwA Spectrum</div>
<div style="left:820.6px;top:385.2px;width:7.6px;height:7.6px;border-radius:50%;background:#1b015c"></div>
<div style="left:831.6px;top:383.2px;font-size:9.6px;line-height:12px;color:#2b2b2b;font-weight:normal;letter-spacing:-0.2px">LwA Spectrum</div>
<svg style="left:0;top:0" width="1600" height="864"><path d="M539.0 397.5V567.8M559.5 397.5V567.8M574.0 397.5V567.8M585.3 397.5V567.8M594.6 397.5V567.8M602.4 397.5V567.8M609.1 397.5V567.8M615.1 397.5V567.8M655.5 397.5V567.8M676.0 397.5V567.8M690.5 397.5V567.8M701.8 397.5V567.8M711.1 397.5V567.8M718.9 397.5V567.8M725.6 397.5V567.8M731.6 397.5V567.8M772.0 397.5V567.8M792.5 397.5V567.8M807.0 397.5V567.8M818.3 397.5V567.8M827.6 397.5V567.8M835.4 397.5V567.8M842.1 397.5V567.8M848.1 397.5V567.8M888.5 397.5V567.8M538.2 556.4H898.0M538.2 545.1H898.0M538.2 533.7H898.0M538.2 522.4H898.0M538.2 499.7H898.0M538.2 488.3H898.0M538.2 477.0H898.0M538.2 465.6H898.0M538.2 442.9H898.0M538.2 431.6H898.0M538.2 420.2H898.0M538.2 408.9H898.0" stroke="#e3e3e3" stroke-width="1" fill="none"/><path d="M620.4 397.5V567.8M736.9 397.5V567.8M853.4 397.5V567.8M538.2 567.8H898.0M538.2 511.0H898.0M538.2 454.3H898.0M538.2 397.5H898.0" stroke="#bdbdbd" stroke-width="1.1" fill="none"/><rect x="539.2" y="511.0" width="9.9" height="52.5" fill="#1b015c"/><rect x="550.9" y="511.0" width="9.9" height="42.2" fill="#1b015c"/><rect x="562.6" y="511.0" width="9.9" height="28.5" fill="#1b015c"/><rect x="574.2" y="511.0" width="9.9" height="14.6" fill="#1b015c"/><rect x="585.9" y="511.0" width="9.9" height="6.2" fill="#1b015c"/><rect x="597.6" y="498.2" width="9.9" height="12.8" fill="#1b015c"/><rect x="609.3" y="480.5" width="9.9" height="30.5" fill="#1b015c"/><rect x="621.0" y="474.8" width="9.9" height="36.2" fill="#1b015c"/><rect x="632.7" y="461.9" width="9.9" height="49.2" fill="#1b015c"/><rect x="644.4" y="450.4" width="9.9" height="60.6" fill="#1b015c"/><rect x="656.1" y="442.1" width="9.9" height="68.9" fill="#1b015c"/><rect x="667.8" y="433.9" width="9.9" height="77.1" fill="#1b015c"/><rect x="679.4" y="430.3" width="9.9" height="80.7" fill="#1b015c"/><rect x="691.1" y="426.8" width="9.9" height="84.2" fill="#1b015c"/><rect x="702.8" y="426.0" width="9.9" height="85.0" fill="#1b015c"/><rect x="714.5" y="424.6" width="9.9" height="86.4" fill="#1b015c"/><rect x="726.2" y="424.3" width="9.9" height="86.7" fill="#1b015c"/><rect x="737.9" y="423.8" width="9.9" height="87.2" fill="#1b015c"/><rect x="749.6" y="423.2" width="9.9" height="87.9" fill="#1b015c"/><rect x="761.3" y="425.3" width="9.9" height="85.7" fill="#1b015c"/><rect x="773.0" y="423.8" width="9.9" height="87.2" fill="#1b015c"/><rect x="784.7" y="422.1" width="9.9" height="88.9" fill="#1b015c"/><rect x="796.3" y="422.6" width="9.9" height="88.4" fill="#1b015c"/><rect x="808.0" y="428.2" width="9.9" height="82.9" fill="#1b015c"/><rect x="819.7" y="427.5" width="9.9" height="83.6" fill="#1b015c"/><rect x="831.4" y="429.2" width="9.9" height="81.9" fill="#1b015c"/><rect x="843.1" y="434.6" width="9.9" height="76.4" fill="#1b015c"/><rect x="854.8" y="436.8" width="9.9" height="74.3" fill="#1b015c"/><rect x="866.5" y="436.1" width="9.9" height="74.9" fill="#1b015c"/><rect x="878.2" y="448.9" width="9.9" height="62.1" fill="#1b015c"/><rect x="889.9" y="456.4" width="8.1" height="54.6" fill="#1b015c"/><path d="M538.2 397.5V567.8H898" stroke="#8c8c8c" stroke-width="1.3" fill="none"/></svg>
<div style="left:473.5px;top:394.3px;font-size:9.6px;line-height:12px;color:#555;font-weight:normal;width:60px;text-align:right;letter-spacing:-0.45px">100.00</div>
<div style="left:473.5px;top:448.5px;font-size:9.6px;line-height:12px;color:#555;font-weight:normal;width:60px;text-align:right;letter-spacing:-0.45px">50.00</div>
<div style="left:473.5px;top:504.5px;font-size:9.6px;line-height:12px;color:#555;font-weight:normal;width:60px;text-align:right;letter-spacing:-0.45px">0.00</div>
<div style="left:473.5px;top:558.0px;font-size:9.6px;line-height:12px;color:#555;font-weight:normal;width:60px;text-align:right;letter-spacing:-0.45px">-50.00</div>
<div style="left:590.2px;top:570.6px;font-size:9.6px;line-height:12px;color:#555;font-weight:normal;width:60px;text-align:center;letter-spacing:-0.3px">100.00</div>
<div style="left:707.0px;top:570.6px;font-size:9.6px;line-height:12px;color:#555;font-weight:normal;width:60px;text-align:center;letter-spacing:-0.3px">1.00k</div>
<div style="left:824.0px;top:570.6px;font-size:9.6px;line-height:12px;color:#555;font-weight:normal;width:60px;text-align:center;letter-spacing:-0.3px">10.00k</div>
<div style="left:652.8px;top:584.1px;font-size:10.2px;line-height:13px;color:#555;font-weight:normal;width:120px;text-align:center;">Frequency(Hz)</div>
<div style="left:425.6px;top:480.2px;width:140px;height:14px;line-height:14px;font-size:10.1px;color:#555;text-align:center;transform:rotate(-90deg)">LwA Spectrum(dBSWL)</div>
<div style="left:1010.6px;top:366.0px;font-size:10.6px;line-height:14px;color:#2b2b2b;font-weight:normal;width:200px;text-align:center;">LAeq Spectrum</div>
<div style="left:1199.95px;top:385.2px;width:7.6px;height:7.6px;border-radius:50%;background:#1b015c"></div>
<div style="left:1210.6px;top:383.2px;font-size:9.6px;line-height:12px;color:#2b2b2b;font-weight:normal;letter-spacing:-0.2px">LAeq Average Spectrum</div>
<svg style="left:0;top:0" width="1600" height="864"><path d="M977.7 398.1V563.1M992.6 398.1V563.1M1004.3 398.1V563.1M1013.8 398.1V563.1M1021.8 398.1V563.1M1028.8 398.1V563.1M1034.9 398.1V563.1M1076.5 398.1V563.1M1097.7 398.1V563.1M1112.6 398.1V563.1M1124.3 398.1V563.1M1133.8 398.1V563.1M1141.8 398.1V563.1M1148.8 398.1V563.1M1154.9 398.1V563.1M1196.5 398.1V563.1M1217.7 398.1V563.1M1232.6 398.1V563.1M1244.3 398.1V563.1M1253.8 398.1V563.1M1261.8 398.1V563.1M1268.8 398.1V563.1M1274.9 398.1V563.1M956.4 552.4H1316.0M956.4 541.7H1316.0M956.4 531.1H1316.0M956.4 520.4H1316.0M956.4 499.0H1316.0M956.4 488.3H1316.0M956.4 477.7H1316.0M956.4 467.0H1316.0M956.4 445.6H1316.0M956.4 434.9H1316.0M956.4 424.3H1316.0M956.4 413.6H1316.0" stroke="#e3e3e3" stroke-width="1" fill="none"/><path d="M1040.4 398.1V563.1M1160.4 398.1V563.1M1280.4 398.1V563.1M956.4 563.1H1316.0M956.4 509.7H1316.0M956.4 456.3H1316.0M956.4 402.9H1316.0" stroke="#bdbdbd" stroke-width="1.1" fill="none"/><path d="M956.4 398V567.4H1316" stroke="#8c8c8c" stroke-width="1.3" fill="none"/><polyline points="956.1,563.4 968.2,551.9 980.2,540.0 992.2,527.5 1004.3,520.1 1016.3,501.8 1028.4,485.7 1040.4,480.3 1052.4,467.9 1064.5,457.2 1076.5,449.4 1088.6,441.7 1100.6,437.8 1112.6,435.3 1124.7,434.4 1136.7,433.8 1148.8,433.2 1160.8,432.5 1172.9,431.3 1184.9,433.8 1196.9,432.1 1209.0,430.6 1221.0,431.0 1233.1,436.3 1245.1,435.7 1257.1,437.8 1269.2,442.7 1281.2,444.2 1293.3,443.9 1305.3,455.6 1317.3,462.7" fill="none" stroke="#4a3e92" stroke-width="1.3"/></svg>
<div style="left:891.5px;top:395.6px;font-size:9.6px;line-height:12px;color:#555;font-weight:normal;width:60px;text-align:right;letter-spacing:-0.45px">100.00</div>
<div style="left:891.5px;top:449.9px;font-size:9.6px;line-height:12px;color:#555;font-weight:normal;width:60px;text-align:right;letter-spacing:-0.45px">50.00</div>
<div style="left:891.5px;top:503.2px;font-size:9.6px;line-height:12px;color:#555;font-weight:normal;width:60px;text-align:right;letter-spacing:-0.45px">0.00</div>
<div style="left:891.5px;top:556.5px;font-size:9.6px;line-height:12px;color:#555;font-weight:normal;width:60px;text-align:right;letter-spacing:-0.45px">-50.00</div>
<div style="left:1010.3px;top:570.6px;font-size:9.6px;line-height:12px;color:#555;font-weight:normal;width:60px;text-align:center;letter-spacing:-0.3px">100.00</div>
<div style="left:1130.0px;top:570.6px;font-size:9.6px;line-height:12px;color:#555;font-weight:normal;width:60px;text-align:center;letter-spacing:-0.3px">1.00k</div>
<div style="left:1250.0px;top:570.6px;font-size:9.6px;line-height:12px;color:#555;font-weight:normal;width:60px;text-align:center;letter-spacing:-0.3px">10.00k</div>
<div style="left:1071.0px;top:584.1px;font-size:10.2px;line-height:13px;color:#555;font-weight:normal;width:120px;text-align:center;">Frequency(Hz)</div>
<div style="left:843.8px;top:481px;width:140px;height:14px;line-height:14px;font-size:10.1px;color:#555;text-align:center;transform:rotate(-90deg)">LAeq Spectrum(dBSPL)</div>
<div style="left:990.0px;top:606.0px;font-size:10.6px;line-height:14px;color:#2b2b2b;font-weight:normal;width:240px;text-align:center;">Background LAeq Spectrum</div>
<div style="left:920.1px;top:624.7px;width:7.2px;height:7.2px;border-radius:50%;background:#1b0a60"></div>
<div style="left:929.7px;top:622.4px;font-size:9.6px;line-height:12px;color:#2b2b2b;font-weight:normal;letter-spacing:-0.25px">Ch1</div>
<div style="left:951.6px;top:624.7px;width:7.2px;height:7.2px;border-radius:50%;background:#d8502e"></div>
<div style="left:961.2px;top:622.4px;font-size:9.6px;line-height:12px;color:#2b2b2b;font-weight:normal;letter-spacing:-0.25px">Ch2</div>
<div style="left:983.4px;top:624.7px;width:7.2px;height:7.2px;border-radius:50%;background:#1e6b3a"></div>
<div style="left:993.0px;top:622.4px;font-size:9.6px;line-height:12px;color:#2b2b2b;font-weight:normal;letter-spacing:-0.25px">Ch3</div>
<div style="left:1014.9px;top:624.7px;width:7.2px;height:7.2px;border-radius:50%;background:#e0992e"></div>
<div style="left:1024.5px;top:622.4px;font-size:9.6px;line-height:12px;color:#2b2b2b;font-weight:normal;letter-spacing:-0.25px">Ch4</div>
<div style="left:1046.4px;top:624.7px;width:7.2px;height:7.2px;border-radius:50%;background:#6b30d0"></div>
<div style="left:1056.0px;top:622.4px;font-size:9.6px;line-height:12px;color:#2b2b2b;font-weight:normal;letter-spacing:-0.25px">Ch5</div>
<div style="left:1077.9px;top:624.7px;width:7.2px;height:7.2px;border-radius:50%;background:#1f7aa0"></div>
<div style="left:1087.5px;top:622.4px;font-size:9.6px;line-height:12px;color:#2b2b2b;font-weight:normal;letter-spacing:-0.25px">Ch6</div>
<div style="left:1109.4px;top:624.7px;width:7.2px;height:7.2px;border-radius:50%;background:#d0283c"></div>
<div style="left:1119.0px;top:622.4px;font-size:9.6px;line-height:12px;color:#2b2b2b;font-weight:normal;letter-spacing:-0.25px">Ch7</div>
<div style="left:1140.9px;top:624.7px;width:7.2px;height:7.2px;border-radius:50%;background:#30bca8"></div>
<div style="left:1150.5px;top:622.4px;font-size:9.6px;line-height:12px;color:#2b2b2b;font-weight:normal;letter-spacing:-0.25px">Ch8</div>
<div style="left:1172.4px;top:624.7px;width:7.2px;height:7.2px;border-radius:50%;background:#c8622a"></div>
<div style="left:1182.0px;top:622.4px;font-size:9.6px;line-height:12px;color:#2b2b2b;font-weight:normal;letter-spacing:-0.25px">Ch9</div>
<div style="left:1203.9px;top:624.7px;width:7.2px;height:7.2px;border-radius:50%;background:#5d65e6"></div>
<div style="left:1213.5px;top:622.4px;font-size:9.6px;line-height:12px;color:#2b2b2b;font-weight:normal;letter-spacing:-0.25px">Ch10</div>
<div style="left:1241.1px;top:624.7px;width:7.2px;height:7.2px;border-radius:50%;background:#cc3355"></div>
<div style="left:1250.7px;top:622.4px;font-size:9.6px;line-height:12px;color:#2b2b2b;font-weight:normal;letter-spacing:-0.25px">Ch11</div>
<div style="left:1276.9px;top:624.7px;width:7.2px;height:7.2px;border-radius:50%;background:#6aa838"></div>
<div style="left:1286.5px;top:622.4px;font-size:9.6px;line-height:12px;color:#2b2b2b;font-weight:normal;letter-spacing:-0.25px">Ch12</div>
<div style="left:1021.8px;top:640.8px;width:7.2px;height:7.2px;border-radius:50%;background:#a83cc8"></div>
<div style="left:1031.4px;top:638.5px;font-size:9.6px;line-height:12px;color:#2b2b2b;font-weight:normal;letter-spacing:-0.25px">Ch13</div>
<div style="left:1058.1px;top:640.8px;width:7.2px;height:7.2px;border-radius:50%;background:#2a9a72"></div>
<div style="left:1067.7px;top:638.5px;font-size:9.6px;line-height:12px;color:#2b2b2b;font-weight:normal;letter-spacing:-0.25px">Ch14</div>
<div style="left:1094.2px;top:640.8px;width:7.2px;height:7.2px;border-radius:50%;background:#a8282e"></div>
<div style="left:1103.8px;top:638.5px;font-size:9.6px;line-height:12px;color:#2b2b2b;font-weight:normal;letter-spacing:-0.25px">Ch15</div>
<div style="left:1130.4px;top:640.8px;width:7.2px;height:7.2px;border-radius:50%;background:#7a34e0"></div>
<div style="left:1140.0px;top:638.5px;font-size:9.6px;line-height:12px;color:#2b2b2b;font-weight:normal;letter-spacing:-0.25px">Ch16</div>
<div style="left:1166.4px;top:640.8px;width:7.2px;height:7.2px;border-radius:50%;background:#2a90d8"></div>
<div style="left:1176.0px;top:638.5px;font-size:9.6px;line-height:12px;color:#2b2b2b;font-weight:normal;letter-spacing:-0.25px">Ch17</div>
<div style="left:1202.9px;top:640.8px;width:7.2px;height:7.2px;border-radius:50%;background:#1b0a60"></div>
<div style="left:1212.5px;top:638.5px;font-size:9.6px;line-height:12px;color:#2b2b2b;font-weight:normal;letter-spacing:-0.25px">Ch18</div>
<div style="left:1239.4px;top:640.8px;width:7.2px;height:7.2px;border-radius:50%;background:#d8501e"></div>
<div style="left:1249.0px;top:638.5px;font-size:9.6px;line-height:12px;color:#2b2b2b;font-weight:normal;letter-spacing:-0.25px">Ch19</div>
<div style="left:1277.4px;top:640.8px;width:7.2px;height:7.2px;border-radius:50%;background:#1a6a38"></div>
<div style="left:1287.0px;top:638.5px;font-size:9.6px;line-height:12px;color:#2b2b2b;font-weight:normal;letter-spacing:-0.25px">Ch20</div>
<svg style="left:0;top:0" width="1600" height="864"><path d="M979.9 652.7V806.0M994.3 652.7V806.0M1005.5 652.7V806.0M1014.7 652.7V806.0M1022.5 652.7V806.0M1029.2 652.7V806.0M1035.1 652.7V806.0M1075.3 652.7V806.0M1095.7 652.7V806.0M1110.1 652.7V806.0M1121.3 652.7V806.0M1130.5 652.7V806.0M1138.3 652.7V806.0M1145.0 652.7V806.0M1150.9 652.7V806.0M1191.1 652.7V806.0M1211.5 652.7V806.0M1225.9 652.7V806.0M1237.1 652.7V806.0M1246.3 652.7V806.0M1254.1 652.7V806.0M1260.8 652.7V806.0M1266.7 652.7V806.0M1306.9 652.7V806.0" stroke="#e3e3e3" stroke-width="1" fill="none"/><path d="M1040.4 652.7V806.0M1156.2 652.7V806.0M1272.0 652.7V806.0M959.6 806.0H1316.0M959.6 767.7H1316.0M959.6 729.4H1316.0M959.6 691.0H1316.0M959.6 652.7H1316.0" stroke="#bdbdbd" stroke-width="1.1" fill="none"/><rect x="959.6" y="729.4" width="9.9" height="38.9" fill="#1d6b3a"/><rect x="971.2" y="729.4" width="9.9" height="31.2" fill="#1d6b3a"/><rect x="982.8" y="729.4" width="9.9" height="21.0" fill="#1d6b3a"/><rect x="994.4" y="729.4" width="9.9" height="27.3" fill="#1d6b3a"/><rect x="1006.0" y="729.4" width="9.9" height="17.4" fill="#1d6b3a"/><rect x="1017.7" y="729.4" width="9.9" height="4.1" fill="#1d6b3a"/><rect x="1029.3" y="729.4" width="9.9" height="2.3" fill="#1d6b3a"/><rect x="1040.9" y="725.4" width="9.9" height="4.0" fill="#1d6b3a"/><rect x="1052.5" y="723.4" width="9.9" height="5.9" fill="#1d6b3a"/><rect x="1064.1" y="717.9" width="9.9" height="11.5" fill="#1d6b3a"/><rect x="1075.8" y="713.1" width="9.9" height="16.2" fill="#1d6b3a"/><rect x="1087.4" y="710.4" width="9.9" height="18.9" fill="#1d6b3a"/><rect x="1099.0" y="706.7" width="9.9" height="22.6" fill="#1d6b3a"/><rect x="1110.6" y="704.3" width="9.9" height="25.1" fill="#1d6b3a"/><rect x="1122.2" y="702.1" width="9.9" height="27.2" fill="#1d6b3a"/><rect x="1133.9" y="701.1" width="9.9" height="28.2" fill="#1d6b3a"/><rect x="1145.5" y="700.1" width="9.9" height="29.3" fill="#1d6b3a"/><rect x="1157.1" y="699.1" width="9.9" height="30.3" fill="#1d6b3a"/><rect x="1168.7" y="699.4" width="9.9" height="30.0" fill="#1d6b3a"/><rect x="1180.3" y="700.1" width="9.9" height="29.3" fill="#1d6b3a"/><rect x="1192.0" y="701.8" width="9.9" height="27.5" fill="#1d6b3a"/><rect x="1203.6" y="703.3" width="9.9" height="26.1" fill="#1d6b3a"/><rect x="1215.2" y="704.3" width="9.9" height="25.1" fill="#1d6b3a"/><rect x="1226.8" y="706.0" width="9.9" height="23.3" fill="#1d6b3a"/><rect x="1238.4" y="709.1" width="9.9" height="20.2" fill="#1d6b3a"/><rect x="1250.1" y="710.9" width="9.9" height="18.5" fill="#1d6b3a"/><rect x="1261.7" y="713.3" width="9.9" height="16.1" fill="#1d6b3a"/><rect x="1273.3" y="715.4" width="9.9" height="14.0" fill="#1d6b3a"/><rect x="1284.9" y="717.2" width="9.9" height="12.1" fill="#1d6b3a"/><rect x="1296.5" y="720.2" width="9.9" height="9.1" fill="#1d6b3a"/><rect x="1308.2" y="723.4" width="7.8" height="5.9" fill="#1d6b3a"/><rect x="959.6" y="768.3" width="9.9" height="2.8" fill="#7a34e0"/><rect x="971.2" y="760.5" width="9.9" height="1.8" fill="#1b0a60"/><rect x="971.2" y="762.3" width="9.9" height="1.1" fill="#a88cd8"/><rect x="982.8" y="750.4" width="9.9" height="2.4" fill="#e0992e"/><rect x="982.8" y="752.7" width="9.9" height="1.5" fill="#a070d0"/><rect x="994.4" y="756.6" width="9.9" height="3.0" fill="#1b0a60"/><rect x="1006.0" y="746.7" width="9.9" height="2.9" fill="#d0283c"/><rect x="1017.7" y="735.2" width="9.9" height="3.0" fill="#7a34e0"/><rect x="1017.7" y="738.2" width="9.9" height="0.5" fill="#c8b8e8"/><rect x="1029.3" y="726.8" width="9.9" height="1.9" fill="#d8502e"/><rect x="1029.3" y="725.5" width="9.9" height="1.3" fill="#b9a9e0"/><rect x="1029.3" y="724.0" width="9.9" height="1.5" fill="#eac8c8"/><rect x="1040.9" y="723.2" width="9.9" height="2.1" fill="#d8a080"/><rect x="1040.9" y="721.8" width="9.9" height="1.4" fill="#30bca8"/><rect x="1052.5" y="718.4" width="9.9" height="3.9" fill="#7a34e0"/><rect x="1052.5" y="715.9" width="9.9" height="1.3" fill="#30bca8"/><rect x="1064.1" y="715.6" width="9.9" height="2.3" fill="#cbb6f0"/><rect x="1099.0" y="705.2" width="9.9" height="1.5" fill="#e0b080"/><rect x="1110.6" y="702.1" width="9.9" height="2.1" fill="#7a34e0"/><rect x="1122.2" y="697.2" width="9.9" height="1.9" fill="#9a86d0"/><rect x="1133.9" y="700.2" width="9.9" height="0.9" fill="#b8a0f0"/><rect x="1133.9" y="696.8" width="9.9" height="1.9" fill="#d8d0e8"/><rect x="1145.5" y="697.2" width="9.9" height="1.5" fill="#8a6ad0"/><rect x="1157.1" y="695.6" width="9.9" height="1.5" fill="#1b0a60"/><rect x="1168.7" y="696.4" width="9.9" height="1.5" fill="#1b0a60"/><rect x="1180.3" y="697.2" width="9.9" height="1.5" fill="#7a34e0"/><rect x="1180.3" y="694.9" width="9.9" height="1.5" fill="#1b0a60"/><rect x="1192.0" y="698.7" width="9.9" height="1.5" fill="#7a34e0"/><rect x="1192.0" y="696.4" width="9.9" height="1.1" fill="#8a6ad0"/><rect x="1203.6" y="697.9" width="9.9" height="4.2" fill="#d8d0e8"/><rect x="1215.2" y="701.0" width="9.9" height="1.5" fill="#c8b8e8"/><rect x="1226.8" y="703.3" width="9.9" height="1.5" fill="#7a34e0"/><rect x="1238.4" y="705.6" width="9.9" height="1.9" fill="#7a34e0"/><rect x="1250.1" y="707.5" width="9.9" height="1.9" fill="#7a34e0"/><rect x="1261.7" y="709.0" width="9.9" height="2.3" fill="#7a34e0"/><rect x="1273.3" y="711.7" width="9.9" height="2.3" fill="#7a34e0"/><rect x="1284.9" y="713.3" width="9.9" height="2.3" fill="#7a34e0"/><rect x="1296.5" y="715.9" width="9.9" height="2.7" fill="#7a34e0"/><rect x="1308.2" y="718.6" width="7.8" height="3.1" fill="#7a34e0"/><path d="M959.6 652.7V806H1316" stroke="#8c8c8c" stroke-width="1.3" fill="none"/></svg>
<div style="left:893.7px;top:650.2px;font-size:9.6px;line-height:12px;color:#555;font-weight:normal;width:60px;text-align:right;letter-spacing:-0.45px">100.00</div>
<div style="left:893.7px;top:684.9px;font-size:9.6px;line-height:12px;color:#555;font-weight:normal;width:60px;text-align:right;letter-spacing:-0.45px">50.00</div>
<div style="left:893.7px;top:723.1px;font-size:9.6px;line-height:12px;color:#555;font-weight:normal;width:60px;text-align:right;letter-spacing:-0.45px">0.00</div>
<div style="left:893.7px;top:761.8px;font-size:9.6px;line-height:12px;color:#555;font-weight:normal;width:60px;text-align:right;letter-spacing:-0.45px">-50.00</div>
<div style="left:893.7px;top:796.0px;font-size:9.6px;line-height:12px;color:#555;font-weight:normal;width:60px;text-align:right;letter-spacing:-0.45px">-100.00</div>
<div style="left:1010.5px;top:808.8px;font-size:9.6px;line-height:12px;color:#555;font-weight:normal;width:60px;text-align:center;letter-spacing:-0.3px">100.00</div>
<div style="left:1126.0px;top:808.8px;font-size:9.6px;line-height:12px;color:#555;font-weight:normal;width:60px;text-align:center;letter-spacing:-0.3px">1.00k</div>
<div style="left:1242.0px;top:808.8px;font-size:9.6px;line-height:12px;color:#555;font-weight:normal;width:60px;text-align:center;letter-spacing:-0.3px">10.00k</div>
<div style="left:1072.5px;top:822.5px;font-size:10.2px;line-height:13px;color:#555;font-weight:normal;width:120px;text-align:center;">Frequency(Hz)</div>
<div style="left:822.7px;top:726.7px;width:180px;height:14px;line-height:14px;font-size:10.6px;color:#555;text-align:center;transform:rotate(-90deg)">Background LAeq Spectrum(dBSPL)</div>
<div style="left:1325.4px;top:70.5px;font-size:12.2px;line-height:16px;color:#2b2b2b;font-weight:normal;">Data Selector</div>
<svg style="left:1558.5px;top:72.5px" width="10" height="12" viewBox="0 0 10 12" fill="none" stroke="#8a8a8a" stroke-width="0.9" stroke-linejoin="round"><path d="M2.2 0.8 H7.8 M3.2 0.8 L3.6 4 L1 6.8 H9 L6.4 4 L6.8 0.8 M5 6.8 V11"/></svg>
<div style="left:1325px;top:95.7px;width:64px;height:17.5px;background:#dedbe7;border-radius:2px 2px 0 0"></div>
<div style="left:1325px;top:113px;width:64px;height:2px;background:#1b015c"></div>
<div style="left:1389px;top:114.5px;width:180px;height:1px;background:#ececec"></div>
<div style="left:1322.5px;top:98.2px;font-size:10.8px;line-height:14px;color:#1b015c;font-weight:normal;width:70px;text-align:center;">Primary</div>
<div style="left:1388.5px;top:98.2px;font-size:10.8px;line-height:14px;color:#2b2b2b;font-weight:normal;width:80px;text-align:center;">Processed</div>
<svg style="left:1331.5px;top:129.4px" width="6" height="4" viewBox="0 0 6 4"><path d="M0.5 0.5 H5.5 L3 3.5Z" fill="#999"/></svg>
<svg style="left:1342.0px;top:125.5px" width="11.8" height="11.8" viewBox="0 0 12 12"><rect x="0" y="0" width="12" height="12" rx="1.5" fill="#1b015c"/><rect x="3" y="5.3" width="6" height="1.5" fill="#fff"/></svg>
<div style="left:1356.8px;top:124.6px;font-size:10.6px;line-height:14px;color:#2b2b2b;font-weight:normal;">Waveform</div>
<svg style="left:1345.7px;top:150.26px" width="4" height="6" viewBox="0 0 4 6"><path d="M0.5 0.5 V5.5 L3.5 3Z" fill="#999"/></svg>
<svg style="left:1355.7px;top:147.35999999999999px" width="11.8" height="11.8" viewBox="0 0 12 12"><rect x="0" y="0" width="12" height="12" rx="1.5" fill="#1b015c"/><path d="M2.8 6.2 L5 8.3 L9.3 3.8" fill="none" stroke="#fff" stroke-width="0.9"/></svg>
<div style="left:1370.5px;top:146.5px;font-size:10.6px;line-height:14px;color:#2b2b2b;font-weight:normal;">Acquired Waveform</div>
<svg style="left:1345.7px;top:172.12px" width="4" height="6" viewBox="0 0 4 6"><path d="M0.5 0.5 V5.5 L3.5 3Z" fill="#999"/></svg>
<div style="left:1355.7px;top:169.22px;width:11.8px;height:11.8px;border:1px solid #dedede;border-radius:2px;background:#fff"></div>
<div style="left:1370.5px;top:168.3px;font-size:10.6px;line-height:14px;color:#2b2b2b;font-weight:normal;">Acquired Background Waveform</div>
<svg style="left:1331.5px;top:194.98000000000002px" width="6" height="4" viewBox="0 0 6 4"><path d="M0.5 0.5 H5.5 L3 3.5Z" fill="#999"/></svg>
<svg style="left:1342.0px;top:191.08px" width="11.8" height="11.8" viewBox="0 0 12 12"><rect x="0" y="0" width="12" height="12" rx="1.5" fill="#1b015c"/><rect x="3" y="5.3" width="6" height="1.5" fill="#fff"/></svg>
<div style="left:1356.8px;top:190.2px;font-size:10.6px;line-height:14px;color:#2b2b2b;font-weight:normal;">Analysis Data</div>
<svg style="left:1355.7px;top:212.94px" width="11.8" height="11.8" viewBox="0 0 12 12"><rect x="0" y="0" width="12" height="12" rx="1.5" fill="#1b015c"/><path d="M2.8 6.2 L5 8.3 L9.3 3.8" fill="none" stroke="#fff" stroke-width="0.9"/></svg>
<div style="left:1370.5px;top:212.0px;font-size:10.6px;line-height:14px;color:#2b2b2b;font-weight:normal;">Point Map</div>
<svg style="left:1345.7px;top:237.7px" width="4" height="6" viewBox="0 0 4 6"><path d="M0.5 0.5 V5.5 L3.5 3Z" fill="#999"/></svg>
<svg style="left:1355.7px;top:234.79999999999998px" width="11.8" height="11.8" viewBox="0 0 12 12"><rect x="0" y="0" width="12" height="12" rx="1.5" fill="#1b015c"/><path d="M2.8 6.2 L5 8.3 L9.3 3.8" fill="none" stroke="#fff" stroke-width="0.9"/></svg>
<div style="left:1370.5px;top:233.9px;font-size:10.6px;line-height:14px;color:#2b2b2b;font-weight:normal;">LwA Spectrum</div>
<svg style="left:1345.7px;top:259.56px" width="4" height="6" viewBox="0 0 4 6"><path d="M0.5 0.5 V5.5 L3.5 3Z" fill="#999"/></svg>
<svg style="left:1355.7px;top:256.66px" width="11.8" height="11.8" viewBox="0 0 12 12"><rect x="0" y="0" width="12" height="12" rx="1.5" fill="#1b015c"/><rect x="3" y="5.3" width="6" height="1.5" fill="#fff"/></svg>
<div style="left:1370.5px;top:255.8px;font-size:10.6px;line-height:14px;color:#2b2b2b;font-weight:normal;">LAeq Spectrum</div>
<svg style="left:1345.7px;top:281.41999999999996px" width="4" height="6" viewBox="0 0 4 6"><path d="M0.5 0.5 V5.5 L3.5 3Z" fill="#999"/></svg>
<svg style="left:1355.7px;top:278.52px" width="11.8" height="11.8" viewBox="0 0 12 12"><rect x="0" y="0" width="12" height="12" rx="1.5" fill="#1b015c"/><rect x="3" y="5.3" width="6" height="1.5" fill="#fff"/></svg>
<div style="left:1370.5px;top:277.6px;font-size:10.6px;line-height:14px;color:#2b2b2b;font-weight:normal;">Background LAeq Spectrum</div>
<svg style="left:1345.7px;top:303.28px" width="4" height="6" viewBox="0 0 4 6"><path d="M0.5 0.5 V5.5 L3.5 3Z" fill="#999"/></svg>
<div style="left:1355.7px;top:300.38px;width:11.8px;height:11.8px;border:1px solid #dedede;border-radius:2px;background:#fff"></div>
<div style="left:1370.5px;top:299.5px;font-size:10.6px;line-height:14px;color:#2b2b2b;font-weight:normal;">K2A</div>
<svg style="left:1345.7px;top:325.14px" width="4" height="6" viewBox="0 0 4 6"><path d="M0.5 0.5 V5.5 L3.5 3Z" fill="#999"/></svg>
<div style="left:1355.7px;top:322.24px;width:11.8px;height:11.8px;border:1px solid #dedede;border-radius:2px;background:#fff"></div>
<div style="left:1370.5px;top:321.3px;font-size:10.6px;line-height:14px;color:#2b2b2b;font-weight:normal;">W Spectrum</div>
<svg style="left:1345.7px;top:347.0px" width="4" height="6" viewBox="0 0 4 6"><path d="M0.5 0.5 V5.5 L3.5 3Z" fill="#999"/></svg>
<div style="left:1355.7px;top:344.1px;width:11.8px;height:11.8px;border:1px solid #dedede;border-radius:2px;background:#fff"></div>
<div style="left:1370.5px;top:343.2px;font-size:10.6px;line-height:14px;color:#2b2b2b;font-weight:normal;">Leq Spectrum</div>
<div style="left:1557px;top:95.5px;width:60px;height:14px;line-height:14px;font-size:12.2px;color:#2b2b2b;text-align:center;transform:rotate(90deg)">Monitor</div>
<div style="left:1583.5px;top:138px;width:8px;height:1px;background:#9a9a9a"></div>
<div style="left:1547px;top:174.2px;width:80px;height:14px;line-height:14px;font-size:12.2px;color:#2b2b2b;text-align:center;transform:rotate(90deg)">Generator</div>
<div style="left:1325.5px;top:603.5px;font-size:10.3px;line-height:13px;color:#2b2b2b;font-weight:normal;">Data Sets</div>
<div style="left:1354.8px;top:626.6px;font-size:10.6px;line-height:14px;color:#8a8a8a;font-weight:normal;">Data Set</div>
<div style="left:1430.7px;top:626.6px;font-size:10.6px;line-height:14px;color:#8a8a8a;font-weight:normal;">Time</div>
<div style="left:1320px;top:645px;width:255px;height:1px;background:#ebebeb"></div>
<svg style="left:1325.5px;top:653.1px" width="11.6" height="11.6" viewBox="0 0 12 12"><rect x="0" y="0" width="12" height="12" rx="1.5" fill="#1b015c"/><path d="M2.8 6.2 L5 8.3 L9.3 3.8" fill="none" stroke="#fff" stroke-width="0.9"/></svg>
<div style="left:1354.8px;top:651.9px;font-size:10.8px;line-height:14px;color:#2b2b2b;font-weight:normal;">Measure #10</div>
<div style="left:1430.7px;top:651.9px;font-size:10.8px;line-height:14px;color:#2b2b2b;font-weight:normal;letter-spacing:-0.1px">2025-09-23 16:02:26</div>
<svg style="left:1552px;top:652.4px" width="10" height="12" viewBox="0 0 10 12" fill="none" stroke="#a8a8a8" stroke-width="0.8"><path d="M0.8 2.5 H9.2 M3.5 2.5 V1 H6.5 V2.5 M1.8 2.5 L2.3 11 H7.7 L8.2 2.5 M4 5 V9 M6 5 V9"/></svg>
<div style="left:1320px;top:672.0px;width:255px;height:1px;background:#ebebeb"></div>
<div style="left:1325.5px;top:679.32px;width:11.6px;height:11.6px;border:1px solid #dedede;border-radius:2px;background:#fff"></div>
<div style="left:1354.8px;top:678.1px;font-size:10.8px;line-height:14px;color:#2b2b2b;font-weight:normal;">Measure #9</div>
<div style="left:1430.7px;top:678.1px;font-size:10.8px;line-height:14px;color:#2b2b2b;font-weight:normal;letter-spacing:-0.1px">2025-09-23 15:13:50</div>
<svg style="left:1552px;top:678.6px" width="10" height="12" viewBox="0 0 10 12" fill="none" stroke="#a8a8a8" stroke-width="0.8"><path d="M0.8 2.5 H9.2 M3.5 2.5 V1 H6.5 V2.5 M1.8 2.5 L2.3 11 H7.7 L8.2 2.5 M4 5 V9 M6 5 V9"/></svg>
<div style="left:1320px;top:698.22px;width:255px;height:1px;background:#ebebeb"></div>
<div style="left:1325.5px;top:705.54px;width:11.6px;height:11.6px;border:1px solid #dedede;border-radius:2px;background:#fff"></div>
<div style="left:1354.8px;top:704.3px;font-size:10.8px;line-height:14px;color:#2b2b2b;font-weight:normal;">Measure #6</div>
<div style="left:1430.7px;top:704.3px;font-size:10.8px;line-height:14px;color:#2b2b2b;font-weight:normal;letter-spacing:-0.1px">2025-09-23 15:05:29</div>
<svg style="left:1552px;top:704.8px" width="10" height="12" viewBox="0 0 10 12" fill="none" stroke="#a8a8a8" stroke-width="0.8"><path d="M0.8 2.5 H9.2 M3.5 2.5 V1 H6.5 V2.5 M1.8 2.5 L2.3 11 H7.7 L8.2 2.5 M4 5 V9 M6 5 V9"/></svg>
<div style="left:1320px;top:724.4399999999999px;width:255px;height:1px;background:#ebebeb"></div>
<div style="left:1325.5px;top:731.76px;width:11.6px;height:11.6px;border:1px solid #dedede;border-radius:2px;background:#fff"></div>
<div style="left:1354.8px;top:730.6px;font-size:10.8px;line-height:14px;color:#2b2b2b;font-weight:normal;">Measure #5</div>
<div style="left:1430.7px;top:730.6px;font-size:10.8px;line-height:14px;color:#2b2b2b;font-weight:normal;letter-spacing:-0.1px">2025-09-23 15:03:06</div>
<svg style="left:1552px;top:731.1px" width="10" height="12" viewBox="0 0 10 12" fill="none" stroke="#a8a8a8" stroke-width="0.8"><path d="M0.8 2.5 H9.2 M3.5 2.5 V1 H6.5 V2.5 M1.8 2.5 L2.3 11 H7.7 L8.2 2.5 M4 5 V9 M6 5 V9"/></svg>
<div style="left:1320px;top:750.66px;width:255px;height:1px;background:#ebebeb"></div>
<div style="left:1325.5px;top:757.98px;width:11.6px;height:11.6px;border:1px solid #dedede;border-radius:2px;background:#fff"></div>
<div style="left:1354.8px;top:756.8px;font-size:10.8px;line-height:14px;color:#2b2b2b;font-weight:normal;">Measure #4</div>
<div style="left:1430.7px;top:756.8px;font-size:10.8px;line-height:14px;color:#2b2b2b;font-weight:normal;letter-spacing:-0.1px">2025-09-23 14:59:33</div>
<svg style="left:1552px;top:757.3px" width="10" height="12" viewBox="0 0 10 12" fill="none" stroke="#a8a8a8" stroke-width="0.8"><path d="M0.8 2.5 H9.2 M3.5 2.5 V1 H6.5 V2.5 M1.8 2.5 L2.3 11 H7.7 L8.2 2.5 M4 5 V9 M6 5 V9"/></svg>
<div style="left:1320px;top:776.88px;width:255px;height:1px;background:#ebebeb"></div>
<div style="left:1325.5px;top:784.2px;width:11.6px;height:11.6px;border:1px solid #dedede;border-radius:2px;background:#fff"></div>
<div style="left:1354.8px;top:783.0px;font-size:10.8px;line-height:14px;color:#2b2b2b;font-weight:normal;">Measure #2</div>
<div style="left:1430.7px;top:783.0px;font-size:10.8px;line-height:14px;color:#2b2b2b;font-weight:normal;letter-spacing:-0.1px">2025-09-23 14:52:39</div>
<svg style="left:1552px;top:783.5px" width="10" height="12" viewBox="0 0 10 12" fill="none" stroke="#a8a8a8" stroke-width="0.8"><path d="M0.8 2.5 H9.2 M3.5 2.5 V1 H6.5 V2.5 M1.8 2.5 L2.3 11 H7.7 L8.2 2.5 M4 5 V9 M6 5 V9"/></svg>
<div style="left:1320px;top:803.1px;width:255px;height:1px;background:#ebebeb"></div>
<div style="left:1325.5px;top:810.4200000000001px;width:11.6px;height:11.6px;border:1px solid #dedede;border-radius:2px;background:#fff"></div>
<div style="left:1354.8px;top:809.2px;font-size:10.8px;line-height:14px;color:#2b2b2b;font-weight:normal;">Measure #1</div>
<div style="left:1430.7px;top:809.2px;font-size:10.8px;line-height:14px;color:#2b2b2b;font-weight:normal;letter-spacing:-0.1px">2025-09-23 14:51:34</div>
<svg style="left:1552px;top:809.7px" width="10" height="12" viewBox="0 0 10 12" fill="none" stroke="#a8a8a8" stroke-width="0.8"><path d="M0.8 2.5 H9.2 M3.5 2.5 V1 H6.5 V2.5 M1.8 2.5 L2.3 11 H7.7 L8.2 2.5 M4 5 V9 M6 5 V9"/></svg>
<div style="left:1320px;top:829.32px;width:255px;height:1px;background:#ebebeb"></div>
<div style="left:1218.3px;top:848.8px;font-size:10.1px;line-height:13px;color:#777;font-weight:normal;">Input</div>
<div style="left:1248.4px;top:848.8px;font-size:10.1px;line-height:13px;color:#777;font-weight:normal;">20 Ch | High Pass</div>
<div style="left:1334.8px;top:848.8px;font-size:10.1px;line-height:13px;color:#777;font-weight:normal;">DC | Low Pass</div>
<div style="left:1405.9px;top:848.8px;font-size:10.1px;line-height:13px;color:#777;font-weight:normal;">Nyquist |</div>
<div style="left:1455.0px;top:848.8px;font-size:10.1px;line-height:13px;color:#777;font-weight:normal;">A-Weighting</div>
<div style="left:1531.9px;top:848.8px;font-size:10.1px;line-height:13px;color:#777;font-weight:normal;">Output</div>
<div style="left:1571.0px;top:848.8px;font-size:10.1px;line-height:13px;color:#777;font-weight:normal;">0 Ch</div>
<svg style="left:0;top:0" width="1600" height="864"><path d="M604.7 643.2L604.7 716.1M678.2 643.2L678.2 673.2M734.3 653.3L734.3 695.2M763.3 643.2L763.3 759.7M604.7 661.4L677.2 661.4M679.8 661.4L733.9 661.4M679.8 647.6L762.9 647.6M698.5 673.2L793.7 673.2M734.9 695.2L780.5 695.2M757.2 724.8L772.4 724.8M764.3 766.2L793.7 766.2M786.2 673.2L786.2 766.2M778.5 695.2L778.5 766.2M771.0 695.2L771.0 766.2M767.4 759.7L767.4 771.8" stroke="#a0a0a0" stroke-width="0.8" stroke-dasharray="1.2 1.3" fill="none"/><ellipse cx="678.2" cy="762.7" rx="86.1" ry="36.6" stroke="#858585" stroke-width="1.7" fill="none"/><ellipse cx="678.2" cy="764.3" rx="84.3" ry="34.3" stroke="#858585" stroke-width="1.4" fill="none"/><ellipse cx="679.2" cy="726.9" rx="80.2" ry="24.5" transform="rotate(3 679.2 726.9)" stroke="#858585" stroke-width="1.7" fill="none"/><ellipse cx="678.2" cy="694.8" rx="56.7" ry="13.4" transform="rotate(2 678.2 694.8)" stroke="#858585" stroke-width="1.7" fill="none"/><polygon points="664.0,739.4 667.1,732.9 690.4,733.7 687.9,740.4" fill="#5a5a5e"/><polygon points="664.0,739.4 687.9,740.4 687.3,761.7 664.0,759.7" fill="#2e2f33"/><polygon points="687.9,740.4 690.4,733.7 690.4,756.6 687.3,761.7" fill="#45464a"/><path d="M677.8 673.2C672.5 674.1 654.6 675.7 645.8 678.6C637.0 681.6 631.8 684.5 624.9 690.8C618.1 697.0 609.0 706.7 604.7 716.1C600.3 725.5 600.8 739.4 598.8 747.1C596.8 754.9 593.7 760.1 592.7 762.7M677.8 673.2C683.3 674.1 701.2 675.0 710.6 678.6C720.1 682.3 726.7 687.5 734.3 695.2C741.9 702.9 751.5 714.2 756.2 724.8C761.0 735.5 761.4 752.3 762.7 759.1C764.0 765.8 763.9 764.3 764.1 765.4M677.8 673.2C674.9 674.6 666.9 676.8 660.6 682.1C654.2 687.3 646.1 694.4 639.7 704.6C633.3 714.7 626.0 729.7 622.1 743.1C618.2 756.5 617.5 776.8 616.4 785.0C615.4 793.2 615.9 790.9 615.8 792.1M677.8 673.2C675.8 682.9 669.2 710.5 666.1 731.3C662.9 752.2 660.1 787.0 659.0 798.2M677.8 673.2C681.1 678.9 692.7 694.9 697.5 707.6C702.2 720.3 704.1 734.9 706.2 749.1C708.2 763.4 709.0 785.8 709.6 793.1M677.8 673.2C674.7 677.9 662.4 692.3 659.0 701.3C655.5 710.3 657.3 722.9 656.9 727.3M677.8 673.2C682.7 674.9 700.5 678.5 707.2 683.7C713.8 688.9 715.6 696.8 717.7 704.6C719.8 712.3 719.4 726.0 719.8 730.3M677.8 673.2C679.2 677.1 684.6 687.5 686.3 696.9C688.1 706.2 688.0 723.9 688.3 729.3" stroke="#858585" stroke-width="1.7" fill="none"/><circle cx="598.8" cy="747.1" r="1.9" fill="#1c3f9e"/><circle cx="709.6" cy="793.1" r="1.9" fill="#1c3f9e"/><circle cx="719.8" cy="730.3" r="1.9" fill="#1c3f9e"/><circle cx="659.0" cy="701.3" r="2.1" fill="#3d8fd1"/><circle cx="622.1" cy="743.1" r="1.9" fill="#1c3f9e"/><circle cx="756.2" cy="724.8" r="1.9" fill="#1c3f9e"/><circle cx="707.2" cy="683.7" r="1.9" fill="#1c3f9e"/><circle cx="624.9" cy="690.8" r="1.9" fill="#1c3f9e"/><circle cx="697.5" cy="707.6" r="1.9" fill="#1c3f9e"/><circle cx="677.8" cy="673.2" r="1.9" fill="#1c3f9e"/><circle cx="762.7" cy="759.1" r="2.1" fill="#3d8fd1"/><circle cx="656.9" cy="727.3" r="1.9" fill="#1c3f9e"/><circle cx="616.4" cy="785.0" r="1.9" fill="#1c3f9e"/><circle cx="706.2" cy="749.1" r="2.1" fill="#3d8fd1"/><circle cx="717.7" cy="704.6" r="2.1" fill="#3d8fd1"/><circle cx="604.7" cy="716.1" r="2.1" fill="#3d8fd1"/><circle cx="639.7" cy="704.6" r="2.1" fill="#3d8fd1"/><circle cx="734.3" cy="695.2" r="2.1" fill="#3d8fd1"/><circle cx="660.6" cy="682.1" r="1.9" fill="#1c3f9e"/></svg>
<div style="left:663.1px;top:662.5px;font-size:7.6px;line-height:10px;color:#1e1e1e;font-weight:normal;width:20px;text-align:center;">10</div>
<div style="left:657.1px;top:682.3px;font-size:7.6px;line-height:10px;color:#1e1e1e;font-weight:normal;width:20px;text-align:center;">19</div>
<div style="left:609.9px;top:682.1px;font-size:7.6px;line-height:10px;color:#1e1e1e;font-weight:normal;width:20px;text-align:center;">8</div>
<div style="left:695.6px;top:685.4px;font-size:7.6px;line-height:10px;color:#1e1e1e;font-weight:normal;width:20px;text-align:center;">7</div>
<div style="left:643.9px;top:691.5px;font-size:7.6px;line-height:10px;color:#1e1e1e;font-weight:normal;width:20px;text-align:center;">4</div>
<div style="left:714.4px;top:690.9px;font-size:7.6px;line-height:10px;color:#1e1e1e;font-weight:normal;width:20px;text-align:center;">18</div>
<div style="left:633.8px;top:706.5px;font-size:7.6px;line-height:10px;color:#1e1e1e;font-weight:normal;width:20px;text-align:center;">17</div>
<div style="left:714.4px;top:702.6px;font-size:7.6px;line-height:10px;color:#1e1e1e;font-weight:normal;width:20px;text-align:center;">15</div>
<div style="left:694.1px;top:706.5px;font-size:7.6px;line-height:10px;color:#1e1e1e;font-weight:normal;width:20px;text-align:center;">9</div>
<div style="left:602.8px;top:714.2px;font-size:7.6px;line-height:10px;color:#1e1e1e;font-weight:normal;width:20px;text-align:center;">16</div>
<div style="left:640.2px;top:716.6px;font-size:7.6px;line-height:10px;color:#1e1e1e;font-weight:normal;width:20px;text-align:center;">12</div>
<div style="left:740.1px;top:719.8px;font-size:7.6px;line-height:10px;color:#1e1e1e;font-weight:normal;width:20px;text-align:center;">6</div>
<div style="left:714.8px;top:722.9px;font-size:7.6px;line-height:10px;color:#1e1e1e;font-weight:normal;width:20px;text-align:center;">3</div>
<div style="left:594.9px;top:746.6px;font-size:7.6px;line-height:10px;color:#1e1e1e;font-weight:normal;width:20px;text-align:center;">1</div>
<div style="left:614.1px;top:745.6px;font-size:7.6px;line-height:10px;color:#1e1e1e;font-weight:normal;width:20px;text-align:center;">5</div>
<div style="left:703.7px;top:748.6px;font-size:7.6px;line-height:10px;color:#1e1e1e;font-weight:normal;width:20px;text-align:center;">14</div>
<div style="left:744.8px;top:754.1px;font-size:7.6px;line-height:10px;color:#1e1e1e;font-weight:normal;width:20px;text-align:center;">11</div>
<div style="left:613.1px;top:776.6px;font-size:7.6px;line-height:10px;color:#1e1e1e;font-weight:normal;width:20px;text-align:center;">13</div>
<div style="left:704.7px;top:781.0px;font-size:7.6px;line-height:10px;color:#1e1e1e;font-weight:normal;width:20px;text-align:center;">2</div>
<div style="left:621.3px;top:650.9px;font-size:7.4px;line-height:10px;color:#1e1e1e;font-weight:normal;width:40px;text-align:center;">0.89R</div>
<div style="left:686.6px;top:650.9px;font-size:7.4px;line-height:10px;color:#1e1e1e;font-weight:normal;width:40px;text-align:center;">0.66R</div>
<div style="left:701.4px;top:637.2px;font-size:7.4px;line-height:10px;color:#1e1e1e;font-weight:normal;width:40px;text-align:center;">0.99R</div>
<div style="left:769.7px;top:714.2px;width:40px;height:10px;line-height:10px;font-size:7.4px;color:#1e1e1e;text-align:center;transform:rotate(-90deg)">1r</div>
<div style="left:761.6px;top:726.3px;width:40px;height:10px;line-height:10px;font-size:7.4px;color:#1e1e1e;text-align:center;transform:rotate(-90deg)">0.75r</div>
<div style="left:754.5px;top:731.4px;width:40px;height:10px;line-height:10px;font-size:7.4px;color:#1e1e1e;text-align:center;transform:rotate(-90deg)">0.45r</div>
<div style="left:744.3px;top:777.0px;width:40px;height:10px;line-height:10px;font-size:7.4px;color:#1e1e1e;text-align:center;transform:rotate(-90deg)">0.15r</div>
</body></html>
